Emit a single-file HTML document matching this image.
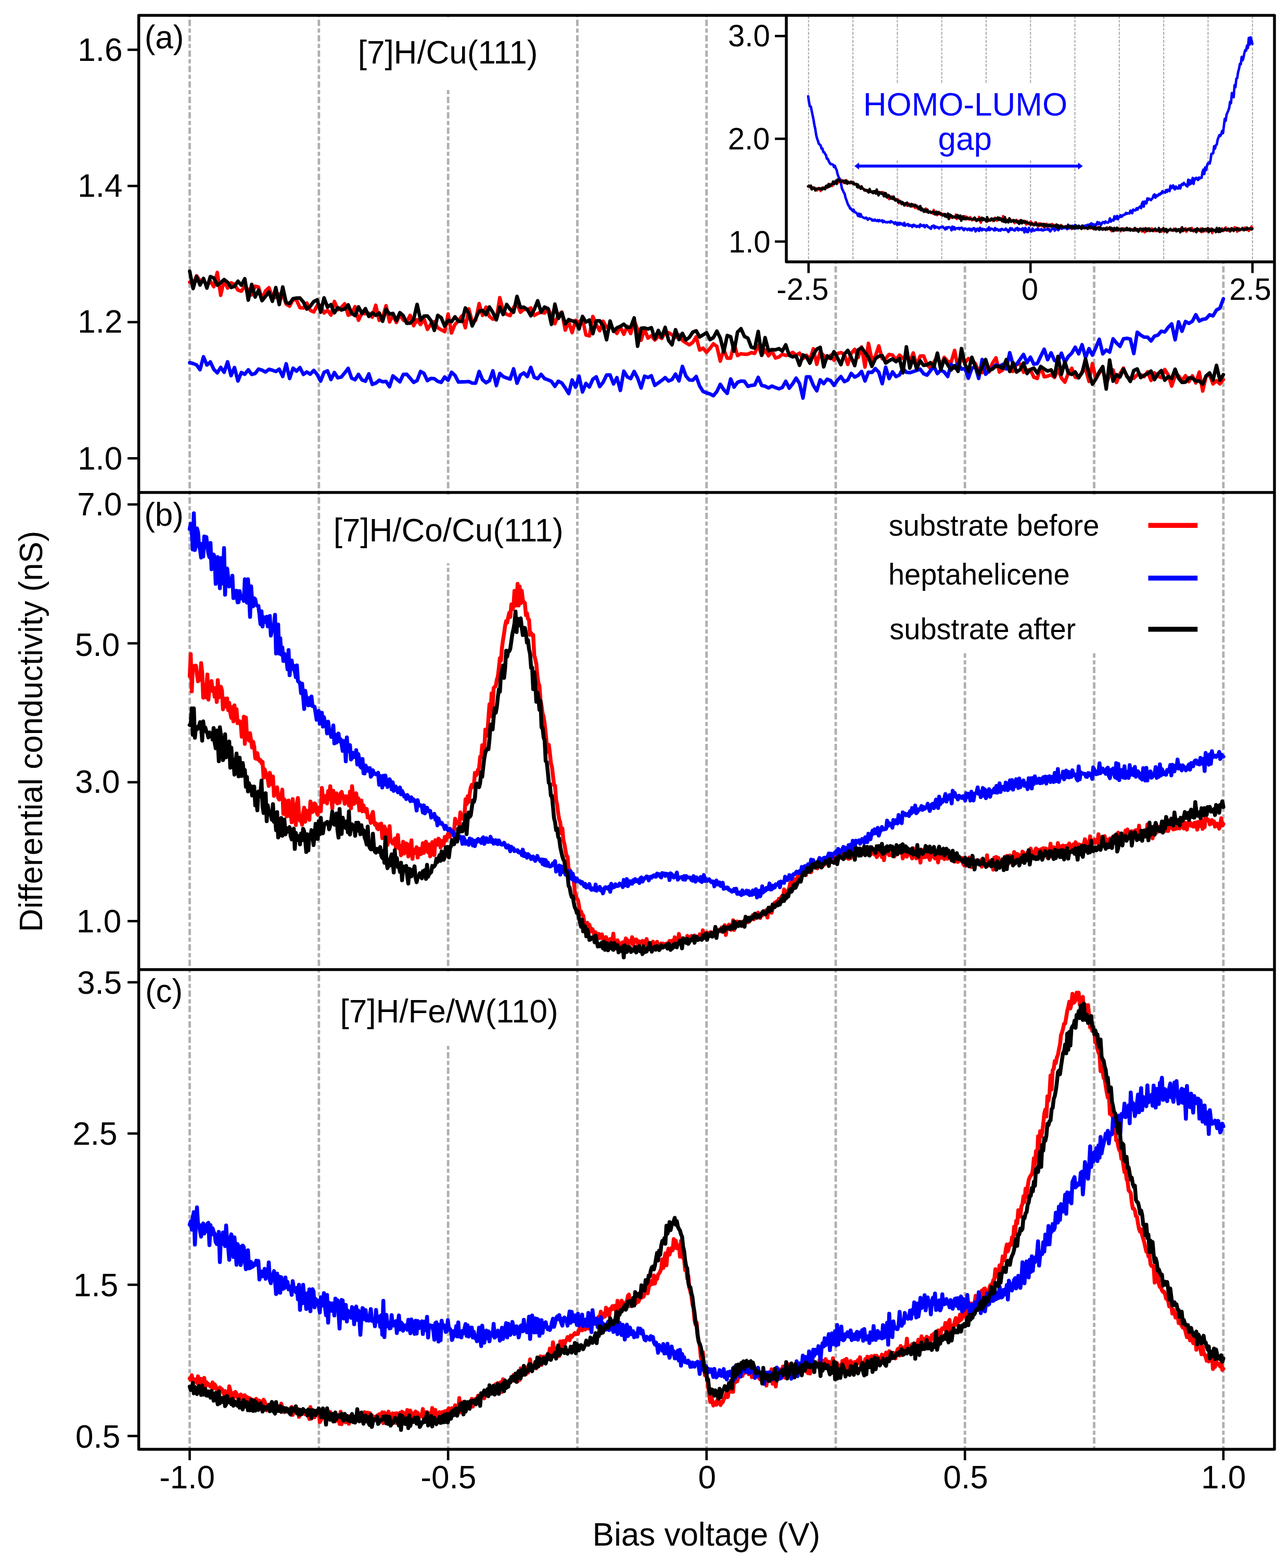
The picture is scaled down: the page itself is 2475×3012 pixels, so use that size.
<!DOCTYPE html>
<html><head><meta charset="utf-8"><title>Differential conductivity</title>
<style>html,body{margin:0;padding:0;background:#fff;}svg{display:block;}</style></head>
<body><svg width="2475" height="3012" viewBox="0 0 2475 3012">
<defs><clipPath id="cpall"><rect x="266.6" y="29.4" width="2182.4" height="2754.6"/></clipPath>
<clipPath id="cpa"><rect x="266.6" y="29.4" width="2182.4" height="916.6"/></clipPath>
<clipPath id="cpb"><rect x="266.6" y="946.0" width="2182.4" height="916.5"/></clipPath>
<clipPath id="cpc"><rect x="266.6" y="1862.5" width="2182.4" height="921.5"/></clipPath>
<clipPath id="cpi"><rect x="1511" y="29.4" width="938.0" height="473.6"/></clipPath></defs>
<rect width="2475" height="3012" fill="#fff"/>
<g stroke="#b0b0b0" stroke-width="4.8" stroke-dasharray="12.1 4.75 8.0 4.75" clip-path="url(#cpall)"><line x1="364.5" y1="8.2" x2="364.5" y2="2784.0"/><line x1="612.8" y1="8.2" x2="612.8" y2="2784.0"/><line x1="861.1" y1="8.2" x2="861.1" y2="2784.0"/><line x1="1109.4" y1="8.2" x2="1109.4" y2="2784.0"/><line x1="1357.7" y1="8.2" x2="1357.7" y2="2784.0"/><line x1="1605.9" y1="8.2" x2="1605.9" y2="2784.0"/><line x1="1854.2" y1="8.2" x2="1854.2" y2="2784.0"/><line x1="2102.5" y1="8.2" x2="2102.5" y2="2784.0"/><line x1="2350.8" y1="8.2" x2="2350.8" y2="2784.0"/></g>
<g fill="#fff">
<rect x="680" y="34" width="360" height="139"/>
<rect x="640" y="950" width="460" height="132"/>
<rect x="640" y="1866" width="460" height="143"/>
<rect x="1612" y="950" width="733" height="305"/>
<rect x="1511" y="29.4" width="938.0" height="473.6"/>
</g>
<g stroke="#aaaaaa" stroke-width="2.1" stroke-dasharray="5.9 2.7 4.1 2.7"><line x1="1553.7" y1="30.2" x2="1553.7" y2="500.5"/><line x1="1639.0" y1="30.2" x2="1639.0" y2="500.5"/><line x1="1724.3" y1="30.2" x2="1724.3" y2="500.5"/><line x1="1809.6" y1="30.2" x2="1809.6" y2="500.5"/><line x1="1894.9" y1="30.2" x2="1894.9" y2="500.5"/><line x1="1980.2" y1="30.2" x2="1980.2" y2="500.5"/><line x1="2065.5" y1="30.2" x2="2065.5" y2="500.5"/><line x1="2150.8" y1="30.2" x2="2150.8" y2="500.5"/><line x1="2236.1" y1="30.2" x2="2236.1" y2="500.5"/><line x1="2321.4" y1="30.2" x2="2321.4" y2="500.5"/><line x1="2406.7" y1="30.2" x2="2406.7" y2="500.5"/></g>
<rect x="1655" y="162" width="400" height="146" fill="#fff"/>
<polyline points="364.5,541.9 371.1,545.4 377.7,529.8 384.4,539.4 391.0,537.1 397.6,549.4 404.2,539.8 410.8,550.8 417.5,523.2 424.1,567.3 430.7,538.5 437.3,553.4 444.0,543.3 450.6,546.1 457.2,557.2 463.8,559.4 470.4,549.9 477.1,556.4 483.7,566.3 490.3,549.8 496.9,551.6 503.5,574.6 510.2,558.8 516.8,552.7 523.4,570.3 530.0,571.3 536.6,564.6 543.3,566.2 549.9,584.0 556.5,588.1 563.1,575.4 569.8,576.5 576.4,591.2 583.0,591.7 589.6,582.2 596.2,596.1 602.9,599.3 609.5,586.9 616.1,587.0 622.7,601.2 629.3,596.1 636.0,605.2 642.6,579.0 649.2,594.8 655.8,591.1 662.4,583.5 669.1,605.5 675.7,602.6 682.3,589.1 688.9,615.2 695.5,601.8 702.2,602.6 708.8,601.7 715.4,609.3 722.0,586.2 728.7,615.4 735.3,609.0 741.9,587.2 748.5,618.4 755.1,605.7 761.8,619.4 768.4,604.8 775.0,614.9 781.6,618.1 788.2,605.7 794.9,625.7 801.5,614.0 808.1,623.5 814.7,612.2 821.3,632.7 828.0,622.6 834.6,617.8 841.2,629.6 847.8,633.5 854.5,637.1 861.1,603.1 867.7,639.6 874.3,623.1 880.9,616.4 887.6,606.8 894.2,629.6 900.8,593.4 907.4,618.2 914.0,615.4 920.7,583.2 927.3,606.0 933.9,590.0 940.5,607.9 947.1,613.1 953.8,612.0 960.4,571.8 967.0,597.3 973.6,603.9 980.3,606.3 986.9,590.5 993.5,583.8 1000.1,599.8 1006.7,594.0 1013.4,594.7 1020.0,591.6 1026.6,605.9 1033.2,602.1 1039.8,599.8 1046.5,601.4 1053.1,592.8 1059.7,606.1 1066.3,621.8 1072.9,604.0 1079.6,599.7 1086.2,634.1 1092.8,617.9 1099.4,638.9 1106.1,615.2 1112.7,619.1 1119.3,612.0 1125.9,643.4 1132.5,645.3 1139.2,607.9 1145.8,623.3 1152.4,635.3 1159.0,617.1 1165.6,628.6 1172.3,626.2 1178.9,632.4 1185.5,640.5 1192.1,627.8 1198.7,642.1 1205.4,626.9 1212.0,640.7 1218.6,615.1 1225.2,632.8 1231.9,653.4 1238.5,632.2 1245.1,649.5 1251.7,645.0 1258.3,653.2 1265.0,645.7 1271.6,650.1 1278.2,638.8 1284.8,639.0 1291.4,643.3 1298.1,648.2 1304.7,643.4 1311.3,653.9 1317.9,658.4 1324.5,662.4 1331.2,657.7 1337.8,646.9 1344.4,672.4 1351.0,668.8 1357.7,676.8 1364.3,669.3 1370.9,660.4 1377.5,665.5 1384.1,693.6 1390.8,671.8 1397.4,688.2 1404.0,688.0 1410.6,659.2 1417.2,683.1 1423.9,679.5 1430.5,680.5 1437.1,680.3 1443.7,677.4 1450.3,678.8 1457.0,662.9 1463.6,682.8 1470.2,672.2 1476.8,683.4 1483.4,674.5 1490.1,687.8 1496.7,685.8 1503.3,680.4 1509.9,682.8 1516.6,680.9 1523.2,676.9 1529.8,682.1 1536.4,678.4 1543.0,688.9 1549.7,682.5 1556.3,690.2 1562.9,670.0 1569.5,699.8 1576.1,675.7 1582.8,683.1 1589.4,688.9 1596.0,682.7 1602.6,691.8 1609.2,679.3 1615.9,677.2 1622.5,680.6 1629.1,700.1 1635.7,678.7 1642.4,671.1 1649.0,686.6 1655.6,666.6 1662.2,705.1 1668.8,659.5 1675.5,691.7 1682.1,684.3 1688.7,664.4 1695.3,689.0 1701.9,688.8 1708.6,680.8 1715.2,682.2 1721.8,691.0 1728.4,682.0 1735.0,688.2 1741.7,684.3 1748.3,694.8 1754.9,677.9 1761.5,702.3 1768.2,684.0 1774.8,683.6 1781.4,700.3 1788.0,707.8 1794.6,695.7 1801.3,684.4 1807.9,702.2 1814.5,686.5 1821.1,694.4 1827.7,695.9 1834.4,672.9 1841.0,708.1 1847.6,687.7 1854.2,697.1 1860.8,688.8 1867.5,692.0 1874.1,698.3 1880.7,713.9 1887.3,715.8 1894.0,696.6 1900.6,714.6 1907.2,697.6 1913.8,687.4 1920.4,714.7 1927.1,710.3 1933.7,701.5 1940.3,712.8 1946.9,713.4 1953.5,699.1 1960.2,699.5 1966.8,715.0 1973.4,710.9 1980.0,710.2 1986.6,724.5 1993.3,727.1 1999.9,704.0 2006.5,723.9 2013.1,722.6 2019.8,720.1 2026.4,725.0 2033.0,710.0 2039.6,726.3 2046.2,734.1 2052.9,716.8 2059.5,707.4 2066.1,724.6 2072.7,725.8 2079.3,714.2 2086.0,708.3 2092.6,732.7 2099.2,698.4 2105.8,727.5 2112.4,716.7 2119.1,708.4 2125.7,737.6 2132.3,720.8 2138.9,710.6 2145.5,734.8 2152.2,718.1 2158.8,707.0 2165.4,723.8 2172.0,727.5 2178.7,726.7 2185.3,719.8 2191.9,719.7 2198.5,723.5 2205.1,714.4 2211.8,730.8 2218.4,716.3 2225.0,722.6 2231.6,725.4 2238.2,709.8 2244.9,720.3 2251.5,741.7 2258.1,722.2 2264.7,721.8 2271.3,731.2 2278.0,721.6 2284.6,733.1 2291.2,721.9 2297.8,735.6 2304.5,714.8 2311.1,751.2 2317.7,722.4 2324.3,719.6 2330.9,737.5 2337.6,731.3 2344.2,737.4 2350.8,729.1" stroke="#ff0000" stroke-width="6.8" fill="none" stroke-linejoin="round" stroke-linecap="round" clip-path="url(#cpa)"/>
<polyline points="364.5,696.6 371.1,698.4 377.7,700.9 384.4,710.2 391.0,685.3 397.6,701.2 404.2,695.2 410.8,709.3 417.5,716.2 424.1,705.7 430.7,715.1 437.3,694.9 444.0,721.6 450.6,705.9 457.2,731.9 463.8,715.5 470.4,719.0 477.1,710.3 483.7,719.3 490.3,717.4 496.9,708.9 503.5,711.0 510.2,714.7 516.8,709.3 523.4,711.1 530.0,713.6 536.6,709.1 543.3,723.3 549.9,698.8 556.5,727.1 563.1,707.2 569.8,712.9 576.4,706.2 583.0,719.2 589.6,714.5 596.2,718.8 602.9,711.5 609.5,719.4 616.1,732.1 622.7,715.2 629.3,712.4 636.0,729.0 642.6,715.5 649.2,725.8 655.8,724.2 662.4,716.4 669.1,707.5 675.7,726.5 682.3,729.4 688.9,719.2 695.5,729.8 702.2,732.2 708.8,718.2 715.4,738.4 722.0,736.0 728.7,730.5 735.3,733.3 741.9,732.7 748.5,742.8 755.1,722.0 761.8,727.6 768.4,733.5 775.0,719.2 781.6,719.0 788.2,726.6 794.9,734.6 801.5,731.0 808.1,713.6 814.7,717.2 821.3,731.2 828.0,726.8 834.6,727.3 841.2,732.6 847.8,734.6 854.5,724.2 861.1,730.5 867.7,715.1 874.3,721.0 880.9,733.9 887.6,733.5 894.2,733.4 900.8,732.9 907.4,735.8 914.0,736.1 920.7,713.6 927.3,729.7 933.9,735.2 940.5,731.4 947.1,712.3 953.8,740.7 960.4,717.3 967.0,723.4 973.6,726.1 980.3,728.3 986.9,708.5 993.5,736.1 1000.1,720.3 1006.7,716.3 1013.4,723.3 1020.0,705.7 1026.6,724.9 1033.2,727.4 1039.8,719.2 1046.5,727.3 1053.1,729.6 1059.7,732.7 1066.3,742.1 1072.9,732.2 1079.6,735.7 1086.2,745.2 1092.8,756.1 1099.4,729.8 1106.1,744.0 1112.7,722.6 1119.3,753.0 1125.9,736.5 1132.5,743.4 1139.2,728.5 1145.8,723.9 1152.4,742.5 1159.0,734.3 1165.6,720.5 1172.3,720.2 1178.9,737.6 1185.5,725.3 1192.1,750.0 1198.7,713.0 1205.4,723.9 1212.0,727.3 1218.6,713.6 1225.2,726.0 1231.9,745.2 1238.5,722.6 1245.1,725.2 1251.7,721.9 1258.3,740.3 1265.0,735.5 1271.6,730.8 1278.2,725.4 1284.8,732.0 1291.4,729.0 1298.1,718.5 1304.7,731.6 1311.3,703.7 1317.9,722.0 1324.5,729.8 1331.2,730.4 1337.8,723.2 1344.4,741.4 1351.0,752.0 1357.7,754.6 1364.3,756.8 1370.9,760.1 1377.5,752.1 1384.1,738.2 1390.8,748.7 1397.4,755.6 1404.0,727.9 1410.6,743.6 1417.2,734.5 1423.9,731.8 1430.5,732.5 1437.1,742.2 1443.7,740.3 1450.3,739.5 1457.0,724.9 1463.6,740.4 1470.2,741.9 1476.8,745.2 1483.4,741.6 1490.1,744.5 1496.7,746.9 1503.3,744.4 1509.9,732.3 1516.6,745.7 1523.2,737.1 1529.8,726.4 1536.4,736.8 1543.0,764.6 1549.7,723.9 1556.3,723.9 1562.9,740.1 1569.5,750.8 1576.1,729.4 1582.8,737.0 1589.4,728.5 1596.0,731.0 1602.6,740.3 1609.2,730.5 1615.9,723.4 1622.5,733.1 1629.1,730.0 1635.7,717.3 1642.4,724.3 1649.0,721.2 1655.6,713.6 1662.2,731.9 1668.8,714.8 1675.5,715.4 1682.1,708.1 1688.7,715.0 1695.3,737.0 1701.9,705.4 1708.6,727.3 1715.2,714.4 1721.8,723.5 1728.4,720.3 1735.0,707.5 1741.7,715.2 1748.3,715.9 1754.9,713.8 1761.5,711.5 1768.2,709.0 1774.8,717.9 1781.4,720.6 1788.0,711.9 1794.6,703.8 1801.3,717.7 1807.9,711.2 1814.5,714.6 1821.1,723.3 1827.7,699.9 1834.4,706.9 1841.0,698.1 1847.6,709.1 1854.2,707.8 1860.8,726.6 1867.5,707.7 1874.1,703.9 1880.7,727.0 1887.3,690.6 1894.0,719.0 1900.6,712.2 1907.2,707.2 1913.8,700.9 1920.4,703.5 1927.1,699.9 1933.7,708.6 1940.3,677.5 1946.9,701.7 1953.5,699.8 1960.2,690.1 1966.8,680.8 1973.4,696.8 1980.0,686.1 1986.6,699.7 1993.3,698.4 1999.9,684.2 2006.5,670.8 2013.1,690.9 2019.8,677.8 2026.4,692.6 2033.0,694.5 2039.6,678.4 2046.2,696.1 2052.9,684.8 2059.5,678.4 2066.1,666.9 2072.7,679.8 2079.3,662.1 2086.0,686.8 2092.6,669.7 2099.2,682.2 2105.8,667.8 2112.4,651.7 2119.1,679.7 2125.7,672.3 2132.3,676.4 2138.9,650.8 2145.5,658.9 2152.2,665.4 2158.8,650.8 2165.4,649.9 2172.0,651.4 2178.7,679.3 2185.3,638.1 2191.9,643.7 2198.5,647.7 2205.1,647.6 2211.8,654.9 2218.4,645.8 2225.0,643.8 2231.6,636.2 2238.2,637.7 2244.9,628.7 2251.5,622.2 2258.1,652.8 2264.7,618.2 2271.3,636.3 2278.0,617.6 2284.6,621.2 2291.2,617.2 2297.8,604.5 2304.5,616.7 2311.1,613.4 2317.7,612.3 2324.3,604.7 2330.9,606.8 2337.6,595.5 2344.2,591.9 2350.8,574.0" stroke="#0000ff" stroke-width="6.8" fill="none" stroke-linejoin="round" stroke-linecap="round" clip-path="url(#cpa)"/>
<polyline points="364.5,520.9 371.1,554.4 377.7,531.0 384.4,547.6 391.0,534.7 397.6,553.4 404.2,531.3 410.8,533.9 417.5,547.8 424.1,543.1 430.7,537.0 437.3,542.1 444.0,552.2 450.6,550.1 457.2,540.2 463.8,547.9 470.4,535.2 477.1,576.5 483.7,546.2 490.3,570.6 496.9,557.3 503.5,577.6 510.2,569.4 516.8,560.9 523.4,578.8 530.0,552.3 536.6,585.0 543.3,551.3 549.9,581.4 556.5,583.0 563.1,573.6 569.8,572.7 576.4,572.4 583.0,580.3 589.6,593.7 596.2,588.3 602.9,579.3 609.5,575.9 616.1,599.7 622.7,572.1 629.3,590.0 636.0,585.1 642.6,600.9 649.2,590.8 655.8,595.6 662.4,593.5 669.1,585.6 675.7,601.8 682.3,606.3 688.9,589.4 695.5,602.2 702.2,592.8 708.8,607.8 715.4,601.1 722.0,605.8 728.7,601.2 735.3,617.1 741.9,593.9 748.5,603.3 755.1,602.0 761.8,616.0 768.4,600.6 775.0,606.6 781.6,621.2 788.2,620.6 794.9,613.6 801.5,584.6 808.1,614.7 814.7,607.2 821.3,606.8 828.0,615.6 834.6,634.7 841.2,605.7 847.8,610.3 854.5,626.4 861.1,615.2 867.7,617.9 874.3,608.5 880.9,617.1 887.6,617.4 894.2,591.5 900.8,602.3 907.4,626.1 914.0,611.9 920.7,597.9 927.3,596.3 933.9,604.6 940.5,589.7 947.1,600.1 953.8,614.4 960.4,590.0 967.0,604.2 973.6,584.8 980.3,594.2 986.9,599.9 993.5,569.2 1000.1,590.7 1006.7,589.9 1013.4,594.7 1020.0,606.6 1026.6,594.4 1033.2,577.7 1039.8,599.4 1046.5,589.7 1053.1,593.1 1059.7,623.2 1066.3,584.2 1072.9,611.7 1079.6,600.2 1086.2,622.1 1092.8,613.8 1099.4,616.4 1106.1,618.1 1112.7,632.0 1119.3,607.8 1125.9,618.6 1132.5,614.8 1139.2,641.0 1145.8,616.3 1152.4,616.1 1159.0,625.8 1165.6,652.6 1172.3,616.6 1178.9,636.8 1185.5,629.7 1192.1,627.0 1198.7,622.7 1205.4,629.3 1212.0,628.2 1218.6,610.6 1225.2,665.1 1231.9,630.6 1238.5,630.0 1245.1,632.0 1251.7,629.4 1258.3,650.6 1265.0,634.7 1271.6,647.6 1278.2,628.8 1284.8,653.8 1291.4,662.3 1298.1,633.2 1304.7,652.3 1311.3,640.2 1317.9,653.1 1324.5,648.1 1331.2,638.0 1337.8,635.4 1344.4,647.2 1351.0,643.3 1357.7,639.0 1364.3,652.5 1370.9,648.5 1377.5,636.1 1384.1,649.3 1390.8,676.3 1397.4,644.4 1404.0,646.7 1410.6,674.6 1417.2,637.9 1423.9,631.4 1430.5,646.4 1437.1,649.5 1443.7,667.0 1450.3,668.6 1457.0,636.7 1463.6,682.6 1470.2,648.5 1476.8,673.7 1483.4,671.6 1490.1,672.0 1496.7,669.6 1503.3,674.4 1509.9,662.4 1516.6,682.7 1523.2,685.5 1529.8,683.7 1536.4,701.8 1543.0,681.7 1549.7,685.6 1556.3,697.6 1562.9,680.7 1569.5,670.8 1576.1,667.1 1582.8,704.7 1589.4,683.6 1596.0,688.6 1602.6,675.6 1609.2,687.2 1615.9,700.5 1622.5,680.3 1629.1,673.1 1635.7,686.3 1642.4,702.3 1649.0,672.0 1655.6,667.8 1662.2,677.0 1668.8,685.9 1675.5,703.7 1682.1,689.1 1688.7,684.3 1695.3,683.1 1701.9,697.3 1708.6,692.9 1715.2,689.6 1721.8,694.7 1728.4,688.9 1735.0,716.4 1741.7,666.2 1748.3,707.2 1754.9,686.8 1761.5,708.5 1768.2,692.9 1774.8,701.9 1781.4,700.8 1788.0,696.5 1794.6,704.9 1801.3,678.2 1807.9,709.9 1814.5,689.7 1821.1,700.8 1827.7,710.7 1834.4,702.6 1841.0,713.4 1847.6,669.5 1854.2,699.4 1860.8,713.6 1867.5,686.3 1874.1,704.2 1880.7,719.5 1887.3,704.6 1894.0,690.5 1900.6,712.0 1907.2,708.9 1913.8,703.1 1920.4,704.1 1927.1,707.4 1933.7,690.8 1940.3,713.4 1946.9,696.8 1953.5,714.7 1960.2,710.0 1966.8,697.4 1973.4,717.5 1980.0,709.6 1986.6,707.2 1993.3,716.7 1999.9,704.0 2006.5,708.8 2013.1,712.7 2019.8,710.4 2026.4,723.1 2033.0,684.6 2039.6,719.1 2046.2,695.1 2052.9,716.9 2059.5,719.2 2066.1,714.4 2072.7,725.5 2079.3,716.0 2086.0,689.4 2092.6,717.7 2099.2,737.9 2105.8,727.9 2112.4,714.1 2119.1,704.2 2125.7,747.3 2132.3,691.6 2138.9,732.2 2145.5,719.7 2152.2,724.1 2158.8,708.9 2165.4,721.7 2172.0,732.8 2178.7,711.6 2185.3,708.7 2191.9,725.3 2198.5,720.8 2205.1,717.9 2211.8,712.8 2218.4,729.3 2225.0,718.5 2231.6,711.8 2238.2,730.4 2244.9,723.4 2251.5,727.0 2258.1,709.2 2264.7,726.5 2271.3,734.6 2278.0,734.0 2284.6,726.0 2291.2,726.1 2297.8,731.9 2304.5,731.8 2311.1,738.0 2317.7,721.8 2324.3,716.3 2330.9,730.1 2337.6,701.8 2344.2,730.5 2350.8,719.6" stroke="#000000" stroke-width="6.8" fill="none" stroke-linejoin="round" stroke-linecap="round" clip-path="url(#cpa)"/>
<polyline points="364.5,1299.2 366.5,1256.5 368.5,1328.1 370.5,1280.7 372.5,1279.3 374.5,1283.3 376.5,1278.7 378.5,1295.5 380.5,1308.7 382.5,1301.2 384.5,1306.1 386.5,1273.7 388.5,1292.0 390.5,1340.2 392.5,1315.5 394.5,1339.5 396.5,1320.5 398.5,1295.8 400.5,1343.9 402.5,1321.5 404.5,1320.2 406.5,1308.3 408.5,1327.3 410.5,1321.2 412.5,1338.2 414.5,1321.8 416.5,1348.4 418.5,1306.4 420.5,1339.8 422.5,1336.1 424.5,1319.3 426.5,1325.8 428.5,1362.6 430.5,1345.9 432.5,1342.1 434.5,1357.2 436.5,1341.8 438.5,1364.2 440.5,1350.1 442.5,1369.3 444.5,1379.0 446.5,1358.3 448.5,1385.7 450.5,1354.9 452.5,1379.1 454.5,1362.4 456.5,1389.3 458.5,1387.5 460.5,1385.4 462.5,1388.8 464.5,1415.1 466.5,1410.8 468.5,1376.8 470.5,1428.9 472.5,1378.4 474.5,1412.1 476.5,1418.1 478.5,1422.5 480.5,1408.4 482.5,1423.0 484.5,1435.9 486.5,1425.0 488.5,1434.5 490.5,1456.7 492.5,1457.6 494.5,1446.8 496.5,1457.8 498.5,1461.3 500.5,1459.9 502.5,1466.0 504.5,1463.5 506.5,1493.9 508.5,1477.7 510.5,1483.7 512.5,1491.3 514.5,1496.7 516.5,1509.7 518.5,1484.6 520.5,1494.8 522.5,1506.4 524.5,1491.8 526.5,1528.7 528.5,1515.4 530.5,1518.1 532.5,1512.4 534.5,1532.3 536.5,1535.9 538.5,1530.9 540.5,1527.4 542.5,1516.9 544.5,1563.4 546.5,1535.8 548.5,1539.4 550.5,1568.2 552.5,1554.8 554.5,1537.7 556.5,1567.6 558.5,1561.5 560.5,1579.6 562.5,1535.1 564.5,1570.1 566.5,1565.6 568.5,1584.7 570.5,1544.0 572.5,1532.9 574.5,1563.0 576.5,1576.4 578.5,1575.1 580.5,1584.2 582.5,1561.1 584.5,1551.4 586.5,1578.4 588.5,1557.0 590.5,1558.2 592.5,1560.9 594.5,1574.8 596.5,1539.4 598.5,1548.0 600.5,1559.8 602.5,1553.8 604.5,1543.3 606.5,1545.2 608.5,1560.4 610.5,1565.1 612.5,1551.3 614.5,1552.7 616.5,1558.4 618.5,1513.6 620.5,1534.4 622.5,1540.6 624.5,1529.0 626.5,1532.6 628.5,1543.3 630.5,1519.8 632.5,1535.4 634.5,1510.2 636.5,1529.7 638.5,1553.0 640.5,1518.9 642.5,1539.1 644.5,1540.0 646.5,1524.0 648.5,1543.2 650.5,1534.0 652.5,1541.9 654.5,1524.0 656.5,1521.1 658.5,1530.4 660.5,1533.6 662.5,1544.0 664.5,1529.5 666.5,1530.3 668.5,1533.4 670.5,1547.0 672.5,1520.7 674.5,1552.8 676.5,1510.3 678.5,1530.2 680.5,1544.2 682.5,1535.9 684.5,1523.9 686.5,1541.4 688.5,1533.4 690.5,1556.6 692.5,1548.3 694.5,1537.7 696.6,1558.6 698.6,1547.2 700.6,1556.5 702.6,1559.1 704.6,1553.8 706.6,1570.3 708.6,1568.6 710.6,1570.5 712.6,1580.7 714.6,1564.6 716.6,1559.6 718.6,1578.6 720.6,1584.2 722.6,1581.6 724.6,1590.8 726.6,1592.8 728.6,1583.5 730.6,1589.7 732.6,1582.0 734.6,1610.0 736.6,1588.9 738.6,1587.7 740.6,1592.9 742.6,1602.6 744.6,1622.9 746.6,1608.0 748.6,1586.9 750.6,1616.5 752.6,1616.1 754.6,1620.4 756.6,1617.9 758.6,1610.8 760.6,1628.3 762.6,1615.7 764.6,1604.1 766.6,1629.5 768.6,1624.6 770.6,1642.9 772.6,1638.1 774.6,1616.9 776.6,1639.5 778.6,1634.6 780.6,1620.3 782.6,1621.4 784.6,1645.3 786.6,1640.7 788.6,1633.3 790.6,1614.3 792.6,1649.9 794.6,1633.0 796.6,1631.7 798.6,1638.3 800.6,1627.4 802.6,1647.3 804.6,1634.5 806.6,1630.6 808.6,1640.9 810.6,1634.0 812.6,1619.7 814.6,1638.4 816.6,1629.0 818.6,1616.9 820.6,1631.8 822.6,1637.3 824.6,1622.1 826.6,1645.1 828.6,1639.2 830.6,1617.8 832.6,1633.1 834.6,1642.8 836.6,1614.1 838.6,1616.8 840.6,1622.7 842.6,1611.0 844.6,1614.1 846.6,1628.0 848.6,1615.4 850.6,1623.2 852.6,1622.1 854.6,1607.7 856.6,1614.7 858.6,1608.9 860.6,1602.4 862.6,1599.4 864.6,1607.7 866.6,1596.1 868.6,1599.2 870.6,1600.7 872.6,1595.3 874.6,1572.8 876.6,1580.3 878.6,1582.1 880.6,1580.7 882.6,1584.1 884.6,1560.6 886.6,1569.8 888.6,1571.5 890.6,1573.6 892.6,1564.7 894.6,1535.3 896.6,1544.9 898.6,1529.8 900.6,1540.7 902.6,1524.2 904.6,1512.6 906.6,1507.7 908.6,1511.6 910.6,1509.0 912.6,1484.7 914.6,1489.8 916.6,1486.7 918.6,1478.7 920.6,1475.7 922.6,1454.1 924.6,1454.9 926.6,1431.4 928.6,1449.0 930.6,1442.4 932.6,1401.6 934.6,1413.7 936.6,1408.5 938.6,1379.2 940.6,1352.7 942.6,1376.1 944.6,1332.0 946.6,1359.0 948.6,1321.8 950.6,1319.3 952.6,1318.0 954.6,1306.2 956.6,1299.7 958.6,1283.4 960.6,1264.3 962.6,1268.9 964.6,1243.9 966.6,1229.2 968.6,1216.9 970.6,1202.3 972.6,1193.1 974.6,1196.2 976.6,1185.9 978.6,1177.0 980.6,1185.1 982.6,1161.0 984.6,1170.1 986.6,1166.4 988.6,1135.1 990.6,1149.1 992.6,1162.9 994.6,1121.6 996.6,1163.1 998.6,1126.7 1000.6,1158.6 1002.6,1135.0 1004.6,1152.2 1006.6,1157.2 1008.6,1158.1 1010.6,1181.6 1012.6,1177.9 1014.6,1188.7 1016.6,1190.5 1018.6,1219.3 1020.6,1215.7 1022.6,1220.3 1024.6,1219.9 1026.6,1258.8 1028.6,1265.9 1030.6,1275.1 1032.6,1298.2 1034.6,1312.0 1036.6,1317.3 1038.6,1345.5 1040.6,1356.0 1042.6,1370.3 1044.6,1376.8 1046.6,1390.4 1048.6,1408.1 1050.6,1429.3 1052.6,1444.1 1054.6,1430.8 1056.6,1446.1 1058.6,1465.9 1060.6,1472.7 1062.6,1490.4 1064.6,1508.2 1066.6,1509.3 1068.6,1536.5 1070.6,1545.6 1072.6,1562.2 1074.6,1574.3 1076.6,1579.8 1078.6,1600.7 1080.6,1591.1 1082.6,1613.5 1084.6,1621.8 1086.6,1633.0 1088.6,1644.9 1090.6,1645.6 1092.6,1668.5 1094.6,1671.1 1096.6,1676.7 1098.6,1687.8 1100.6,1688.9 1102.6,1692.6 1104.6,1714.5 1106.6,1719.9 1108.6,1726.7 1110.6,1728.8 1112.6,1739.8 1114.6,1754.1 1116.6,1750.7 1118.6,1757.4 1120.6,1758.7 1122.6,1770.5 1124.6,1775.4 1126.6,1774.5 1128.6,1772.7 1130.6,1780.5 1132.6,1776.4 1134.6,1783.6 1136.6,1789.1 1138.6,1784.9 1140.6,1790.8 1142.6,1799.6 1144.6,1790.8 1146.6,1799.4 1148.6,1794.4 1150.6,1794.1 1152.6,1802.2 1154.6,1800.0 1156.6,1794.8 1158.6,1802.9 1160.6,1805.1 1162.6,1812.4 1164.6,1800.1 1166.6,1806.3 1168.6,1808.5 1170.6,1806.0 1172.6,1804.0 1174.6,1814.4 1176.6,1809.4 1178.6,1793.5 1180.6,1815.4 1182.6,1807.8 1184.6,1810.6 1186.6,1806.1 1188.6,1811.2 1190.6,1814.9 1192.6,1812.2 1194.6,1813.1 1196.6,1810.0 1198.6,1810.9 1200.6,1811.4 1202.6,1802.6 1204.6,1821.2 1206.6,1806.5 1208.6,1810.7 1210.6,1809.8 1212.6,1811.9 1214.6,1800.2 1216.6,1815.1 1218.6,1804.7 1220.6,1808.7 1222.6,1804.6 1224.6,1806.9 1226.6,1816.8 1228.6,1808.4 1230.6,1812.1 1232.6,1811.3 1234.6,1807.4 1236.6,1811.2 1238.6,1808.2 1240.6,1813.4 1242.6,1803.8 1244.6,1815.1 1246.6,1817.7 1248.6,1816.9 1250.6,1816.3 1252.6,1813.9 1254.6,1808.8 1256.6,1819.6 1258.6,1814.9 1260.6,1814.7 1262.6,1809.0 1264.6,1818.5 1266.6,1820.3 1268.6,1815.5 1270.6,1812.1 1272.6,1816.6 1274.6,1812.7 1276.6,1814.0 1278.6,1816.1 1280.6,1812.5 1282.6,1811.8 1284.6,1813.2 1286.6,1807.3 1288.6,1808.2 1290.6,1814.2 1292.6,1806.7 1294.6,1812.8 1296.6,1800.4 1298.6,1816.5 1300.6,1805.5 1302.6,1814.5 1304.6,1793.9 1306.6,1803.6 1308.6,1814.5 1310.6,1803.7 1312.6,1805.9 1314.6,1804.4 1316.6,1804.4 1318.6,1805.3 1320.6,1797.9 1322.6,1803.4 1324.6,1807.5 1326.6,1800.0 1328.6,1798.0 1330.6,1801.8 1332.6,1804.0 1334.6,1797.0 1336.6,1798.7 1338.6,1801.0 1340.6,1801.0 1342.6,1802.6 1344.6,1794.7 1346.6,1798.8 1348.6,1800.5 1350.6,1787.1 1352.6,1799.7 1354.6,1797.3 1356.6,1794.2 1358.7,1791.5 1360.7,1798.0 1362.7,1797.7 1364.7,1790.7 1366.7,1790.7 1368.7,1791.8 1370.7,1797.9 1372.7,1793.2 1374.7,1788.3 1376.7,1785.1 1378.7,1785.7 1380.7,1789.1 1382.7,1787.0 1384.7,1788.7 1386.7,1781.7 1388.7,1787.3 1390.7,1787.7 1392.7,1777.3 1394.7,1795.9 1396.7,1782.2 1398.7,1784.1 1400.7,1776.2 1402.7,1779.3 1404.7,1786.1 1406.7,1781.5 1408.7,1767.9 1410.7,1786.3 1412.7,1778.2 1414.7,1777.6 1416.7,1770.2 1418.7,1777.4 1420.7,1771.1 1422.7,1776.2 1424.7,1778.5 1426.7,1771.1 1428.7,1773.7 1430.7,1767.2 1432.7,1765.7 1434.7,1770.0 1436.7,1771.6 1438.7,1770.9 1440.7,1763.6 1442.7,1766.4 1444.7,1762.6 1446.7,1757.8 1448.7,1765.9 1450.7,1763.3 1452.7,1759.2 1454.7,1760.5 1456.7,1753.2 1458.7,1761.9 1460.7,1763.4 1462.7,1755.2 1464.7,1758.6 1466.7,1755.9 1468.7,1750.4 1470.7,1754.7 1472.7,1748.1 1474.7,1762.5 1476.7,1745.5 1478.7,1743.5 1480.7,1742.6 1482.7,1753.4 1484.7,1744.4 1486.7,1742.7 1488.7,1734.1 1490.7,1737.3 1492.7,1731.3 1494.7,1738.5 1496.7,1726.6 1498.7,1735.7 1500.7,1724.5 1502.7,1721.1 1504.7,1726.1 1506.7,1708.4 1508.7,1715.7 1510.7,1712.8 1512.7,1715.2 1514.7,1710.4 1516.7,1705.1 1518.7,1695.5 1520.7,1700.9 1522.7,1694.2 1524.7,1701.5 1526.7,1688.9 1528.7,1692.9 1530.7,1694.5 1532.7,1683.5 1534.7,1687.8 1536.7,1680.7 1538.7,1682.4 1540.7,1680.0 1542.7,1678.2 1544.7,1676.8 1546.7,1673.2 1548.7,1681.2 1550.7,1666.3 1552.7,1672.8 1554.7,1668.3 1556.7,1660.4 1558.7,1675.4 1560.7,1666.3 1562.7,1660.1 1564.7,1664.3 1566.7,1658.7 1568.7,1666.8 1570.7,1668.0 1572.7,1663.6 1574.7,1653.2 1576.7,1654.8 1578.7,1663.9 1580.7,1664.1 1582.7,1654.8 1584.7,1660.8 1586.7,1648.3 1588.7,1656.8 1590.7,1656.2 1592.7,1651.0 1594.7,1652.2 1596.7,1654.7 1598.7,1646.7 1600.7,1646.3 1602.7,1653.2 1604.7,1647.1 1606.7,1641.7 1608.7,1648.8 1610.7,1641.2 1612.7,1646.9 1614.7,1641.1 1616.7,1640.5 1618.7,1638.4 1620.7,1642.9 1622.7,1639.8 1624.7,1648.0 1626.7,1635.9 1628.7,1633.2 1630.7,1649.7 1632.7,1625.6 1634.7,1648.3 1636.7,1630.5 1638.7,1644.5 1640.7,1633.6 1642.7,1639.5 1644.7,1635.9 1646.7,1636.1 1648.7,1639.0 1650.7,1632.7 1652.7,1639.6 1654.7,1630.6 1656.7,1634.8 1658.7,1635.1 1660.7,1636.9 1662.7,1642.4 1664.7,1631.2 1666.7,1635.2 1668.7,1634.4 1670.7,1638.5 1672.7,1641.9 1674.7,1634.6 1676.7,1639.4 1678.7,1637.6 1680.7,1641.5 1682.7,1630.7 1684.7,1646.4 1686.7,1643.2 1688.7,1634.5 1690.7,1641.2 1692.7,1636.0 1694.7,1646.3 1696.7,1641.1 1698.7,1652.3 1700.7,1633.7 1702.7,1636.3 1704.7,1639.2 1706.7,1634.6 1708.7,1642.7 1710.7,1640.3 1712.7,1642.8 1714.7,1639.0 1716.7,1636.0 1718.7,1645.3 1720.7,1638.6 1722.7,1641.0 1724.7,1631.1 1726.7,1636.6 1728.7,1637.1 1730.7,1638.1 1732.7,1629.3 1734.7,1648.9 1736.7,1636.0 1738.7,1643.9 1740.7,1641.7 1742.7,1645.5 1744.7,1639.9 1746.7,1640.9 1748.7,1636.2 1750.7,1642.6 1752.7,1649.0 1754.7,1629.2 1756.7,1641.2 1758.7,1644.1 1760.7,1648.8 1762.7,1633.4 1764.7,1641.9 1766.7,1643.8 1768.7,1657.0 1770.7,1632.3 1772.7,1643.6 1774.7,1646.8 1776.7,1638.2 1778.7,1646.5 1780.7,1644.7 1782.7,1641.1 1784.7,1646.3 1786.7,1651.8 1788.7,1641.5 1790.7,1641.9 1792.7,1641.4 1794.7,1646.8 1796.7,1648.9 1798.7,1642.9 1800.7,1645.5 1802.7,1656.7 1804.7,1635.3 1806.7,1640.5 1808.7,1647.8 1810.7,1642.8 1812.7,1648.0 1814.7,1650.2 1816.7,1644.9 1818.7,1644.3 1820.7,1649.4 1822.7,1648.2 1824.7,1645.9 1826.7,1645.0 1828.7,1652.6 1830.7,1646.2 1832.7,1643.7 1834.7,1655.3 1836.7,1646.2 1838.7,1649.1 1840.7,1655.7 1842.7,1646.7 1844.7,1653.3 1846.7,1648.6 1848.7,1648.1 1850.7,1658.9 1852.7,1662.2 1854.7,1647.7 1856.7,1663.0 1858.7,1658.5 1860.7,1661.0 1862.7,1647.2 1864.7,1654.6 1866.7,1665.5 1868.7,1652.3 1870.7,1656.1 1872.7,1659.7 1874.7,1657.9 1876.7,1652.3 1878.7,1656.4 1880.7,1660.2 1882.7,1656.7 1884.7,1652.4 1886.7,1664.8 1888.7,1658.6 1890.7,1653.6 1892.7,1654.9 1894.7,1663.0 1896.7,1642.9 1898.7,1662.8 1900.7,1653.6 1902.7,1654.2 1904.7,1662.0 1906.7,1655.4 1908.7,1670.5 1910.7,1647.5 1912.7,1656.9 1914.7,1646.1 1916.7,1661.9 1918.7,1648.2 1920.7,1655.4 1922.7,1658.9 1924.7,1655.7 1926.7,1651.9 1928.7,1657.1 1930.7,1646.0 1932.7,1646.7 1934.7,1644.2 1936.7,1656.0 1938.7,1658.7 1940.7,1643.2 1942.7,1649.4 1944.7,1646.6 1946.7,1651.1 1948.7,1636.8 1950.7,1655.5 1952.7,1650.6 1954.7,1640.4 1956.7,1642.0 1958.7,1643.0 1960.7,1650.0 1962.7,1651.3 1964.7,1636.0 1966.7,1637.8 1968.7,1647.4 1970.7,1644.4 1972.7,1646.0 1974.7,1637.1 1976.7,1647.4 1978.7,1645.9 1980.7,1630.0 1982.7,1642.7 1984.7,1644.3 1986.7,1642.8 1988.7,1634.9 1990.7,1629.8 1992.7,1638.7 1994.7,1632.3 1996.7,1638.1 1998.7,1644.2 2000.7,1631.3 2002.7,1638.4 2004.7,1629.4 2006.7,1643.5 2008.7,1629.9 2010.7,1630.6 2012.7,1647.0 2014.7,1631.8 2016.7,1636.7 2018.7,1620.8 2020.8,1645.1 2022.8,1638.7 2024.8,1627.5 2026.8,1630.3 2028.8,1628.6 2030.8,1638.0 2032.8,1619.4 2034.8,1635.3 2036.8,1639.9 2038.8,1625.5 2040.8,1639.5 2042.8,1624.2 2044.8,1626.3 2046.8,1633.4 2048.8,1624.8 2050.8,1627.6 2052.8,1624.0 2054.8,1620.2 2056.8,1626.7 2058.8,1629.9 2060.8,1629.4 2062.8,1621.7 2064.8,1626.0 2066.8,1617.8 2068.8,1624.4 2070.8,1622.5 2072.8,1622.1 2074.8,1622.8 2076.8,1623.6 2078.8,1627.5 2080.8,1622.6 2082.8,1621.8 2084.8,1612.1 2086.8,1618.0 2088.8,1621.5 2090.8,1619.5 2092.8,1622.5 2094.8,1606.6 2096.8,1622.9 2098.8,1617.8 2100.8,1614.9 2102.8,1612.9 2104.8,1619.4 2106.8,1614.5 2108.8,1618.5 2110.8,1602.5 2112.8,1614.1 2114.8,1625.1 2116.8,1611.7 2118.8,1608.5 2120.8,1613.0 2122.8,1606.0 2124.8,1623.4 2126.8,1616.8 2128.8,1613.2 2130.8,1615.9 2132.8,1610.6 2134.8,1616.7 2136.8,1610.4 2138.8,1616.1 2140.8,1605.6 2142.8,1608.2 2144.8,1605.1 2146.8,1606.4 2148.8,1599.3 2150.8,1618.3 2152.8,1611.6 2154.8,1607.1 2156.8,1609.8 2158.8,1604.3 2160.8,1607.3 2162.8,1595.5 2164.8,1606.9 2166.8,1593.4 2168.8,1603.6 2170.8,1602.9 2172.8,1601.4 2174.8,1596.7 2176.8,1611.8 2178.8,1604.2 2180.8,1595.6 2182.8,1594.6 2184.8,1600.2 2186.8,1606.5 2188.8,1586.0 2190.8,1608.3 2192.8,1596.0 2194.8,1596.2 2196.8,1604.8 2198.8,1595.2 2200.8,1594.9 2202.8,1604.9 2204.8,1583.9 2206.8,1609.2 2208.8,1586.6 2210.8,1592.1 2212.8,1606.1 2214.8,1610.3 2216.8,1593.3 2218.8,1585.5 2220.8,1582.0 2222.8,1599.3 2224.8,1591.7 2226.8,1588.4 2228.8,1592.1 2230.8,1587.3 2232.8,1597.4 2234.8,1587.7 2236.8,1588.8 2238.8,1576.7 2240.8,1595.9 2242.8,1579.3 2244.8,1596.2 2246.8,1586.0 2248.8,1575.6 2250.8,1590.5 2252.8,1581.0 2254.8,1593.4 2256.8,1588.4 2258.8,1592.1 2260.8,1579.3 2262.8,1591.3 2264.8,1576.6 2266.8,1591.3 2268.8,1583.6 2270.8,1587.6 2272.8,1584.7 2274.8,1591.4 2276.8,1580.3 2278.8,1584.5 2280.8,1593.6 2282.8,1580.5 2284.8,1581.1 2286.8,1579.7 2288.8,1586.1 2290.8,1583.4 2292.8,1587.6 2294.8,1580.8 2296.8,1588.0 2298.8,1579.9 2300.8,1593.6 2302.8,1578.7 2304.8,1587.2 2306.8,1583.4 2308.8,1573.5 2310.8,1592.2 2312.8,1577.2 2314.8,1589.0 2316.8,1567.4 2318.8,1575.5 2320.8,1574.1 2322.8,1575.6 2324.8,1583.7 2326.8,1582.3 2328.8,1575.3 2330.8,1581.6 2332.8,1577.9 2334.8,1587.9 2336.8,1584.5 2338.8,1582.2 2340.8,1585.7 2342.8,1591.8 2344.8,1582.7 2346.8,1571.9 2348.8,1585.9 2350.8,1582.9" stroke="#ff0000" stroke-width="7.5" fill="none" stroke-linejoin="round" stroke-linecap="round" clip-path="url(#cpb)"/>
<polyline points="364.5,1016.1 366.5,1006.1 368.5,1021.0 370.5,1055.6 372.5,986.0 374.5,1056.6 376.5,1045.3 378.5,1015.1 380.5,1022.2 382.5,1048.6 384.5,1056.4 386.5,1071.0 388.5,1044.4 390.5,1069.0 392.5,1030.5 394.5,1040.5 396.5,1031.6 398.5,1050.6 400.5,1063.4 402.5,1070.4 404.5,1042.9 406.5,1093.5 408.5,1065.4 410.5,1065.2 412.5,1069.7 414.5,1121.5 416.5,1073.1 418.5,1070.3 420.5,1079.4 422.5,1129.9 424.5,1072.0 426.5,1120.9 428.5,1115.2 430.5,1052.8 432.5,1142.3 434.5,1093.8 436.5,1092.1 438.5,1109.3 440.5,1126.5 442.5,1118.5 444.5,1122.9 446.5,1106.0 448.5,1148.9 450.5,1141.8 452.5,1148.1 454.5,1134.7 456.5,1157.0 458.5,1156.7 460.5,1135.4 462.5,1149.6 464.5,1145.3 466.5,1148.0 468.5,1154.3 470.5,1112.7 472.5,1152.2 474.5,1157.4 476.5,1112.8 478.5,1140.7 480.5,1185.0 482.5,1126.2 484.5,1153.1 486.5,1164.8 488.5,1149.3 490.5,1151.4 492.5,1161.9 494.5,1163.9 496.5,1163.9 498.5,1179.2 500.5,1198.9 502.5,1174.2 504.5,1203.4 506.5,1185.4 508.5,1194.9 510.5,1193.4 512.5,1184.7 514.5,1203.2 516.5,1200.1 518.5,1183.2 520.5,1220.9 522.5,1210.6 524.5,1211.4 526.5,1202.2 528.5,1181.1 530.5,1255.3 532.5,1215.6 534.5,1199.7 536.5,1255.4 538.5,1226.1 540.5,1257.3 542.5,1243.8 544.5,1269.7 546.5,1255.6 548.5,1265.9 550.5,1268.1 552.5,1285.5 554.5,1248.8 556.5,1297.0 558.5,1280.0 560.5,1268.8 562.5,1284.8 564.5,1278.6 566.5,1289.8 568.5,1300.7 570.5,1278.2 572.5,1308.2 574.5,1310.1 576.5,1311.9 578.5,1331.4 580.5,1313.3 582.5,1337.3 584.5,1361.9 586.5,1327.1 588.5,1340.0 590.5,1345.6 592.5,1354.9 594.5,1341.0 596.5,1354.2 598.5,1337.9 600.5,1356.3 602.5,1356.5 604.5,1357.9 606.5,1369.8 608.5,1382.6 610.5,1368.3 612.5,1365.6 614.5,1390.0 616.5,1384.3 618.5,1369.2 620.5,1395.7 622.5,1377.5 624.5,1390.0 626.5,1389.1 628.5,1408.8 630.5,1386.2 632.5,1401.0 634.5,1406.5 636.5,1415.6 638.5,1415.5 640.5,1393.4 642.5,1428.1 644.5,1411.3 646.5,1426.5 648.5,1423.2 650.5,1409.1 652.5,1423.7 654.5,1419.8 656.5,1430.0 658.5,1442.4 660.5,1423.2 662.5,1424.8 664.5,1462.5 666.5,1416.4 668.5,1443.0 670.5,1441.2 672.5,1431.2 674.5,1459.0 676.5,1455.9 678.5,1446.1 680.5,1454.2 682.5,1453.6 684.5,1441.0 686.5,1468.5 688.5,1448.6 690.5,1459.1 692.5,1472.8 694.5,1474.7 696.6,1457.9 698.6,1485.4 700.6,1485.7 702.6,1470.5 704.6,1475.7 706.6,1480.7 708.6,1475.8 710.6,1475.6 712.6,1492.0 714.6,1488.9 716.6,1479.6 718.6,1486.3 720.6,1485.7 722.6,1487.4 724.6,1486.8 726.6,1484.5 728.6,1507.4 730.6,1490.4 732.6,1499.1 734.6,1512.7 736.6,1490.2 738.6,1507.0 740.6,1489.8 742.6,1502.7 744.6,1511.8 746.6,1501.7 748.6,1497.0 750.6,1501.0 752.6,1516.3 754.6,1502.8 756.6,1519.3 758.6,1512.9 760.6,1511.1 762.6,1515.7 764.6,1521.9 766.6,1515.9 768.6,1512.8 770.6,1525.7 772.6,1519.4 774.6,1523.7 776.6,1530.2 778.6,1528.2 780.6,1534.8 782.6,1527.2 784.6,1530.3 786.6,1533.3 788.6,1539.0 790.6,1531.5 792.6,1538.1 794.6,1535.5 796.6,1538.2 798.6,1542.7 800.6,1556.9 802.6,1537.0 804.6,1547.8 806.6,1546.7 808.6,1546.8 810.6,1549.7 812.6,1560.7 814.6,1547.1 816.6,1562.4 818.6,1555.5 820.6,1551.6 822.6,1557.2 824.6,1559.2 826.6,1557.6 828.6,1570.5 830.6,1564.7 832.6,1568.2 834.6,1563.3 836.6,1574.3 838.6,1569.7 840.6,1585.5 842.6,1572.4 844.6,1580.0 846.6,1581.9 848.6,1580.4 850.6,1584.1 852.6,1586.0 854.6,1592.3 856.6,1586.4 858.6,1592.1 860.6,1594.4 862.6,1592.7 864.6,1592.0 866.6,1595.3 868.6,1599.2 870.6,1597.8 872.6,1606.5 874.6,1602.2 876.6,1604.8 878.6,1602.7 880.6,1610.5 882.6,1606.6 884.6,1607.0 886.6,1610.0 888.6,1621.0 890.6,1608.0 892.6,1612.4 894.6,1620.8 896.6,1617.8 898.6,1616.0 900.6,1622.8 902.6,1610.8 904.6,1617.8 906.6,1612.3 908.6,1623.9 910.6,1615.1 912.6,1625.3 914.6,1614.5 916.6,1617.3 918.6,1611.6 920.6,1613.4 922.6,1615.7 924.6,1619.2 926.6,1610.6 928.6,1608.5 930.6,1621.0 932.6,1616.7 934.6,1610.2 936.6,1617.1 938.6,1617.3 940.6,1616.4 942.6,1607.3 944.6,1617.3 946.6,1613.1 948.6,1620.8 950.6,1616.3 952.6,1613.9 954.6,1620.8 956.6,1621.5 958.6,1614.4 960.6,1618.7 962.6,1621.5 964.6,1622.6 966.6,1622.0 968.6,1618.9 970.6,1622.3 972.6,1627.9 974.6,1628.1 976.6,1623.9 978.6,1630.0 980.6,1635.2 982.6,1626.6 984.6,1629.4 986.6,1629.6 988.6,1634.8 990.6,1633.3 992.6,1634.5 994.6,1633.2 996.6,1637.5 998.6,1637.3 1000.6,1636.2 1002.6,1642.3 1004.6,1632.1 1006.6,1644.3 1008.6,1639.2 1010.6,1644.4 1012.6,1647.5 1014.6,1640.5 1016.6,1643.0 1018.6,1644.7 1020.6,1650.1 1022.6,1649.5 1024.6,1645.4 1026.6,1649.7 1028.6,1653.7 1030.6,1648.7 1032.6,1644.2 1034.6,1650.1 1036.6,1651.1 1038.6,1654.5 1040.6,1650.8 1042.6,1659.6 1044.6,1651.3 1046.6,1661.7 1048.6,1652.1 1050.6,1662.8 1052.6,1656.9 1054.6,1663.5 1056.6,1664.5 1058.6,1663.9 1060.6,1662.6 1062.6,1658.3 1064.6,1661.3 1066.6,1654.1 1068.6,1674.2 1070.6,1667.9 1072.6,1668.3 1074.6,1662.5 1076.6,1680.0 1078.6,1664.1 1080.6,1675.3 1082.6,1665.8 1084.6,1673.9 1086.6,1680.1 1088.6,1678.1 1090.6,1672.2 1092.6,1679.8 1094.6,1684.0 1096.6,1673.7 1098.6,1688.3 1100.6,1678.3 1102.6,1690.6 1104.6,1686.1 1106.6,1693.2 1108.6,1687.9 1110.6,1692.1 1112.6,1693.4 1114.6,1692.9 1116.6,1697.1 1118.6,1694.4 1120.6,1697.8 1122.6,1702.3 1124.6,1697.9 1126.6,1704.9 1128.6,1702.6 1130.6,1704.3 1132.6,1698.2 1134.6,1707.1 1136.6,1709.3 1138.6,1706.5 1140.6,1708.7 1142.6,1709.6 1144.6,1699.1 1146.6,1710.9 1148.6,1708.3 1150.6,1706.1 1152.6,1703.6 1154.6,1710.6 1156.6,1707.9 1158.6,1716.0 1160.6,1710.3 1162.6,1704.7 1164.6,1704.3 1166.6,1705.3 1168.6,1707.2 1170.6,1703.2 1172.6,1713.0 1174.6,1697.7 1176.6,1705.4 1178.6,1704.1 1180.6,1704.1 1182.6,1698.5 1184.6,1702.1 1186.6,1701.9 1188.6,1701.2 1190.6,1697.2 1192.6,1698.8 1194.6,1699.6 1196.6,1704.1 1198.6,1690.3 1200.6,1700.6 1202.6,1700.4 1204.6,1688.6 1206.6,1702.2 1208.6,1697.7 1210.6,1692.8 1212.6,1697.4 1214.6,1697.6 1216.6,1690.8 1218.6,1694.1 1220.6,1688.7 1222.6,1691.4 1224.6,1693.0 1226.6,1690.8 1228.6,1696.2 1230.6,1686.9 1232.6,1685.4 1234.6,1693.4 1236.6,1689.9 1238.6,1687.4 1240.6,1685.7 1242.6,1683.5 1244.6,1684.3 1246.6,1691.2 1248.6,1685.5 1250.6,1684.0 1252.6,1685.8 1254.6,1682.6 1256.6,1681.4 1258.6,1683.6 1260.6,1684.2 1262.6,1678.0 1264.6,1680.7 1266.6,1679.2 1268.6,1683.8 1270.6,1685.5 1272.6,1677.1 1274.6,1680.3 1276.6,1678.2 1278.6,1682.6 1280.6,1678.3 1282.6,1679.7 1284.6,1679.0 1286.6,1690.5 1288.6,1677.6 1290.6,1679.2 1292.6,1681.1 1294.6,1685.7 1296.6,1684.6 1298.6,1682.4 1300.6,1676.1 1302.6,1689.7 1304.6,1686.3 1306.6,1685.5 1308.6,1685.3 1310.6,1684.7 1312.6,1689.3 1314.6,1682.8 1316.6,1689.8 1318.6,1682.9 1320.6,1685.6 1322.6,1685.4 1324.6,1685.4 1326.6,1686.0 1328.6,1690.4 1330.6,1691.7 1332.6,1683.0 1334.6,1685.2 1336.6,1693.7 1338.6,1685.3 1340.6,1689.8 1342.6,1688.7 1344.6,1691.7 1346.6,1684.6 1348.6,1694.3 1350.6,1690.5 1352.6,1680.8 1354.6,1692.2 1356.6,1688.8 1358.7,1692.1 1360.7,1690.1 1362.7,1689.0 1364.7,1692.0 1366.7,1694.5 1368.7,1693.1 1370.7,1693.5 1372.7,1702.6 1374.7,1694.1 1376.7,1691.4 1378.7,1698.9 1380.7,1699.0 1382.7,1695.1 1384.7,1701.8 1386.7,1698.0 1388.7,1695.6 1390.7,1707.3 1392.7,1705.8 1394.7,1706.4 1396.7,1704.8 1398.7,1705.2 1400.7,1709.3 1402.7,1709.5 1404.7,1711.5 1406.7,1712.9 1408.7,1711.1 1410.7,1707.7 1412.7,1712.0 1414.7,1707.2 1416.7,1717.0 1418.7,1714.2 1420.7,1717.1 1422.7,1714.2 1424.7,1719.3 1426.7,1710.4 1428.7,1717.5 1430.7,1714.5 1432.7,1715.8 1434.7,1710.8 1436.7,1716.9 1438.7,1711.6 1440.7,1719.4 1442.7,1715.9 1444.7,1718.8 1446.7,1710.5 1448.7,1717.3 1450.7,1716.0 1452.7,1708.1 1454.7,1724.1 1456.7,1714.3 1458.7,1711.2 1460.7,1721.6 1462.7,1715.7 1464.7,1702.5 1466.7,1714.2 1468.7,1709.1 1470.7,1710.9 1472.7,1705.5 1474.7,1708.2 1476.7,1707.4 1478.7,1697.1 1480.7,1708.7 1482.7,1708.5 1484.7,1701.3 1486.7,1705.6 1488.7,1704.7 1490.7,1698.7 1492.7,1699.8 1494.7,1698.8 1496.7,1694.9 1498.7,1704.4 1500.7,1693.4 1502.7,1695.3 1504.7,1695.6 1506.7,1695.9 1508.7,1684.1 1510.7,1688.0 1512.7,1690.4 1514.7,1688.9 1516.7,1681.1 1518.7,1681.8 1520.7,1688.3 1522.7,1683.9 1524.7,1679.2 1526.7,1679.4 1528.7,1677.0 1530.7,1674.4 1532.7,1675.0 1534.7,1677.0 1536.7,1673.1 1538.7,1676.5 1540.7,1665.4 1542.7,1666.1 1544.7,1673.6 1546.7,1663.7 1548.7,1666.9 1550.7,1666.1 1552.7,1659.9 1554.7,1659.8 1556.7,1665.7 1558.7,1651.2 1560.7,1666.6 1562.7,1652.0 1564.7,1663.9 1566.7,1657.3 1568.7,1656.8 1570.7,1656.8 1572.7,1654.2 1574.7,1648.1 1576.7,1657.4 1578.7,1650.6 1580.7,1651.8 1582.7,1648.1 1584.7,1647.5 1586.7,1651.1 1588.7,1648.4 1590.7,1644.7 1592.7,1639.4 1594.7,1641.6 1596.7,1640.0 1598.7,1647.1 1600.7,1640.7 1602.7,1639.1 1604.7,1638.0 1606.7,1635.2 1608.7,1641.0 1610.7,1630.8 1612.7,1633.4 1614.7,1638.6 1616.7,1634.4 1618.7,1631.2 1620.7,1626.9 1622.7,1627.9 1624.7,1635.2 1626.7,1629.3 1628.7,1633.5 1630.7,1623.5 1632.7,1627.2 1634.7,1622.4 1636.7,1632.9 1638.7,1615.1 1640.7,1628.1 1642.7,1627.4 1644.7,1614.9 1646.7,1616.0 1648.7,1617.4 1650.7,1614.1 1652.7,1620.6 1654.7,1615.1 1656.7,1611.6 1658.7,1614.3 1660.7,1619.2 1662.7,1608.2 1664.7,1609.2 1666.7,1617.5 1668.7,1601.4 1670.7,1606.3 1672.7,1612.1 1674.7,1602.1 1676.7,1595.5 1678.7,1601.5 1680.7,1593.1 1682.7,1600.6 1684.7,1600.8 1686.7,1590.3 1688.7,1605.1 1690.7,1597.8 1692.7,1595.3 1694.7,1588.7 1696.7,1593.2 1698.7,1593.0 1700.7,1592.7 1702.7,1592.1 1704.7,1576.2 1706.7,1586.5 1708.7,1581.0 1710.7,1583.8 1712.7,1583.4 1714.7,1590.0 1716.7,1575.1 1718.7,1582.1 1720.7,1575.8 1722.7,1575.2 1724.7,1581.9 1726.7,1565.4 1728.7,1577.0 1730.7,1578.8 1732.7,1581.2 1734.7,1560.6 1736.7,1564.5 1738.7,1562.7 1740.7,1565.9 1742.7,1565.1 1744.7,1563.3 1746.7,1567.4 1748.7,1558.2 1750.7,1562.9 1752.7,1552.1 1754.7,1559.4 1756.7,1559.2 1758.7,1547.4 1760.7,1562.1 1762.7,1560.3 1764.7,1554.5 1766.7,1555.9 1768.7,1554.0 1770.7,1548.2 1772.7,1555.7 1774.7,1550.0 1776.7,1553.6 1778.7,1551.7 1780.7,1551.4 1782.7,1543.8 1784.7,1552.1 1786.7,1557.8 1788.7,1549.8 1790.7,1544.9 1792.7,1543.9 1794.7,1552.5 1796.7,1543.4 1798.7,1535.8 1800.7,1545.1 1802.7,1552.2 1804.7,1530.3 1806.7,1545.0 1808.7,1536.5 1810.7,1540.8 1812.7,1536.6 1814.7,1533.9 1816.7,1525.2 1818.7,1539.7 1820.7,1535.1 1822.7,1532.7 1824.7,1527.2 1826.7,1530.4 1828.7,1543.2 1830.7,1518.9 1832.7,1529.5 1834.7,1523.1 1836.7,1530.7 1838.7,1531.3 1840.7,1535.6 1842.7,1528.5 1844.7,1529.7 1846.7,1532.3 1848.7,1532.9 1850.7,1529.4 1852.7,1531.0 1854.7,1537.6 1856.7,1523.9 1858.7,1531.1 1860.7,1524.6 1862.7,1528.2 1864.7,1537.9 1866.7,1520.8 1868.7,1531.9 1870.7,1537.7 1872.7,1524.8 1874.7,1524.0 1876.7,1521.6 1878.7,1512.5 1880.7,1524.9 1882.7,1521.0 1884.7,1531.2 1886.7,1524.9 1888.7,1513.6 1890.7,1528.7 1892.7,1516.5 1894.7,1533.2 1896.7,1525.1 1898.7,1520.7 1900.7,1515.9 1902.7,1530.6 1904.7,1519.8 1906.7,1523.1 1908.7,1518.4 1910.7,1514.7 1912.7,1522.2 1914.7,1509.7 1916.7,1522.6 1918.7,1514.7 1920.7,1504.8 1922.7,1521.2 1924.7,1512.5 1926.7,1511.3 1928.7,1513.3 1930.7,1517.3 1932.7,1503.3 1934.7,1507.7 1936.7,1517.8 1938.7,1509.7 1940.7,1499.1 1942.7,1514.3 1944.7,1498.5 1946.7,1516.8 1948.7,1508.2 1950.7,1510.0 1952.7,1496.9 1954.7,1505.8 1956.7,1513.6 1958.7,1495.5 1960.7,1512.2 1962.7,1502.6 1964.7,1506.2 1966.7,1499.0 1968.7,1509.6 1970.7,1504.5 1972.7,1507.4 1974.7,1515.9 1976.7,1495.0 1978.7,1503.0 1980.7,1495.0 1982.7,1514.6 1984.7,1494.4 1986.7,1506.1 1988.7,1491.2 1990.7,1501.0 1992.7,1503.7 1994.7,1500.4 1996.7,1495.7 1998.7,1504.5 2000.7,1496.3 2002.7,1503.8 2004.7,1493.0 2006.7,1501.4 2008.7,1491.8 2010.7,1505.1 2012.7,1492.4 2014.7,1495.5 2016.7,1491.1 2018.7,1502.2 2020.8,1492.5 2022.8,1491.8 2024.8,1502.1 2026.8,1484.7 2028.8,1500.6 2030.8,1499.2 2032.8,1477.3 2034.8,1501.9 2036.8,1492.8 2038.8,1491.3 2040.8,1492.9 2042.8,1482.3 2044.8,1497.0 2046.8,1490.7 2048.8,1480.2 2050.8,1492.7 2052.8,1482.7 2054.8,1493.4 2056.8,1483.5 2058.8,1492.3 2060.8,1479.6 2062.8,1489.0 2064.8,1487.4 2066.8,1488.1 2068.8,1496.1 2070.8,1499.1 2072.8,1472.3 2074.8,1497.0 2076.8,1483.5 2078.8,1486.1 2080.8,1485.8 2082.8,1486.6 2084.8,1486.5 2086.8,1492.1 2088.8,1492.4 2090.8,1485.1 2092.8,1485.3 2094.8,1489.3 2096.8,1486.7 2098.8,1496.2 2100.8,1474.1 2102.8,1478.3 2104.8,1486.6 2106.8,1487.1 2108.8,1482.0 2110.8,1486.0 2112.8,1466.2 2114.8,1485.2 2116.8,1481.1 2118.8,1476.3 2120.8,1482.9 2122.8,1483.4 2124.8,1486.5 2126.8,1476.2 2128.8,1474.7 2130.8,1490.3 2132.8,1494.9 2134.8,1479.1 2136.8,1483.6 2138.8,1476.3 2140.8,1487.3 2142.8,1493.2 2144.8,1466.0 2146.8,1495.2 2148.8,1467.5 2150.8,1498.4 2152.8,1484.8 2154.8,1479.1 2156.8,1486.1 2158.8,1493.7 2160.8,1472.0 2162.8,1494.6 2164.8,1484.8 2166.8,1482.7 2168.8,1494.2 2170.8,1469.7 2172.8,1488.5 2174.8,1477.3 2176.8,1488.2 2178.8,1489.2 2180.8,1473.3 2182.8,1492.1 2184.8,1487.2 2186.8,1481.5 2188.8,1487.5 2190.8,1494.3 2192.8,1486.0 2194.8,1497.4 2196.8,1475.6 2198.8,1481.8 2200.8,1499.3 2202.8,1475.1 2204.8,1499.3 2206.8,1483.4 2208.8,1491.1 2210.8,1481.8 2212.8,1493.9 2214.8,1491.7 2216.8,1489.6 2218.8,1484.6 2220.8,1473.5 2222.8,1494.2 2224.8,1481.4 2226.8,1492.0 2228.8,1468.2 2230.8,1489.6 2232.8,1477.4 2234.8,1482.5 2236.8,1487.3 2238.8,1484.0 2240.8,1488.1 2242.8,1479.1 2244.8,1482.1 2246.8,1479.8 2248.8,1469.6 2250.8,1489.4 2252.8,1468.9 2254.8,1476.2 2256.8,1481.8 2258.8,1470.6 2260.8,1474.9 2262.8,1459.1 2264.8,1476.3 2266.8,1469.4 2268.8,1473.2 2270.8,1480.0 2272.8,1470.2 2274.8,1473.1 2276.8,1474.2 2278.8,1479.8 2280.8,1477.2 2282.8,1471.7 2284.8,1468.4 2286.8,1478.4 2288.8,1465.8 2290.8,1469.4 2292.8,1471.9 2294.8,1463.7 2296.8,1460.7 2298.8,1460.7 2300.8,1467.3 2302.8,1467.6 2304.8,1468.5 2306.8,1455.7 2308.8,1466.8 2310.8,1461.6 2312.8,1457.7 2314.8,1481.0 2316.8,1446.3 2318.8,1454.8 2320.8,1461.7 2322.8,1468.8 2324.8,1449.0 2326.8,1467.2 2328.8,1443.1 2330.8,1454.3 2332.8,1453.3 2334.8,1451.7 2336.8,1453.9 2338.8,1451.3 2340.8,1450.5 2342.8,1444.3 2344.8,1457.9 2346.8,1449.3 2348.8,1451.8 2350.8,1453.6" stroke="#0000ff" stroke-width="7.5" fill="none" stroke-linejoin="round" stroke-linecap="round" clip-path="url(#cpb)"/>
<polyline points="364.5,1392.7 366.5,1390.7 368.5,1360.8 370.5,1411.6 372.5,1360.8 374.5,1417.1 376.5,1396.1 378.5,1400.8 380.5,1399.6 382.5,1393.7 384.5,1387.1 386.5,1396.9 388.5,1422.7 390.5,1385.8 392.5,1404.2 394.5,1397.4 396.5,1405.0 398.5,1408.7 400.5,1416.5 402.5,1407.0 404.5,1410.4 406.5,1408.4 408.5,1420.7 410.5,1398.4 412.5,1426.6 414.5,1437.3 416.5,1403.3 418.5,1425.7 420.5,1462.3 422.5,1397.1 424.5,1411.7 426.5,1433.8 428.5,1460.1 430.5,1453.4 432.5,1410.4 434.5,1454.7 436.5,1439.7 438.5,1437.2 440.5,1424.4 442.5,1474.7 444.5,1436.3 446.5,1465.4 448.5,1459.4 450.5,1487.9 452.5,1472.1 454.5,1447.6 456.5,1475.4 458.5,1491.3 460.5,1455.6 462.5,1484.2 464.5,1490.7 466.5,1465.8 468.5,1484.0 470.5,1478.9 472.5,1511.3 474.5,1492.5 476.5,1520.2 478.5,1504.5 480.5,1518.2 482.5,1510.2 484.5,1528.1 486.5,1515.1 488.5,1510.8 490.5,1547.1 492.5,1535.6 494.5,1556.6 496.5,1520.5 498.5,1530.3 500.5,1523.9 502.5,1499.4 504.5,1548.7 506.5,1561.8 508.5,1536.6 510.5,1523.7 512.5,1577.4 514.5,1547.0 516.5,1558.8 518.5,1559.1 520.5,1565.7 522.5,1574.6 524.5,1544.8 526.5,1578.6 528.5,1569.3 530.5,1594.7 532.5,1560.0 534.5,1608.7 536.5,1583.6 538.5,1604.6 540.5,1571.2 542.5,1605.4 544.5,1594.1 546.5,1574.5 548.5,1602.7 550.5,1595.8 552.5,1591.2 554.5,1597.5 556.5,1588.9 558.5,1606.1 560.5,1612.5 562.5,1595.1 564.5,1591.8 566.5,1630.7 568.5,1600.0 570.5,1613.6 572.5,1608.8 574.5,1605.9 576.5,1622.0 578.5,1601.3 580.5,1614.1 582.5,1592.0 584.5,1596.9 586.5,1613.7 588.5,1636.6 590.5,1602.4 592.5,1633.4 594.5,1604.3 596.5,1609.9 598.5,1594.6 600.5,1605.1 602.5,1623.3 604.5,1604.3 606.5,1582.4 608.5,1591.5 610.5,1611.6 612.5,1577.1 614.5,1602.4 616.5,1570.9 618.5,1598.3 620.5,1600.7 622.5,1586.5 624.5,1581.5 626.5,1582.1 628.5,1578.8 630.5,1579.6 632.5,1593.0 634.5,1585.7 636.5,1575.5 638.5,1559.1 640.5,1577.1 642.5,1584.1 644.5,1577.8 646.5,1562.7 648.5,1594.6 650.5,1608.9 652.5,1554.1 654.5,1588.8 656.5,1601.9 658.5,1570.7 660.5,1581.0 662.5,1588.3 664.5,1590.6 666.5,1577.5 668.5,1599.0 670.5,1558.7 672.5,1603.0 674.5,1587.9 676.5,1583.5 678.5,1592.8 680.5,1586.9 682.5,1605.4 684.5,1580.6 686.5,1595.8 688.5,1580.2 690.5,1591.5 692.5,1602.5 694.5,1585.3 696.6,1601.5 698.6,1594.8 700.6,1608.5 702.6,1613.6 704.6,1622.2 706.6,1587.7 708.6,1622.5 710.6,1628.7 712.6,1631.6 714.6,1631.6 716.6,1601.6 718.6,1626.7 720.6,1636.5 722.6,1637.9 724.6,1630.7 726.6,1635.1 728.6,1636.5 730.6,1627.1 732.6,1643.4 734.6,1648.0 736.6,1634.2 738.6,1657.3 740.6,1608.6 742.6,1655.1 744.6,1667.7 746.6,1651.6 748.6,1662.9 750.6,1648.1 752.6,1641.1 754.6,1655.6 756.6,1676.0 758.6,1633.2 760.6,1658.5 762.6,1648.3 764.6,1665.6 766.6,1663.5 768.6,1674.9 770.6,1657.2 772.6,1691.0 774.6,1670.5 776.6,1664.6 778.6,1665.2 780.6,1663.4 782.6,1683.5 784.6,1697.3 786.6,1668.9 788.6,1670.1 790.6,1683.5 792.6,1674.8 794.6,1672.7 796.6,1664.1 798.6,1686.7 800.6,1694.7 802.6,1685.7 804.6,1684.2 806.6,1677.4 808.6,1683.0 810.6,1687.1 812.6,1673.5 814.6,1680.3 816.6,1671.4 818.6,1688.3 820.6,1661.3 822.6,1684.3 824.6,1678.8 826.6,1677.1 828.6,1675.1 830.6,1663.4 832.6,1665.5 834.6,1664.0 836.6,1660.5 838.6,1649.9 840.6,1655.9 842.6,1648.2 844.6,1642.7 846.6,1653.6 848.6,1635.4 850.6,1646.5 852.6,1651.6 854.6,1646.4 856.6,1627.4 858.6,1640.4 860.6,1626.9 862.6,1647.0 864.6,1629.6 866.6,1625.5 868.6,1613.8 870.6,1615.9 872.6,1621.8 874.6,1611.7 876.6,1610.0 878.6,1616.6 880.6,1591.8 882.6,1588.9 884.6,1597.7 886.6,1589.6 888.6,1597.0 890.6,1582.5 892.6,1588.6 894.6,1565.9 896.6,1602.2 898.6,1575.6 900.6,1560.7 902.6,1569.2 904.6,1566.2 906.6,1552.0 908.6,1537.6 910.6,1540.5 912.6,1533.5 914.6,1506.3 916.6,1505.2 918.6,1507.3 920.6,1512.2 922.6,1504.2 924.6,1483.0 926.6,1492.2 928.6,1473.6 930.6,1456.9 932.6,1445.9 934.6,1440.7 936.6,1438.5 938.6,1439.0 940.6,1419.5 942.6,1392.2 944.6,1391.6 946.6,1401.1 948.6,1378.3 950.6,1360.4 952.6,1369.2 954.6,1358.9 956.6,1339.8 958.6,1324.2 960.6,1328.8 962.6,1294.8 964.6,1290.2 966.6,1278.5 968.6,1302.2 970.6,1283.7 972.6,1250.1 974.6,1261.3 976.6,1250.6 978.6,1251.0 980.6,1245.8 982.6,1231.4 984.6,1217.3 986.6,1208.8 988.6,1197.5 990.6,1174.8 992.6,1214.1 994.6,1188.4 996.6,1201.8 998.6,1195.0 1000.6,1187.9 1002.6,1205.4 1004.6,1219.9 1006.6,1215.9 1008.6,1206.1 1010.6,1215.8 1012.6,1234.3 1014.6,1229.7 1016.6,1247.2 1018.6,1256.2 1020.6,1282.9 1022.6,1282.5 1024.6,1323.8 1026.6,1291.3 1028.6,1313.1 1030.6,1348.1 1032.6,1329.9 1034.6,1339.4 1036.6,1363.5 1038.6,1346.3 1040.6,1397.4 1042.6,1398.0 1044.6,1416.6 1046.6,1422.2 1048.6,1462.0 1050.6,1463.8 1052.6,1482.1 1054.6,1503.8 1056.6,1506.0 1058.6,1528.5 1060.6,1528.8 1062.6,1549.3 1064.6,1571.6 1066.6,1579.2 1068.6,1594.6 1070.6,1591.5 1072.6,1607.7 1074.6,1610.8 1076.6,1627.0 1078.6,1636.3 1080.6,1645.2 1082.6,1651.3 1084.6,1654.4 1086.6,1673.2 1088.6,1673.9 1090.6,1680.5 1092.6,1701.6 1094.6,1704.7 1096.6,1716.1 1098.6,1723.1 1100.6,1721.4 1102.6,1734.2 1104.6,1743.1 1106.6,1747.2 1108.6,1754.0 1110.6,1750.8 1112.6,1764.3 1114.6,1771.8 1116.6,1780.0 1118.6,1766.6 1120.6,1789.1 1122.6,1778.5 1124.6,1780.2 1126.6,1798.5 1128.6,1785.9 1130.6,1793.3 1132.6,1805.4 1134.6,1804.8 1136.6,1801.1 1138.6,1800.7 1140.6,1799.9 1142.6,1810.0 1144.6,1797.3 1146.6,1807.1 1148.6,1818.2 1150.6,1813.0 1152.6,1817.9 1154.6,1814.5 1156.6,1810.3 1158.6,1821.7 1160.6,1808.8 1162.6,1824.5 1164.6,1823.3 1166.6,1811.7 1168.6,1825.4 1170.6,1817.6 1172.6,1818.8 1174.6,1811.3 1176.6,1823.0 1178.6,1824.6 1180.6,1811.5 1182.6,1821.9 1184.6,1819.0 1186.6,1815.6 1188.6,1829.4 1190.6,1820.4 1192.6,1822.6 1194.6,1827.1 1196.6,1818.0 1198.6,1839.1 1200.6,1815.9 1202.6,1819.5 1204.6,1828.6 1206.6,1824.2 1208.6,1818.7 1210.6,1821.2 1212.6,1828.7 1214.6,1823.2 1216.6,1824.6 1218.6,1826.3 1220.6,1818.9 1222.6,1829.6 1224.6,1820.9 1226.6,1825.9 1228.6,1817.5 1230.6,1827.5 1232.6,1822.5 1234.6,1832.7 1236.6,1817.5 1238.6,1829.2 1240.6,1822.3 1242.6,1827.8 1244.6,1820.4 1246.6,1823.6 1248.6,1811.3 1250.6,1819.8 1252.6,1828.0 1254.6,1821.1 1256.6,1823.5 1258.6,1818.3 1260.6,1824.3 1262.6,1817.4 1264.6,1820.4 1266.6,1825.1 1268.6,1822.2 1270.6,1815.8 1272.6,1820.2 1274.6,1820.0 1276.6,1817.9 1278.6,1818.5 1280.6,1814.6 1282.6,1822.2 1284.6,1812.7 1286.6,1815.6 1288.6,1824.6 1290.6,1822.6 1292.6,1821.2 1294.6,1814.4 1296.6,1812.7 1298.6,1819.0 1300.6,1819.6 1302.6,1811.8 1304.6,1811.5 1306.6,1806.6 1308.6,1808.0 1310.6,1821.7 1312.6,1802.3 1314.6,1810.3 1316.6,1810.0 1318.6,1811.1 1320.6,1803.3 1322.6,1813.0 1324.6,1809.4 1326.6,1806.8 1328.6,1804.2 1330.6,1805.9 1332.6,1798.6 1334.6,1811.0 1336.6,1801.6 1338.6,1799.5 1340.6,1805.7 1342.6,1805.2 1344.6,1803.2 1346.6,1804.0 1348.6,1805.2 1350.6,1796.9 1352.6,1802.0 1354.6,1800.6 1356.6,1793.0 1358.7,1805.4 1360.7,1794.8 1362.7,1798.6 1364.7,1797.1 1366.7,1791.8 1368.7,1799.3 1370.7,1796.5 1372.7,1792.3 1374.7,1780.5 1376.7,1801.6 1378.7,1788.0 1380.7,1787.6 1382.7,1787.9 1384.7,1785.0 1386.7,1787.8 1388.7,1789.8 1390.7,1780.6 1392.7,1787.8 1394.7,1781.7 1396.7,1783.5 1398.7,1781.8 1400.7,1783.8 1402.7,1784.7 1404.7,1778.8 1406.7,1783.2 1408.7,1783.2 1410.7,1770.0 1412.7,1782.5 1414.7,1774.0 1416.7,1775.3 1418.7,1778.9 1420.7,1771.6 1422.7,1771.1 1424.7,1778.3 1426.7,1773.7 1428.7,1770.8 1430.7,1780.3 1432.7,1761.0 1434.7,1763.7 1436.7,1769.3 1438.7,1762.8 1440.7,1769.2 1442.7,1762.3 1444.7,1762.7 1446.7,1764.1 1448.7,1758.9 1450.7,1755.1 1452.7,1760.3 1454.7,1762.9 1456.7,1758.0 1458.7,1760.3 1460.7,1761.1 1462.7,1755.9 1464.7,1752.6 1466.7,1750.4 1468.7,1755.0 1470.7,1756.5 1472.7,1753.1 1474.7,1750.5 1476.7,1743.7 1478.7,1750.6 1480.7,1747.9 1482.7,1748.7 1484.7,1737.6 1486.7,1742.0 1488.7,1742.6 1490.7,1739.7 1492.7,1735.4 1494.7,1739.0 1496.7,1732.9 1498.7,1737.6 1500.7,1728.0 1502.7,1731.4 1504.7,1720.2 1506.7,1730.6 1508.7,1721.5 1510.7,1725.7 1512.7,1717.8 1514.7,1722.1 1516.7,1710.9 1518.7,1707.7 1520.7,1713.1 1522.7,1709.5 1524.7,1701.4 1526.7,1698.9 1528.7,1705.4 1530.7,1700.7 1532.7,1696.3 1534.7,1691.6 1536.7,1689.6 1538.7,1693.6 1540.7,1685.0 1542.7,1676.8 1544.7,1676.2 1546.7,1680.7 1548.7,1675.7 1550.7,1668.0 1552.7,1668.6 1554.7,1675.0 1556.7,1665.9 1558.7,1671.8 1560.7,1660.9 1562.7,1663.6 1564.7,1659.4 1566.7,1666.7 1568.7,1661.4 1570.7,1655.6 1572.7,1664.8 1574.7,1658.4 1576.7,1660.5 1578.7,1666.5 1580.7,1661.4 1582.7,1659.7 1584.7,1656.5 1586.7,1653.8 1588.7,1657.2 1590.7,1657.1 1592.7,1663.4 1594.7,1650.2 1596.7,1655.0 1598.7,1655.9 1600.7,1655.9 1602.7,1657.5 1604.7,1656.6 1606.7,1648.7 1608.7,1660.0 1610.7,1649.8 1612.7,1644.6 1614.7,1645.6 1616.7,1647.7 1618.7,1646.7 1620.7,1650.4 1622.7,1640.3 1624.7,1643.6 1626.7,1641.1 1628.7,1646.0 1630.7,1635.1 1632.7,1646.9 1634.7,1636.1 1636.7,1640.5 1638.7,1642.1 1640.7,1639.8 1642.7,1651.5 1644.7,1628.7 1646.7,1629.7 1648.7,1635.2 1650.7,1643.7 1652.7,1629.9 1654.7,1643.4 1656.7,1632.8 1658.7,1639.5 1660.7,1626.1 1662.7,1642.8 1664.7,1637.9 1666.7,1626.9 1668.7,1641.8 1670.7,1643.5 1672.7,1627.3 1674.7,1627.4 1676.7,1630.6 1678.7,1631.1 1680.7,1636.7 1682.7,1638.5 1684.7,1625.6 1686.7,1631.3 1688.7,1625.1 1690.7,1632.1 1692.7,1635.7 1694.7,1621.0 1696.7,1640.3 1698.7,1635.9 1700.7,1637.3 1702.7,1627.4 1704.7,1625.7 1706.7,1634.4 1708.7,1627.5 1710.7,1625.1 1712.7,1631.7 1714.7,1626.1 1716.7,1644.8 1718.7,1631.3 1720.7,1634.3 1722.7,1623.3 1724.7,1640.8 1726.7,1626.4 1728.7,1636.8 1730.7,1624.4 1732.7,1637.4 1734.7,1621.7 1736.7,1634.9 1738.7,1631.5 1740.7,1625.7 1742.7,1635.9 1744.7,1629.8 1746.7,1632.2 1748.7,1638.3 1750.7,1639.1 1752.7,1629.9 1754.7,1641.5 1756.7,1637.0 1758.7,1636.4 1760.7,1641.8 1762.7,1623.3 1764.7,1645.9 1766.7,1634.6 1768.7,1632.2 1770.7,1634.7 1772.7,1640.3 1774.7,1638.3 1776.7,1634.8 1778.7,1625.0 1780.7,1627.1 1782.7,1635.8 1784.7,1635.3 1786.7,1626.1 1788.7,1637.5 1790.7,1632.9 1792.7,1633.2 1794.7,1626.9 1796.7,1641.5 1798.7,1635.8 1800.7,1639.0 1802.7,1633.1 1804.7,1626.4 1806.7,1639.9 1808.7,1639.3 1810.7,1632.9 1812.7,1630.3 1814.7,1643.1 1816.7,1640.5 1818.7,1630.2 1820.7,1638.3 1822.7,1633.7 1824.7,1646.4 1826.7,1642.2 1828.7,1652.4 1830.7,1634.2 1832.7,1654.1 1834.7,1640.8 1836.7,1648.0 1838.7,1638.9 1840.7,1650.6 1842.7,1645.2 1844.7,1649.8 1846.7,1651.3 1848.7,1653.2 1850.7,1655.4 1852.7,1650.3 1854.7,1647.8 1856.7,1661.6 1858.7,1651.8 1860.7,1650.4 1862.7,1664.1 1864.7,1653.4 1866.7,1659.0 1868.7,1643.9 1870.7,1656.5 1872.7,1670.1 1874.7,1655.1 1876.7,1659.0 1878.7,1652.3 1880.7,1659.0 1882.7,1661.0 1884.7,1657.5 1886.7,1658.7 1888.7,1649.3 1890.7,1659.4 1892.7,1659.6 1894.7,1665.3 1896.7,1662.9 1898.7,1660.1 1900.7,1656.9 1902.7,1658.4 1904.7,1664.1 1906.7,1651.7 1908.7,1662.4 1910.7,1658.8 1912.7,1659.2 1914.7,1670.6 1916.7,1654.6 1918.7,1665.0 1920.7,1666.9 1922.7,1658.1 1924.7,1657.4 1926.7,1650.7 1928.7,1671.5 1930.7,1647.1 1932.7,1647.9 1934.7,1669.4 1936.7,1645.6 1938.7,1653.4 1940.7,1655.5 1942.7,1651.0 1944.7,1645.5 1946.7,1662.6 1948.7,1658.0 1950.7,1658.6 1952.7,1652.5 1954.7,1651.8 1956.7,1651.5 1958.7,1662.5 1960.7,1655.3 1962.7,1647.7 1964.7,1655.4 1966.7,1643.5 1968.7,1657.7 1970.7,1642.9 1972.7,1652.5 1974.7,1649.2 1976.7,1633.3 1978.7,1660.7 1980.7,1647.2 1982.7,1643.7 1984.7,1645.7 1986.7,1649.1 1988.7,1646.7 1990.7,1650.4 1992.7,1646.5 1994.7,1649.9 1996.7,1645.9 1998.7,1635.8 2000.7,1639.6 2002.7,1651.5 2004.7,1645.7 2006.7,1642.9 2008.7,1635.1 2010.7,1642.0 2012.7,1639.4 2014.7,1648.9 2016.7,1635.0 2018.7,1634.9 2020.8,1639.6 2022.8,1645.0 2024.8,1650.1 2026.8,1632.6 2028.8,1648.5 2030.8,1633.6 2032.8,1637.7 2034.8,1634.6 2036.8,1646.5 2038.8,1633.4 2040.8,1646.2 2042.8,1633.1 2044.8,1650.9 2046.8,1634.8 2048.8,1637.5 2050.8,1629.4 2052.8,1649.3 2054.8,1635.7 2056.8,1636.7 2058.8,1636.7 2060.8,1633.2 2062.8,1634.2 2064.8,1639.9 2066.8,1629.6 2068.8,1637.0 2070.8,1651.4 2072.8,1628.3 2074.8,1633.3 2076.8,1641.4 2078.8,1624.9 2080.8,1645.9 2082.8,1629.5 2084.8,1624.9 2086.8,1634.7 2088.8,1627.7 2090.8,1638.4 2092.8,1626.2 2094.8,1637.1 2096.8,1615.2 2098.8,1632.4 2100.8,1634.8 2102.8,1631.2 2104.8,1627.9 2106.8,1633.5 2108.8,1631.4 2110.8,1625.5 2112.8,1628.7 2114.8,1632.5 2116.8,1624.9 2118.8,1607.2 2120.8,1621.2 2122.8,1624.3 2124.8,1630.6 2126.8,1621.9 2128.8,1627.1 2130.8,1627.4 2132.8,1622.6 2134.8,1612.7 2136.8,1629.0 2138.8,1607.8 2140.8,1613.9 2142.8,1619.1 2144.8,1603.0 2146.8,1635.8 2148.8,1628.9 2150.8,1608.1 2152.8,1613.3 2154.8,1601.0 2156.8,1624.1 2158.8,1607.1 2160.8,1606.4 2162.8,1605.9 2164.8,1615.0 2166.8,1610.0 2168.8,1610.3 2170.8,1605.9 2172.8,1598.6 2174.8,1624.3 2176.8,1609.9 2178.8,1600.9 2180.8,1598.8 2182.8,1602.9 2184.8,1613.8 2186.8,1606.9 2188.8,1605.2 2190.8,1611.9 2192.8,1595.8 2194.8,1615.0 2196.8,1599.2 2198.8,1595.5 2200.8,1607.0 2202.8,1601.2 2204.8,1593.4 2206.8,1614.1 2208.8,1580.3 2210.8,1603.9 2212.8,1598.6 2214.8,1588.9 2216.8,1597.2 2218.8,1603.5 2220.8,1580.8 2222.8,1587.5 2224.8,1592.2 2226.8,1595.5 2228.8,1596.8 2230.8,1590.1 2232.8,1578.0 2234.8,1599.3 2236.8,1588.7 2238.8,1591.5 2240.8,1569.3 2242.8,1576.3 2244.8,1583.3 2246.8,1581.1 2248.8,1582.9 2250.8,1572.5 2252.8,1575.2 2254.8,1585.7 2256.8,1560.8 2258.8,1575.0 2260.8,1580.5 2262.8,1581.6 2264.8,1574.9 2266.8,1585.7 2268.8,1570.9 2270.8,1577.2 2272.8,1576.0 2274.8,1568.9 2276.8,1559.9 2278.8,1571.3 2280.8,1567.8 2282.8,1561.6 2284.8,1574.8 2286.8,1559.9 2288.8,1555.3 2290.8,1569.2 2292.8,1556.2 2294.8,1570.7 2296.8,1540.7 2298.8,1557.1 2300.8,1567.0 2302.8,1563.0 2304.8,1560.3 2306.8,1571.5 2308.8,1552.5 2310.8,1555.4 2312.8,1566.2 2314.8,1552.3 2316.8,1561.0 2318.8,1565.0 2320.8,1550.4 2322.8,1554.7 2324.8,1550.0 2326.8,1559.0 2328.8,1557.0 2330.8,1559.0 2332.8,1554.2 2334.8,1565.6 2336.8,1546.2 2338.8,1551.5 2340.8,1547.8 2342.8,1561.2 2344.8,1546.2 2346.8,1546.7 2348.8,1539.3 2350.8,1550.2" stroke="#000000" stroke-width="7.5" fill="none" stroke-linejoin="round" stroke-linecap="round" clip-path="url(#cpb)"/>
<polyline points="364.5,2648.0 366.5,2650.5 368.5,2641.7 370.5,2655.1 372.5,2649.1 374.5,2653.6 376.5,2650.2 378.5,2656.7 380.5,2643.9 382.5,2664.1 384.5,2656.0 386.5,2648.5 388.5,2660.2 390.5,2657.3 392.5,2646.9 394.5,2665.4 396.5,2654.9 398.5,2660.3 400.5,2658.4 402.5,2660.9 404.5,2664.1 406.5,2663.9 408.5,2655.6 410.5,2667.0 412.5,2659.1 414.5,2662.7 416.5,2668.3 418.5,2673.7 420.5,2670.6 422.5,2665.2 424.5,2668.1 426.5,2668.5 428.5,2674.9 430.5,2678.0 432.5,2672.0 434.5,2678.5 436.5,2675.8 438.5,2684.0 440.5,2663.0 442.5,2670.8 444.5,2682.2 446.5,2683.2 448.5,2676.2 450.5,2683.6 452.5,2673.7 454.5,2677.3 456.5,2681.0 458.5,2689.0 460.5,2685.3 462.5,2678.5 464.5,2687.1 466.5,2681.2 468.5,2687.3 470.5,2680.2 472.5,2689.1 474.5,2683.6 476.5,2689.5 478.5,2685.3 480.5,2686.3 482.5,2692.4 484.5,2688.5 486.5,2692.0 488.5,2689.4 490.5,2696.6 492.5,2687.1 494.5,2699.6 496.5,2699.8 498.5,2690.4 500.5,2705.5 502.5,2703.3 504.5,2694.5 506.5,2688.7 508.5,2691.9 510.5,2700.9 512.5,2709.1 514.5,2698.8 516.5,2703.0 518.5,2697.7 520.5,2697.8 522.5,2705.6 524.5,2695.6 526.5,2704.5 528.5,2707.0 530.5,2703.3 532.5,2707.4 534.5,2701.4 536.5,2709.7 538.5,2706.7 540.5,2696.3 542.5,2704.5 544.5,2705.3 546.5,2712.6 548.5,2708.1 550.5,2709.1 552.5,2709.0 554.5,2712.2 556.5,2713.3 558.5,2704.7 560.5,2702.7 562.5,2717.9 564.5,2708.5 566.5,2712.2 568.5,2710.8 570.5,2706.5 572.5,2706.8 574.5,2721.7 576.5,2717.4 578.5,2716.6 580.5,2713.3 582.5,2715.6 584.5,2712.1 586.5,2716.7 588.5,2713.4 590.5,2714.0 592.5,2718.9 594.5,2725.8 596.5,2703.0 598.5,2724.9 600.5,2720.0 602.5,2709.6 604.5,2722.4 606.5,2718.1 608.5,2715.6 610.5,2716.9 612.5,2712.2 614.5,2731.6 616.5,2728.5 618.5,2723.1 620.5,2714.6 622.5,2722.1 624.5,2721.5 626.5,2714.9 628.5,2720.9 630.5,2724.2 632.5,2717.4 634.5,2712.3 636.5,2718.2 638.5,2725.7 640.5,2719.3 642.5,2721.0 644.5,2730.3 646.5,2719.8 648.5,2718.3 650.5,2723.9 652.5,2735.0 654.5,2712.1 656.5,2735.7 658.5,2727.5 660.5,2719.6 662.5,2722.2 664.5,2732.3 666.5,2721.9 668.5,2720.2 670.5,2735.0 672.5,2720.6 674.5,2725.2 676.5,2723.2 678.5,2721.9 680.5,2725.1 682.5,2721.4 684.5,2727.3 686.5,2728.4 688.5,2727.4 690.5,2727.9 692.5,2729.4 694.5,2724.6 696.6,2718.6 698.6,2730.4 700.6,2712.4 702.6,2723.4 704.6,2726.9 706.6,2713.6 708.6,2735.4 710.6,2714.4 712.6,2717.2 714.6,2722.3 716.6,2720.5 718.6,2724.5 720.6,2722.0 722.6,2728.9 724.6,2719.4 726.6,2723.9 728.6,2716.6 730.6,2727.3 732.6,2716.8 734.6,2713.0 736.6,2733.7 738.6,2713.2 740.6,2718.1 742.6,2719.3 744.6,2727.2 746.6,2711.6 748.6,2722.6 750.6,2725.3 752.6,2730.3 754.6,2714.9 756.6,2721.5 758.6,2715.4 760.6,2733.2 762.6,2714.8 764.6,2719.7 766.6,2720.5 768.6,2713.9 770.6,2721.1 772.6,2711.9 774.6,2729.9 776.6,2714.4 778.6,2717.7 780.6,2725.0 782.6,2708.5 784.6,2728.3 786.6,2722.9 788.6,2709.6 790.6,2722.7 792.6,2714.8 794.6,2722.0 796.6,2715.0 798.6,2711.5 800.6,2722.1 802.6,2713.9 804.6,2717.9 806.6,2721.4 808.6,2720.8 810.6,2716.9 812.6,2706.6 814.6,2723.0 816.6,2712.6 818.6,2722.4 820.6,2712.2 822.6,2724.0 824.6,2715.2 826.6,2714.2 828.6,2716.9 830.6,2704.6 832.6,2722.3 834.6,2714.4 836.6,2708.4 838.6,2719.4 840.6,2715.4 842.6,2715.6 844.6,2712.7 846.6,2718.7 848.6,2716.6 850.6,2712.4 852.6,2713.0 854.6,2710.9 856.6,2710.8 858.6,2717.8 860.6,2708.4 862.6,2705.3 864.6,2715.6 866.6,2715.7 868.6,2705.0 870.6,2713.6 872.6,2707.8 874.6,2699.3 876.6,2709.2 878.6,2703.0 880.6,2707.7 882.6,2685.6 884.6,2713.1 886.6,2703.7 888.6,2693.8 890.6,2708.1 892.6,2695.9 894.6,2699.9 896.6,2702.2 898.6,2702.6 900.6,2693.8 902.6,2698.1 904.6,2694.4 906.6,2687.1 908.6,2702.0 910.6,2690.6 912.6,2687.8 914.6,2693.2 916.6,2687.0 918.6,2680.8 920.6,2690.9 922.6,2680.7 924.6,2684.7 926.6,2684.1 928.6,2682.0 930.6,2686.0 932.6,2673.1 934.6,2673.6 936.6,2670.0 938.6,2670.6 940.6,2676.4 942.6,2670.9 944.6,2663.7 946.6,2667.6 948.6,2667.5 950.6,2677.9 952.6,2658.9 954.6,2671.3 956.6,2656.7 958.6,2668.6 960.6,2674.1 962.6,2655.1 964.6,2673.8 966.6,2649.6 968.6,2665.9 970.6,2653.3 972.6,2660.5 974.6,2655.2 976.6,2660.0 978.6,2653.0 980.6,2652.0 982.6,2646.6 984.6,2652.2 986.6,2641.5 988.6,2644.0 990.6,2642.5 992.6,2648.1 994.6,2653.8 996.6,2635.6 998.6,2650.9 1000.6,2628.5 1002.6,2636.4 1004.6,2640.6 1006.6,2637.4 1008.6,2636.8 1010.6,2639.9 1012.6,2626.7 1014.6,2636.9 1016.6,2628.0 1018.6,2611.2 1020.6,2627.4 1022.6,2624.6 1024.6,2626.0 1026.6,2625.7 1028.6,2618.9 1030.6,2628.4 1032.6,2610.2 1034.6,2619.2 1036.6,2620.8 1038.6,2605.5 1040.6,2622.1 1042.6,2613.3 1044.6,2606.1 1046.6,2608.0 1048.6,2605.5 1050.6,2604.7 1052.6,2609.9 1054.6,2601.3 1056.6,2590.6 1058.6,2592.4 1060.6,2603.3 1062.6,2578.4 1064.6,2590.2 1066.6,2591.7 1068.6,2591.2 1070.6,2596.1 1072.6,2584.7 1074.6,2604.8 1076.6,2576.8 1078.6,2586.4 1080.6,2584.2 1082.6,2575.8 1084.6,2582.9 1086.6,2576.8 1088.6,2574.0 1090.6,2568.3 1092.6,2569.8 1094.6,2574.7 1096.6,2565.6 1098.6,2568.4 1100.6,2565.8 1102.6,2563.5 1104.6,2560.6 1106.6,2562.9 1108.6,2561.4 1110.6,2562.3 1112.6,2554.5 1114.6,2548.8 1116.6,2549.0 1118.6,2555.5 1120.6,2539.0 1122.6,2548.5 1124.6,2553.9 1126.6,2541.3 1128.6,2541.4 1130.6,2551.7 1132.6,2524.0 1134.6,2546.4 1136.6,2537.2 1138.6,2536.7 1140.6,2543.5 1142.6,2542.5 1144.6,2537.8 1146.6,2534.6 1148.6,2532.8 1150.6,2529.1 1152.6,2530.6 1154.6,2519.5 1156.6,2528.3 1158.6,2531.0 1160.6,2523.1 1162.6,2529.0 1164.6,2512.0 1166.6,2521.9 1168.6,2515.9 1170.6,2527.5 1172.6,2514.0 1174.6,2515.6 1176.6,2509.2 1178.6,2514.2 1180.6,2508.4 1182.6,2511.0 1184.6,2524.9 1186.6,2498.8 1188.6,2510.7 1190.6,2504.3 1192.6,2517.5 1194.6,2498.6 1196.6,2503.7 1198.6,2509.7 1200.6,2513.5 1202.6,2501.6 1204.6,2499.4 1206.6,2489.1 1208.6,2486.7 1210.6,2508.7 1212.6,2500.3 1214.6,2505.9 1216.6,2498.4 1218.6,2495.0 1220.6,2504.8 1222.6,2503.0 1224.6,2487.4 1226.6,2500.8 1228.6,2496.7 1230.6,2482.8 1232.6,2492.9 1234.6,2484.4 1236.6,2490.8 1238.6,2485.6 1240.6,2465.1 1242.6,2481.5 1244.6,2484.4 1246.6,2473.7 1248.6,2464.3 1250.6,2467.8 1252.6,2459.9 1254.6,2466.2 1256.6,2450.3 1258.6,2465.5 1260.6,2454.3 1262.6,2456.8 1264.6,2448.2 1266.6,2446.0 1268.6,2442.4 1270.6,2437.0 1272.6,2419.3 1274.6,2435.5 1276.6,2418.0 1278.6,2407.7 1280.6,2430.4 1282.6,2408.1 1284.6,2398.7 1286.6,2410.0 1288.6,2402.7 1290.6,2397.4 1292.6,2401.7 1294.6,2380.2 1296.6,2396.8 1298.6,2383.1 1300.6,2397.7 1302.6,2397.2 1304.6,2392.1 1306.6,2414.0 1308.6,2383.7 1310.6,2403.3 1312.6,2416.2 1314.6,2419.1 1316.6,2439.7 1318.6,2432.8 1320.6,2455.7 1322.6,2450.2 1324.6,2472.9 1326.6,2481.2 1328.6,2488.6 1330.6,2505.0 1332.6,2512.7 1334.6,2535.1 1336.6,2544.5 1338.6,2540.1 1340.6,2563.3 1342.6,2577.2 1344.6,2584.3 1346.6,2605.8 1348.6,2617.4 1350.6,2597.6 1352.6,2625.3 1354.6,2641.5 1356.6,2641.0 1358.7,2646.2 1360.7,2664.1 1362.7,2677.4 1364.7,2693.1 1366.7,2676.9 1368.7,2692.5 1370.7,2699.8 1372.7,2697.0 1374.7,2693.8 1376.7,2698.3 1378.7,2688.2 1380.7,2690.2 1382.7,2692.8 1384.7,2698.9 1386.7,2692.8 1388.7,2693.7 1390.7,2688.0 1392.7,2685.3 1394.7,2679.5 1396.7,2672.6 1398.7,2683.9 1400.7,2667.2 1402.7,2659.8 1404.7,2673.2 1406.7,2662.5 1408.7,2673.7 1410.7,2649.1 1412.7,2655.7 1414.7,2642.1 1416.7,2653.4 1418.7,2644.7 1420.7,2637.3 1422.7,2644.0 1424.7,2630.7 1426.7,2643.1 1428.7,2630.6 1430.7,2637.5 1432.7,2628.2 1434.7,2632.0 1436.7,2635.2 1438.7,2639.6 1440.7,2633.1 1442.7,2620.3 1444.7,2645.4 1446.7,2635.0 1448.7,2642.6 1450.7,2645.2 1452.7,2643.4 1454.7,2636.4 1456.7,2643.1 1458.7,2647.9 1460.7,2649.5 1462.7,2638.5 1464.7,2644.2 1466.7,2642.4 1468.7,2652.0 1470.7,2641.6 1472.7,2661.6 1474.7,2645.2 1476.7,2650.3 1478.7,2645.6 1480.7,2639.4 1482.7,2630.2 1484.7,2658.0 1486.7,2641.3 1488.7,2630.6 1490.7,2663.3 1492.7,2639.4 1494.7,2648.9 1496.7,2635.6 1498.7,2630.6 1500.7,2639.6 1502.7,2646.2 1504.7,2624.9 1506.7,2640.7 1508.7,2646.3 1510.7,2641.1 1512.7,2634.6 1514.7,2620.5 1516.7,2639.6 1518.7,2642.5 1520.7,2635.6 1522.7,2628.3 1524.7,2635.1 1526.7,2633.7 1528.7,2626.7 1530.7,2626.4 1532.7,2627.0 1534.7,2625.6 1536.7,2630.1 1538.7,2628.1 1540.7,2631.3 1542.7,2629.4 1544.7,2624.7 1546.7,2614.2 1548.7,2634.5 1550.7,2619.0 1552.7,2637.7 1554.7,2618.9 1556.7,2638.4 1558.7,2622.5 1560.7,2632.0 1562.7,2620.4 1564.7,2625.4 1566.7,2618.6 1568.7,2620.2 1570.7,2619.9 1572.7,2626.7 1574.7,2612.6 1576.7,2629.8 1578.7,2617.1 1580.7,2625.4 1582.7,2613.7 1584.7,2623.7 1586.7,2610.8 1588.7,2621.3 1590.7,2621.4 1592.7,2615.5 1594.7,2622.1 1596.7,2622.4 1598.7,2621.9 1600.7,2609.1 1602.7,2624.8 1604.7,2621.3 1606.7,2617.5 1608.7,2618.6 1610.7,2636.1 1612.7,2623.0 1614.7,2626.7 1616.7,2627.7 1618.7,2614.4 1620.7,2623.3 1622.7,2612.6 1624.7,2627.6 1626.7,2610.3 1628.7,2622.2 1630.7,2627.9 1632.7,2623.0 1634.7,2614.3 1636.7,2618.2 1638.7,2630.8 1640.7,2620.2 1642.7,2616.2 1644.7,2621.9 1646.7,2619.8 1648.7,2612.4 1650.7,2617.9 1652.7,2607.1 1654.7,2624.3 1656.7,2617.4 1658.7,2623.1 1660.7,2620.3 1662.7,2610.7 1664.7,2625.7 1666.7,2606.1 1668.7,2620.8 1670.7,2607.3 1672.7,2609.4 1674.7,2605.1 1676.7,2612.8 1678.7,2623.0 1680.7,2604.2 1682.7,2610.3 1684.7,2604.4 1686.7,2610.9 1688.7,2609.2 1690.7,2607.7 1692.7,2613.0 1694.7,2602.1 1696.7,2607.7 1698.7,2613.0 1700.7,2604.4 1702.7,2598.0 1704.7,2612.8 1706.7,2603.4 1708.7,2595.5 1710.7,2598.3 1712.7,2599.8 1714.7,2605.3 1716.7,2598.7 1718.7,2603.0 1720.7,2609.5 1722.7,2600.8 1724.7,2592.0 1726.7,2590.5 1728.7,2603.8 1730.7,2585.6 1732.7,2589.4 1734.7,2592.7 1736.7,2592.7 1738.7,2587.7 1740.7,2591.3 1742.7,2571.6 1744.7,2591.8 1746.7,2587.8 1748.7,2590.1 1750.7,2585.5 1752.7,2582.1 1754.7,2599.0 1756.7,2582.6 1758.7,2583.3 1760.7,2581.5 1762.7,2582.3 1764.7,2573.5 1766.7,2574.5 1768.7,2581.7 1770.7,2567.0 1772.7,2583.7 1774.7,2571.7 1776.7,2579.9 1778.7,2572.9 1780.7,2567.8 1782.7,2570.1 1784.7,2570.7 1786.7,2579.5 1788.7,2575.0 1790.7,2564.7 1792.7,2569.3 1794.7,2561.7 1796.7,2576.0 1798.7,2562.5 1800.7,2558.7 1802.7,2555.7 1804.7,2567.0 1806.7,2569.5 1808.7,2554.4 1810.7,2551.5 1812.7,2552.9 1814.7,2553.4 1816.7,2541.2 1818.7,2563.2 1820.7,2545.5 1822.7,2540.3 1824.7,2535.5 1826.7,2556.6 1828.7,2546.8 1830.7,2553.1 1832.7,2546.5 1834.7,2537.9 1836.7,2531.8 1838.7,2545.0 1840.7,2534.1 1842.7,2538.4 1844.7,2525.2 1846.7,2535.4 1848.7,2531.2 1850.7,2523.1 1852.7,2521.3 1854.7,2518.1 1856.7,2530.9 1858.7,2530.0 1860.7,2517.7 1862.7,2503.2 1864.7,2522.4 1866.7,2504.3 1868.7,2517.6 1870.7,2519.8 1872.7,2505.7 1874.7,2489.2 1876.7,2516.0 1878.7,2500.5 1880.7,2509.2 1882.7,2494.8 1884.7,2496.8 1886.7,2479.0 1888.7,2502.0 1890.7,2475.7 1892.7,2475.1 1894.7,2489.8 1896.7,2482.6 1898.7,2483.9 1900.7,2476.8 1902.7,2469.2 1904.7,2467.3 1906.7,2467.1 1908.7,2459.1 1910.7,2457.3 1912.7,2438.0 1914.7,2452.6 1916.7,2442.5 1918.7,2445.1 1920.7,2430.8 1922.7,2440.4 1924.7,2430.0 1926.7,2413.6 1928.7,2421.1 1930.7,2416.8 1932.7,2399.9 1934.7,2390.6 1936.7,2403.7 1938.7,2396.4 1940.7,2388.8 1942.7,2391.4 1944.7,2376.8 1946.7,2381.5 1948.7,2356.6 1950.7,2371.3 1952.7,2345.5 1954.7,2349.9 1956.7,2324.7 1958.7,2332.5 1960.7,2336.8 1962.7,2317.0 1964.7,2313.2 1966.7,2297.9 1968.7,2308.9 1970.7,2283.5 1972.7,2299.6 1974.7,2279.6 1976.7,2266.7 1978.7,2261.5 1980.7,2257.6 1982.7,2256.6 1984.7,2246.2 1986.7,2225.1 1988.7,2236.5 1990.7,2211.2 1992.7,2228.5 1994.7,2182.8 1996.7,2206.7 1998.7,2173.0 2000.7,2182.8 2002.7,2175.3 2004.7,2158.6 2006.7,2139.2 2008.7,2131.3 2010.7,2144.7 2012.7,2106.0 2014.7,2114.4 2016.7,2101.4 2018.7,2066.0 2020.8,2092.8 2022.8,2055.6 2024.8,2053.1 2026.8,2038.3 2028.8,2042.1 2030.8,2031.5 2032.8,2026.7 2034.8,2015.9 2036.8,2006.8 2038.8,1988.3 2040.8,1983.1 2042.8,1975.7 2044.8,1966.4 2046.8,1966.2 2048.8,1954.5 2050.8,1941.8 2052.8,1934.5 2054.8,1924.2 2056.8,1937.0 2058.8,1928.7 2060.8,1909.0 2062.8,1926.3 2064.8,1925.0 2066.8,1921.3 2068.8,1907.0 2070.8,1916.8 2072.8,1906.9 2074.8,1929.7 2076.8,1921.0 2078.8,1944.0 2080.8,1915.1 2082.8,1944.4 2084.8,1929.6 2086.8,1938.2 2088.8,1950.7 2090.8,1930.7 2092.8,1950.5 2094.8,1973.7 2096.8,1967.2 2098.8,1980.3 2100.8,1976.2 2102.8,1981.5 2104.8,2003.0 2106.8,1999.0 2108.8,2014.3 2110.8,2021.8 2112.8,2025.8 2114.8,2057.5 2116.8,2048.6 2118.8,2057.9 2120.8,2070.8 2122.8,2073.1 2124.8,2086.6 2126.8,2098.9 2128.8,2108.4 2130.8,2101.2 2132.8,2139.8 2134.8,2118.5 2136.8,2143.1 2138.8,2146.6 2140.8,2166.1 2142.8,2159.7 2144.8,2190.4 2146.8,2190.7 2148.8,2201.8 2150.8,2209.4 2152.8,2211.4 2154.8,2225.7 2156.8,2225.0 2158.8,2239.2 2160.8,2251.3 2162.8,2246.9 2164.8,2265.0 2166.8,2269.5 2168.8,2286.5 2170.8,2288.9 2172.8,2291.8 2174.8,2309.6 2176.8,2321.5 2178.8,2321.6 2180.8,2325.5 2182.8,2336.0 2184.8,2337.3 2186.8,2350.3 2188.8,2360.8 2190.8,2365.9 2192.8,2361.3 2194.8,2373.2 2196.8,2379.4 2198.8,2386.4 2200.8,2395.8 2202.8,2404.0 2204.8,2402.6 2206.8,2413.2 2208.8,2409.4 2210.8,2428.2 2212.8,2432.0 2214.8,2431.3 2216.8,2432.2 2218.8,2463.7 2220.8,2439.9 2222.8,2460.4 2224.8,2446.8 2226.8,2466.4 2228.8,2472.3 2230.8,2472.8 2232.8,2478.7 2234.8,2481.6 2236.8,2481.0 2238.8,2486.0 2240.8,2494.7 2242.8,2494.1 2244.8,2499.6 2246.8,2509.6 2248.8,2509.6 2250.8,2509.1 2252.8,2523.2 2254.8,2515.8 2256.8,2520.7 2258.8,2530.8 2260.8,2527.9 2262.8,2521.5 2264.8,2541.4 2266.8,2527.2 2268.8,2543.2 2270.8,2546.7 2272.8,2550.2 2274.8,2542.8 2276.8,2552.6 2278.8,2561.0 2280.8,2568.5 2282.8,2568.0 2284.8,2564.2 2286.8,2574.7 2288.8,2562.2 2290.8,2572.2 2292.8,2580.2 2294.8,2580.1 2296.8,2568.5 2298.8,2592.8 2300.8,2576.5 2302.8,2588.3 2304.8,2582.6 2306.8,2592.4 2308.8,2601.4 2310.8,2586.2 2312.8,2598.3 2314.8,2602.6 2316.8,2606.6 2318.8,2613.9 2320.8,2603.7 2322.8,2615.1 2324.8,2599.1 2326.8,2613.6 2328.8,2601.9 2330.8,2629.7 2332.8,2612.7 2334.8,2626.0 2336.8,2614.0 2338.8,2618.6 2340.8,2620.0 2342.8,2622.4 2344.8,2625.0 2346.8,2616.3 2348.8,2631.4 2350.8,2629.2" stroke="#ff0000" stroke-width="7.5" fill="none" stroke-linejoin="round" stroke-linecap="round" clip-path="url(#cpc)"/>
<polyline points="364.5,2352.5 366.5,2346.1 368.5,2362.1 370.5,2338.0 372.5,2328.3 374.5,2390.8 376.5,2350.8 378.5,2319.2 380.5,2351.2 382.5,2352.5 384.5,2365.5 386.5,2375.5 388.5,2354.5 390.5,2350.2 392.5,2369.4 394.5,2354.1 396.5,2365.3 398.5,2350.6 400.5,2349.0 402.5,2391.9 404.5,2353.6 406.5,2371.6 408.5,2359.4 410.5,2366.1 412.5,2370.1 414.5,2385.8 416.5,2389.6 418.5,2377.4 420.5,2366.4 422.5,2424.4 424.5,2375.5 426.5,2389.7 428.5,2367.4 430.5,2381.8 432.5,2393.6 434.5,2354.1 436.5,2383.4 438.5,2396.0 440.5,2420.0 442.5,2379.1 444.5,2371.1 446.5,2379.0 448.5,2414.6 450.5,2376.9 452.5,2396.3 454.5,2429.5 456.5,2389.7 458.5,2396.6 460.5,2394.7 462.5,2430.0 464.5,2419.6 466.5,2392.7 468.5,2395.9 470.5,2421.5 472.5,2438.1 474.5,2418.3 476.5,2401.7 478.5,2436.2 480.5,2435.8 482.5,2424.1 484.5,2433.8 486.5,2432.4 488.5,2427.5 490.5,2429.5 492.5,2421.6 494.5,2429.6 496.5,2422.2 498.5,2457.9 500.5,2447.4 502.5,2442.4 504.5,2451.6 506.5,2445.4 508.5,2437.2 510.5,2456.6 512.5,2445.2 514.5,2451.0 516.5,2425.1 518.5,2458.9 520.5,2464.9 522.5,2449.9 524.5,2448.5 526.5,2441.7 528.5,2460.7 530.5,2485.7 532.5,2446.4 534.5,2482.1 536.5,2452.3 538.5,2483.2 540.5,2453.4 542.5,2476.0 544.5,2475.5 546.5,2474.5 548.5,2454.1 550.5,2471.9 552.5,2462.5 554.5,2476.7 556.5,2471.3 558.5,2474.5 560.5,2487.2 562.5,2461.0 564.5,2474.6 566.5,2477.4 568.5,2482.1 570.5,2473.8 572.5,2495.9 574.5,2468.1 576.5,2516.2 578.5,2478.4 580.5,2503.7 582.5,2468.0 584.5,2491.4 586.5,2494.1 588.5,2514.5 590.5,2484.3 592.5,2512.5 594.5,2476.7 596.5,2518.7 598.5,2478.7 600.5,2476.5 602.5,2480.6 604.5,2511.3 606.5,2495.0 608.5,2504.2 610.5,2498.4 612.5,2508.3 614.5,2521.1 616.5,2491.9 618.5,2508.3 620.5,2497.5 622.5,2484.0 624.5,2510.4 626.5,2526.6 628.5,2487.6 630.5,2540.7 632.5,2502.3 634.5,2510.5 636.5,2517.8 638.5,2503.8 640.5,2509.7 642.5,2526.9 644.5,2494.6 646.5,2513.3 648.5,2497.7 650.5,2520.4 652.5,2552.1 654.5,2514.0 656.5,2497.1 658.5,2498.1 660.5,2532.7 662.5,2523.3 664.5,2506.6 666.5,2538.6 668.5,2517.8 670.5,2526.8 672.5,2526.6 674.5,2531.3 676.5,2510.8 678.5,2516.0 680.5,2543.8 682.5,2515.2 684.5,2509.7 686.5,2535.4 688.5,2517.6 690.5,2532.0 692.5,2563.9 694.5,2533.1 696.6,2512.7 698.6,2514.6 700.6,2534.0 702.6,2516.7 704.6,2536.6 706.6,2532.1 708.6,2536.9 710.6,2527.7 712.6,2514.6 714.6,2537.2 716.6,2534.3 718.6,2535.9 720.6,2547.6 722.6,2516.3 724.6,2538.5 726.6,2529.5 728.6,2529.1 730.6,2548.5 732.6,2526.6 734.6,2563.9 736.6,2498.7 738.6,2568.5 740.6,2528.9 742.6,2525.8 744.6,2547.7 746.6,2540.9 748.6,2551.7 750.6,2551.2 752.6,2526.3 754.6,2545.4 756.6,2546.1 758.6,2543.2 760.6,2537.9 762.6,2560.7 764.6,2540.7 766.6,2526.9 768.6,2553.7 770.6,2540.3 772.6,2542.6 774.6,2556.3 776.6,2549.0 778.6,2546.0 780.6,2549.5 782.6,2554.4 784.6,2535.3 786.6,2550.7 788.6,2561.1 790.6,2534.6 792.6,2544.8 794.6,2542.3 796.6,2562.2 798.6,2537.0 800.6,2561.7 802.6,2537.6 804.6,2551.4 806.6,2549.9 808.6,2539.8 810.6,2538.2 812.6,2562.6 814.6,2538.7 816.6,2555.4 818.6,2553.3 820.6,2529.4 822.6,2569.3 824.6,2545.3 826.6,2545.8 828.6,2547.4 830.6,2546.9 832.6,2555.9 834.6,2573.4 836.6,2541.4 838.6,2540.2 840.6,2554.5 842.6,2577.0 844.6,2544.8 846.6,2574.6 848.6,2536.9 850.6,2549.0 852.6,2545.3 854.6,2549.5 856.6,2558.5 858.6,2557.0 860.6,2536.1 862.6,2552.6 864.6,2552.5 866.6,2556.4 868.6,2574.0 870.6,2568.6 872.6,2556.8 874.6,2565.5 876.6,2547.5 878.6,2567.1 880.6,2540.2 882.6,2567.4 884.6,2564.4 886.6,2569.1 888.6,2556.9 890.6,2561.4 892.6,2552.4 894.6,2543.3 896.6,2565.9 898.6,2546.1 900.6,2567.4 902.6,2561.9 904.6,2550.2 906.6,2550.2 908.6,2569.1 910.6,2558.1 912.6,2570.4 914.6,2570.8 916.6,2576.5 918.6,2566.9 920.6,2550.2 922.6,2566.8 924.6,2585.7 926.6,2546.6 928.6,2564.1 930.6,2579.3 932.6,2565.2 934.6,2556.0 936.6,2570.8 938.6,2557.5 940.6,2576.6 942.6,2560.4 944.6,2565.6 946.6,2565.9 948.6,2543.0 950.6,2569.4 952.6,2567.2 954.6,2561.1 956.6,2556.0 958.6,2562.3 960.6,2575.3 962.6,2560.8 964.6,2550.5 966.6,2571.9 968.6,2557.0 970.6,2551.7 972.6,2541.6 974.6,2569.1 976.6,2542.8 978.6,2563.0 980.6,2564.1 982.6,2556.6 984.6,2539.3 986.6,2548.9 988.6,2562.6 990.6,2560.2 992.6,2547.8 994.6,2550.1 996.6,2569.1 998.6,2559.7 1000.6,2546.6 1002.6,2545.6 1004.6,2557.2 1006.6,2535.2 1008.6,2555.6 1010.6,2550.3 1012.6,2559.2 1014.6,2549.0 1016.6,2529.3 1018.6,2572.1 1020.6,2546.5 1022.6,2527.0 1024.6,2540.6 1026.6,2559.5 1028.6,2532.5 1030.6,2559.2 1032.6,2533.8 1034.6,2535.3 1036.6,2566.0 1038.6,2555.3 1040.6,2536.0 1042.6,2560.3 1044.6,2541.5 1046.6,2547.1 1048.6,2539.9 1050.6,2549.8 1052.6,2553.5 1054.6,2550.1 1056.6,2554.9 1058.6,2550.0 1060.6,2539.9 1062.6,2533.2 1064.6,2548.8 1066.6,2541.6 1068.6,2532.4 1070.6,2529.0 1072.6,2534.0 1074.6,2526.1 1076.6,2534.2 1078.6,2541.2 1080.6,2546.5 1082.6,2532.8 1084.6,2530.9 1086.6,2533.6 1088.6,2535.7 1090.6,2546.5 1092.6,2531.9 1094.6,2519.2 1096.6,2540.9 1098.6,2520.0 1100.6,2534.6 1102.6,2537.9 1104.6,2526.8 1106.6,2536.4 1108.6,2545.1 1110.6,2523.6 1112.6,2546.2 1114.6,2538.4 1116.6,2537.3 1118.6,2525.3 1120.6,2547.3 1122.6,2535.3 1124.6,2540.9 1126.6,2534.4 1128.6,2547.4 1130.6,2521.9 1132.6,2545.5 1134.6,2543.4 1136.6,2558.8 1138.6,2516.8 1140.6,2534.6 1142.6,2541.7 1144.6,2543.0 1146.6,2532.8 1148.6,2549.3 1150.6,2536.8 1152.6,2543.0 1154.6,2530.3 1156.6,2549.9 1158.6,2542.0 1160.6,2554.8 1162.6,2545.3 1164.6,2554.1 1166.6,2543.1 1168.6,2538.9 1170.6,2555.0 1172.6,2533.0 1174.6,2542.0 1176.6,2548.5 1178.6,2558.6 1180.6,2556.6 1182.6,2533.9 1184.6,2554.6 1186.6,2562.8 1188.6,2545.2 1190.6,2541.0 1192.6,2558.9 1194.6,2564.4 1196.6,2544.8 1198.6,2551.9 1200.6,2573.2 1202.6,2554.5 1204.6,2544.5 1206.6,2566.4 1208.6,2563.4 1210.6,2550.1 1212.6,2559.4 1214.6,2563.2 1216.6,2557.1 1218.6,2568.8 1220.6,2563.6 1222.6,2561.3 1224.6,2567.7 1226.6,2551.5 1228.6,2554.5 1230.6,2552.6 1232.6,2561.6 1234.6,2555.8 1236.6,2565.5 1238.6,2573.3 1240.6,2574.8 1242.6,2567.8 1244.6,2570.6 1246.6,2569.6 1248.6,2573.7 1250.6,2566.7 1252.6,2570.6 1254.6,2568.3 1256.6,2578.8 1258.6,2582.8 1260.6,2578.8 1262.6,2584.7 1264.6,2598.6 1266.6,2583.8 1268.6,2591.2 1270.6,2587.7 1272.6,2594.5 1274.6,2581.8 1276.6,2599.9 1278.6,2597.0 1280.6,2599.3 1282.6,2581.2 1284.6,2599.2 1286.6,2608.2 1288.6,2600.0 1290.6,2586.5 1292.6,2598.3 1294.6,2595.6 1296.6,2609.3 1298.6,2609.3 1300.6,2600.5 1302.6,2594.3 1304.6,2613.6 1306.6,2593.0 1308.6,2623.3 1310.6,2600.7 1312.6,2607.2 1314.6,2607.3 1316.6,2616.7 1318.6,2615.0 1320.6,2618.0 1322.6,2613.7 1324.6,2616.3 1326.6,2625.6 1328.6,2625.5 1330.6,2617.2 1332.6,2623.5 1334.6,2625.3 1336.6,2618.1 1338.6,2619.1 1340.6,2615.7 1342.6,2625.3 1344.6,2639.2 1346.6,2617.0 1348.6,2620.6 1350.6,2631.0 1352.6,2632.2 1354.6,2632.8 1356.6,2624.0 1358.7,2638.5 1360.7,2628.9 1362.7,2633.0 1364.7,2635.1 1366.7,2630.4 1368.7,2635.9 1370.7,2645.0 1372.7,2629.5 1374.7,2640.6 1376.7,2645.8 1378.7,2641.4 1380.7,2642.2 1382.7,2632.0 1384.7,2635.2 1386.7,2643.0 1388.7,2637.4 1390.7,2629.9 1392.7,2645.5 1394.7,2644.0 1396.7,2650.0 1398.7,2635.9 1400.7,2639.2 1402.7,2634.6 1404.7,2643.0 1406.7,2635.7 1408.7,2653.2 1410.7,2626.4 1412.7,2648.1 1414.7,2631.1 1416.7,2627.8 1418.7,2641.4 1420.7,2635.7 1422.7,2644.5 1424.7,2635.2 1426.7,2632.2 1428.7,2630.5 1430.7,2629.9 1432.7,2634.7 1434.7,2635.1 1436.7,2626.4 1438.7,2629.5 1440.7,2637.3 1442.7,2624.8 1444.7,2634.8 1446.7,2631.9 1448.7,2629.7 1450.7,2646.9 1452.7,2638.8 1454.7,2633.3 1456.7,2627.4 1458.7,2642.9 1460.7,2636.1 1462.7,2638.4 1464.7,2639.4 1466.7,2635.2 1468.7,2658.2 1470.7,2637.5 1472.7,2636.7 1474.7,2643.1 1476.7,2636.2 1478.7,2636.1 1480.7,2636.5 1482.7,2646.6 1484.7,2649.0 1486.7,2648.7 1488.7,2639.0 1490.7,2642.7 1492.7,2627.0 1494.7,2631.0 1496.7,2643.1 1498.7,2648.2 1500.7,2647.1 1502.7,2634.0 1504.7,2630.6 1506.7,2640.7 1508.7,2638.8 1510.7,2630.5 1512.7,2638.0 1514.7,2643.6 1516.7,2627.9 1518.7,2635.5 1520.7,2648.4 1522.7,2630.8 1524.7,2634.5 1526.7,2626.0 1528.7,2638.9 1530.7,2614.9 1532.7,2643.5 1534.7,2622.8 1536.7,2619.0 1538.7,2622.0 1540.7,2623.9 1542.7,2604.1 1544.7,2625.1 1546.7,2619.8 1548.7,2606.6 1550.7,2623.0 1552.7,2621.9 1554.7,2596.0 1556.7,2608.4 1558.7,2614.5 1560.7,2620.2 1562.7,2592.7 1564.7,2604.2 1566.7,2592.8 1568.7,2599.8 1570.7,2598.4 1572.7,2585.9 1574.7,2597.8 1576.7,2613.6 1578.7,2590.2 1580.7,2580.3 1582.7,2586.5 1584.7,2570.6 1586.7,2583.7 1588.7,2576.1 1590.7,2571.9 1592.7,2562.7 1594.7,2593.6 1596.7,2572.5 1598.7,2561.3 1600.7,2582.0 1602.7,2574.8 1604.7,2557.0 1606.7,2584.4 1608.7,2545.3 1610.7,2582.6 1612.7,2555.4 1614.7,2572.8 1616.7,2548.2 1618.7,2573.0 1620.7,2574.5 1622.7,2572.6 1624.7,2562.8 1626.7,2567.4 1628.7,2559.0 1630.7,2565.2 1632.7,2568.2 1634.7,2555.6 1636.7,2574.2 1638.7,2563.3 1640.7,2571.6 1642.7,2572.2 1644.7,2562.1 1646.7,2558.5 1648.7,2573.5 1650.7,2559.4 1652.7,2567.8 1654.7,2566.7 1656.7,2555.4 1658.7,2575.4 1660.7,2553.0 1662.7,2569.0 1664.7,2572.8 1666.7,2567.6 1668.7,2566.4 1670.7,2579.8 1672.7,2559.3 1674.7,2568.1 1676.7,2573.9 1678.7,2547.3 1680.7,2568.0 1682.7,2574.0 1684.7,2565.9 1686.7,2556.6 1688.7,2569.8 1690.7,2565.8 1692.7,2560.0 1694.7,2571.0 1696.7,2545.6 1698.7,2569.4 1700.7,2555.1 1702.7,2556.3 1704.7,2541.1 1706.7,2583.1 1708.7,2523.4 1710.7,2563.6 1712.7,2550.1 1714.7,2568.4 1716.7,2538.2 1718.7,2549.1 1720.7,2550.3 1722.7,2552.8 1724.7,2553.2 1726.7,2546.1 1728.7,2520.1 1730.7,2542.1 1732.7,2546.7 1734.7,2539.4 1736.7,2541.5 1738.7,2522.1 1740.7,2530.2 1742.7,2529.7 1744.7,2533.2 1746.7,2531.5 1748.7,2517.6 1750.7,2533.0 1752.7,2516.5 1754.7,2523.5 1756.7,2501.8 1758.7,2511.3 1760.7,2530.8 1762.7,2503.9 1764.7,2528.8 1766.7,2516.1 1768.7,2492.9 1770.7,2512.5 1772.7,2510.5 1774.7,2503.2 1776.7,2487.9 1778.7,2517.1 1780.7,2502.9 1782.7,2492.2 1784.7,2506.3 1786.7,2500.5 1788.7,2524.8 1790.7,2498.6 1792.7,2492.8 1794.7,2504.9 1796.7,2484.7 1798.7,2516.2 1800.7,2499.5 1802.7,2514.9 1804.7,2497.9 1806.7,2517.1 1808.7,2512.0 1810.7,2486.3 1812.7,2505.0 1814.7,2505.5 1816.7,2502.0 1818.7,2495.3 1820.7,2504.5 1822.7,2502.2 1824.7,2511.3 1826.7,2497.3 1828.7,2505.2 1830.7,2514.0 1832.7,2502.9 1834.7,2495.3 1836.7,2494.1 1838.7,2508.8 1840.7,2493.7 1842.7,2513.5 1844.7,2499.3 1846.7,2490.4 1848.7,2519.0 1850.7,2495.0 1852.7,2515.8 1854.7,2506.8 1856.7,2511.0 1858.7,2487.4 1860.7,2508.8 1862.7,2507.7 1864.7,2533.5 1866.7,2506.6 1868.7,2508.5 1870.7,2519.8 1872.7,2502.0 1874.7,2507.7 1876.7,2500.7 1878.7,2512.8 1880.7,2482.3 1882.7,2496.4 1884.7,2522.5 1886.7,2509.6 1888.7,2501.2 1890.7,2497.6 1892.7,2519.0 1894.7,2504.1 1896.7,2484.7 1898.7,2506.5 1900.7,2505.3 1902.7,2489.3 1904.7,2477.9 1906.7,2499.0 1908.7,2498.9 1910.7,2497.0 1912.7,2482.0 1914.7,2495.4 1916.7,2486.5 1918.7,2493.4 1920.7,2471.0 1922.7,2482.2 1924.7,2492.4 1926.7,2490.5 1928.7,2477.8 1930.7,2486.6 1932.7,2479.4 1934.7,2468.6 1936.7,2496.2 1938.7,2460.0 1940.7,2467.0 1942.7,2478.1 1944.7,2478.9 1946.7,2469.5 1948.7,2458.3 1950.7,2455.3 1952.7,2474.9 1954.7,2463.0 1956.7,2450.8 1958.7,2457.4 1960.7,2473.9 1962.7,2460.3 1964.7,2424.8 1966.7,2454.8 1968.7,2465.0 1970.7,2434.7 1972.7,2423.1 1974.7,2436.8 1976.7,2453.7 1978.7,2419.9 1980.7,2443.2 1982.7,2413.3 1984.7,2440.9 1986.7,2415.9 1988.7,2424.7 1990.7,2417.0 1992.7,2409.4 1994.7,2384.6 1996.7,2431.0 1998.7,2412.2 2000.7,2406.4 2002.7,2408.8 2004.7,2386.3 2006.7,2404.0 2008.7,2371.6 2010.7,2376.1 2012.7,2390.5 2014.7,2355.0 2016.7,2390.3 2018.7,2364.0 2020.8,2366.4 2022.8,2351.3 2024.8,2362.9 2026.8,2358.3 2028.8,2329.5 2030.8,2339.5 2032.8,2348.5 2034.8,2317.9 2036.8,2343.3 2038.8,2313.0 2040.8,2322.5 2042.8,2327.4 2044.8,2319.5 2046.8,2295.1 2048.8,2331.5 2050.8,2290.6 2052.8,2293.3 2054.8,2308.2 2056.8,2291.3 2058.8,2311.5 2060.8,2270.5 2062.8,2265.8 2064.8,2261.2 2066.8,2280.9 2068.8,2278.1 2070.8,2276.8 2072.8,2272.8 2074.8,2275.3 2076.8,2252.9 2078.8,2251.1 2080.8,2294.4 2082.8,2267.7 2084.8,2232.3 2086.8,2250.7 2088.8,2238.5 2090.8,2264.2 2092.8,2242.7 2094.8,2201.9 2096.8,2241.7 2098.8,2220.1 2100.8,2231.5 2102.8,2213.6 2104.8,2223.9 2106.8,2205.6 2108.8,2230.2 2110.8,2200.2 2112.8,2223.7 2114.8,2183.9 2116.8,2215.5 2118.8,2204.3 2120.8,2196.1 2122.8,2188.4 2124.8,2177.6 2126.8,2185.2 2128.8,2172.2 2130.8,2196.4 2132.8,2177.0 2134.8,2179.8 2136.8,2178.5 2138.8,2148.8 2140.8,2162.5 2142.8,2158.0 2144.8,2151.3 2146.8,2148.4 2148.8,2143.2 2150.8,2151.1 2152.8,2177.3 2154.8,2139.9 2156.8,2145.4 2158.8,2141.9 2160.8,2120.0 2162.8,2146.0 2164.8,2129.7 2166.8,2135.3 2168.8,2123.4 2170.8,2157.7 2172.8,2098.6 2174.8,2131.0 2176.8,2118.5 2178.8,2122.6 2180.8,2143.9 2182.8,2135.6 2184.8,2119.1 2186.8,2102.6 2188.8,2136.5 2190.8,2111.4 2192.8,2090.3 2194.8,2132.4 2196.8,2107.0 2198.8,2112.9 2200.8,2121.8 2202.8,2125.0 2204.8,2085.0 2206.8,2117.8 2208.8,2110.7 2210.8,2107.3 2212.8,2103.1 2214.8,2124.0 2216.8,2085.2 2218.8,2103.9 2220.8,2127.6 2222.8,2091.7 2224.8,2111.6 2226.8,2120.6 2228.8,2080.3 2230.8,2081.9 2232.8,2070.2 2234.8,2112.8 2236.8,2099.8 2238.8,2092.1 2240.8,2111.3 2242.8,2115.2 2244.8,2097.7 2246.8,2090.1 2248.8,2081.2 2250.8,2107.9 2252.8,2104.3 2254.8,2116.5 2256.8,2079.4 2258.8,2094.6 2260.8,2076.8 2262.8,2107.0 2264.8,2119.8 2266.8,2115.6 2268.8,2097.3 2270.8,2091.4 2272.8,2118.5 2274.8,2093.3 2276.8,2104.5 2278.8,2149.1 2280.8,2086.0 2282.8,2118.4 2284.8,2111.6 2286.8,2126.7 2288.8,2100.7 2290.8,2117.3 2292.8,2137.2 2294.8,2105.6 2296.8,2116.6 2298.8,2118.8 2300.8,2110.3 2302.8,2110.6 2304.8,2148.7 2306.8,2114.2 2308.8,2131.9 2310.8,2154.6 2312.8,2139.4 2314.8,2123.6 2316.8,2158.5 2318.8,2141.0 2320.8,2136.8 2322.8,2178.3 2324.8,2132.6 2326.8,2149.6 2328.8,2158.8 2330.8,2155.8 2332.8,2157.5 2334.8,2152.7 2336.8,2156.9 2338.8,2167.1 2340.8,2153.1 2342.8,2162.6 2344.8,2175.3 2346.8,2170.7 2348.8,2158.5 2350.8,2163.7" stroke="#0000ff" stroke-width="7.5" fill="none" stroke-linejoin="round" stroke-linecap="round" clip-path="url(#cpc)"/>
<polyline points="364.5,2663.5 366.5,2670.2 368.5,2664.6 370.5,2656.7 372.5,2676.6 374.5,2664.3 376.5,2671.8 378.5,2677.9 380.5,2666.0 382.5,2662.5 384.5,2669.2 386.5,2679.5 388.5,2661.5 390.5,2678.9 392.5,2676.5 394.5,2668.0 396.5,2680.7 398.5,2680.9 400.5,2672.7 402.5,2678.5 404.5,2684.8 406.5,2671.9 408.5,2679.7 410.5,2690.6 412.5,2681.7 414.5,2675.5 416.5,2688.6 418.5,2697.6 420.5,2672.8 422.5,2695.8 424.5,2690.4 426.5,2685.5 428.5,2693.1 430.5,2684.0 432.5,2701.1 434.5,2697.4 436.5,2681.8 438.5,2692.7 440.5,2693.8 442.5,2688.9 444.5,2697.1 446.5,2686.7 448.5,2700.3 450.5,2691.5 452.5,2695.6 454.5,2698.5 456.5,2700.4 458.5,2688.1 460.5,2704.0 462.5,2700.6 464.5,2694.7 466.5,2707.4 468.5,2689.6 470.5,2696.7 472.5,2702.0 474.5,2693.5 476.5,2708.9 478.5,2696.8 480.5,2709.1 482.5,2688.8 484.5,2696.3 486.5,2710.2 488.5,2690.6 490.5,2709.7 492.5,2693.5 494.5,2705.0 496.5,2708.2 498.5,2699.0 500.5,2695.7 502.5,2702.8 504.5,2711.5 506.5,2702.2 508.5,2707.9 510.5,2703.1 512.5,2706.0 514.5,2702.8 516.5,2699.2 518.5,2710.9 520.5,2705.1 522.5,2693.0 524.5,2710.6 526.5,2711.8 528.5,2715.5 530.5,2693.3 532.5,2710.5 534.5,2709.8 536.5,2710.2 538.5,2701.0 540.5,2712.1 542.5,2703.7 544.5,2708.5 546.5,2704.8 548.5,2711.3 550.5,2705.2 552.5,2711.3 554.5,2707.5 556.5,2714.7 558.5,2717.2 560.5,2704.8 562.5,2705.3 564.5,2710.1 566.5,2707.3 568.5,2701.3 570.5,2714.6 572.5,2707.5 574.5,2717.5 576.5,2708.0 578.5,2717.2 580.5,2713.9 582.5,2706.7 584.5,2711.1 586.5,2709.7 588.5,2710.8 590.5,2718.7 592.5,2707.5 594.5,2711.6 596.5,2709.4 598.5,2724.2 600.5,2708.4 602.5,2714.3 604.5,2709.8 606.5,2718.6 608.5,2710.1 610.5,2713.6 612.5,2705.3 614.5,2711.4 616.5,2722.1 618.5,2721.4 620.5,2705.4 622.5,2722.9 624.5,2718.9 626.5,2736.6 628.5,2705.2 630.5,2717.4 632.5,2714.5 634.5,2727.3 636.5,2724.3 638.5,2716.0 640.5,2730.5 642.5,2730.1 644.5,2713.2 646.5,2726.0 648.5,2719.3 650.5,2718.7 652.5,2721.1 654.5,2722.4 656.5,2715.7 658.5,2726.0 660.5,2728.8 662.5,2716.0 664.5,2723.0 666.5,2719.7 668.5,2728.6 670.5,2722.6 672.5,2730.3 674.5,2720.2 676.5,2716.2 678.5,2731.7 680.5,2721.5 682.5,2732.6 684.5,2726.5 686.5,2707.0 688.5,2719.4 690.5,2730.2 692.5,2720.6 694.5,2713.4 696.6,2727.7 698.6,2734.9 700.6,2726.4 702.6,2718.8 704.6,2729.8 706.6,2731.5 708.6,2722.4 710.6,2737.6 712.6,2717.5 714.6,2741.1 716.6,2730.7 718.6,2726.0 720.6,2726.8 722.6,2726.4 724.6,2721.0 726.6,2735.3 728.6,2732.5 730.6,2728.9 732.6,2727.1 734.6,2727.3 736.6,2721.4 738.6,2725.8 740.6,2720.3 742.6,2734.3 744.6,2721.1 746.6,2735.3 748.6,2721.9 750.6,2738.6 752.6,2734.4 754.6,2733.9 756.6,2731.7 758.6,2723.8 760.6,2727.4 762.6,2724.9 764.6,2732.7 766.6,2738.5 768.6,2718.1 770.6,2746.8 772.6,2719.7 774.6,2723.5 776.6,2734.4 778.6,2735.4 780.6,2724.7 782.6,2724.3 784.6,2743.2 786.6,2718.8 788.6,2738.9 790.6,2728.6 792.6,2727.5 794.6,2731.4 796.6,2723.3 798.6,2725.9 800.6,2734.8 802.6,2722.9 804.6,2727.9 806.6,2741.0 808.6,2737.7 810.6,2732.5 812.6,2732.9 814.6,2726.3 816.6,2731.3 818.6,2725.2 820.6,2714.4 822.6,2738.2 824.6,2730.9 826.6,2735.6 828.6,2720.1 830.6,2740.1 832.6,2723.8 834.6,2723.6 836.6,2731.2 838.6,2735.8 840.6,2726.7 842.6,2731.5 844.6,2721.9 846.6,2733.3 848.6,2732.7 850.6,2719.5 852.6,2732.0 854.6,2717.4 856.6,2731.3 858.6,2716.3 860.6,2732.2 862.6,2723.2 864.6,2715.3 866.6,2725.3 868.6,2711.2 870.6,2719.2 872.6,2708.3 874.6,2717.8 876.6,2705.4 878.6,2719.5 880.6,2707.5 882.6,2709.5 884.6,2696.8 886.6,2695.8 888.6,2704.8 890.6,2716.9 892.6,2692.4 894.6,2711.8 896.6,2705.7 898.6,2693.2 900.6,2698.9 902.6,2706.1 904.6,2691.3 906.6,2693.0 908.6,2691.0 910.6,2694.2 912.6,2690.2 914.6,2697.7 916.6,2686.8 918.6,2693.9 920.6,2682.3 922.6,2700.5 924.6,2676.3 926.6,2681.4 928.6,2676.1 930.6,2670.9 932.6,2677.0 934.6,2680.4 936.6,2668.9 938.6,2682.0 940.6,2660.9 942.6,2665.5 944.6,2677.3 946.6,2672.2 948.6,2661.9 950.6,2678.9 952.6,2674.6 954.6,2666.7 956.6,2658.3 958.6,2677.6 960.6,2661.0 962.6,2664.9 964.6,2667.8 966.6,2657.2 968.6,2672.4 970.6,2651.9 972.6,2666.2 974.6,2658.5 976.6,2663.9 978.6,2651.9 980.6,2655.7 982.6,2645.4 984.6,2647.9 986.6,2643.8 988.6,2652.0 990.6,2638.6 992.6,2654.5 994.6,2637.8 996.6,2633.9 998.6,2638.7 1000.6,2647.6 1002.6,2631.6 1004.6,2641.2 1006.6,2623.8 1008.6,2640.7 1010.6,2636.4 1012.6,2632.7 1014.6,2633.9 1016.6,2620.9 1018.6,2620.0 1020.6,2622.6 1022.6,2634.0 1024.6,2624.6 1026.6,2627.0 1028.6,2616.3 1030.6,2627.0 1032.6,2607.7 1034.6,2624.7 1036.6,2609.5 1038.6,2615.8 1040.6,2619.9 1042.6,2617.3 1044.6,2609.1 1046.6,2609.3 1048.6,2619.3 1050.6,2611.9 1052.6,2601.0 1054.6,2610.6 1056.6,2604.2 1058.6,2612.1 1060.6,2605.1 1062.6,2605.5 1064.6,2602.6 1066.6,2598.8 1068.6,2609.8 1070.6,2600.6 1072.6,2584.5 1074.6,2602.6 1076.6,2601.0 1078.6,2592.3 1080.6,2592.9 1082.6,2594.3 1084.6,2599.0 1086.6,2587.5 1088.6,2598.3 1090.6,2600.4 1092.6,2594.5 1094.6,2595.0 1096.6,2586.9 1098.6,2598.3 1100.6,2587.1 1102.6,2595.0 1104.6,2579.8 1106.6,2599.4 1108.6,2581.6 1110.6,2589.6 1112.6,2594.1 1114.6,2584.5 1116.6,2583.8 1118.6,2585.8 1120.6,2591.7 1122.6,2587.4 1124.6,2583.3 1126.6,2575.1 1128.6,2578.5 1130.6,2583.4 1132.6,2580.0 1134.6,2569.4 1136.6,2571.9 1138.6,2579.5 1140.6,2576.8 1142.6,2567.9 1144.6,2560.9 1146.6,2580.0 1148.6,2561.6 1150.6,2566.6 1152.6,2547.5 1154.6,2561.4 1156.6,2559.6 1158.6,2559.8 1160.6,2549.3 1162.6,2546.2 1164.6,2545.2 1166.6,2551.4 1168.6,2550.4 1170.6,2546.5 1172.6,2532.1 1174.6,2541.5 1176.6,2540.7 1178.6,2544.1 1180.6,2536.6 1182.6,2533.7 1184.6,2519.8 1186.6,2539.7 1188.6,2522.9 1190.6,2525.4 1192.6,2516.6 1194.6,2519.4 1196.6,2514.9 1198.6,2512.4 1200.6,2507.2 1202.6,2515.8 1204.6,2511.1 1206.6,2499.9 1208.6,2500.1 1210.6,2499.3 1212.6,2501.0 1214.6,2508.9 1216.6,2493.2 1218.6,2507.9 1220.6,2481.9 1222.6,2489.2 1224.6,2489.1 1226.6,2485.5 1228.6,2489.5 1230.6,2491.8 1232.6,2469.1 1234.6,2478.5 1236.6,2478.4 1238.6,2479.1 1240.6,2459.0 1242.6,2465.8 1244.6,2462.4 1246.6,2450.2 1248.6,2452.1 1250.6,2440.3 1252.6,2434.5 1254.6,2432.9 1256.6,2438.4 1258.6,2430.3 1260.6,2418.2 1262.6,2406.9 1264.6,2421.3 1266.6,2402.5 1268.6,2410.3 1270.6,2393.0 1272.6,2383.9 1274.6,2387.9 1276.6,2378.6 1278.6,2389.1 1280.6,2354.4 1282.6,2370.0 1284.6,2363.3 1286.6,2347.4 1288.6,2363.0 1290.6,2353.7 1292.6,2350.4 1294.6,2345.5 1296.6,2339.4 1298.6,2352.6 1300.6,2345.6 1302.6,2356.4 1304.6,2360.7 1306.6,2363.6 1308.6,2371.0 1310.6,2375.3 1312.6,2394.5 1314.6,2403.2 1316.6,2421.5 1318.6,2433.0 1320.6,2436.4 1322.6,2463.7 1324.6,2472.0 1326.6,2472.7 1328.6,2484.0 1330.6,2491.5 1332.6,2509.5 1334.6,2521.3 1336.6,2540.4 1338.6,2546.9 1340.6,2566.4 1342.6,2577.0 1344.6,2581.6 1346.6,2587.3 1348.6,2598.7 1350.6,2607.4 1352.6,2622.0 1354.6,2635.4 1356.6,2627.4 1358.7,2650.9 1360.7,2649.8 1362.7,2669.2 1364.7,2677.0 1366.7,2669.0 1368.7,2669.5 1370.7,2674.4 1372.7,2681.1 1374.7,2670.9 1376.7,2673.9 1378.7,2680.7 1380.7,2686.7 1382.7,2667.7 1384.7,2684.4 1386.7,2677.6 1388.7,2670.6 1390.7,2668.5 1392.7,2662.6 1394.7,2665.8 1396.7,2671.0 1398.7,2669.2 1400.7,2657.1 1402.7,2658.9 1404.7,2652.2 1406.7,2667.1 1408.7,2628.6 1410.7,2631.7 1412.7,2644.2 1414.7,2622.5 1416.7,2639.8 1418.7,2621.2 1420.7,2636.2 1422.7,2632.1 1424.7,2618.0 1426.7,2623.9 1428.7,2615.1 1430.7,2628.7 1432.7,2615.6 1434.7,2614.0 1436.7,2623.9 1438.7,2619.2 1440.7,2616.1 1442.7,2614.8 1444.7,2628.0 1446.7,2617.5 1448.7,2623.6 1450.7,2631.5 1452.7,2638.1 1454.7,2633.7 1456.7,2636.2 1458.7,2635.3 1460.7,2638.7 1462.7,2640.0 1464.7,2657.7 1466.7,2627.6 1468.7,2646.8 1470.7,2647.8 1472.7,2641.3 1474.7,2641.3 1476.7,2652.6 1478.7,2652.8 1480.7,2648.2 1482.7,2641.3 1484.7,2640.5 1486.7,2648.1 1488.7,2629.6 1490.7,2639.9 1492.7,2651.9 1494.7,2638.5 1496.7,2638.6 1498.7,2636.3 1500.7,2635.1 1502.7,2631.8 1504.7,2641.4 1506.7,2636.5 1508.7,2636.1 1510.7,2616.6 1512.7,2647.9 1514.7,2635.1 1516.7,2640.4 1518.7,2624.4 1520.7,2619.1 1522.7,2628.5 1524.7,2628.6 1526.7,2645.9 1528.7,2620.1 1530.7,2628.8 1532.7,2637.2 1534.7,2632.5 1536.7,2633.0 1538.7,2623.2 1540.7,2641.8 1542.7,2625.9 1544.7,2621.4 1546.7,2632.5 1548.7,2617.1 1550.7,2622.7 1552.7,2625.7 1554.7,2620.8 1556.7,2626.5 1558.7,2623.5 1560.7,2625.0 1562.7,2621.8 1564.7,2635.6 1566.7,2616.5 1568.7,2624.9 1570.7,2621.1 1572.7,2624.0 1574.7,2618.9 1576.7,2643.3 1578.7,2619.4 1580.7,2633.1 1582.7,2623.0 1584.7,2620.4 1586.7,2628.3 1588.7,2625.6 1590.7,2622.9 1592.7,2633.4 1594.7,2640.2 1596.7,2627.4 1598.7,2637.0 1600.7,2636.9 1602.7,2615.6 1604.7,2649.4 1606.7,2618.8 1608.7,2648.2 1610.7,2629.8 1612.7,2636.9 1614.7,2646.8 1616.7,2635.5 1618.7,2621.2 1620.7,2626.8 1622.7,2631.2 1624.7,2644.1 1626.7,2633.8 1628.7,2639.4 1630.7,2634.8 1632.7,2641.2 1634.7,2624.4 1636.7,2625.0 1638.7,2634.7 1640.7,2641.0 1642.7,2624.8 1644.7,2620.4 1646.7,2635.3 1648.7,2638.2 1650.7,2632.8 1652.7,2628.2 1654.7,2628.7 1656.7,2618.3 1658.7,2635.6 1660.7,2642.2 1662.7,2620.7 1664.7,2640.0 1666.7,2614.8 1668.7,2626.9 1670.7,2623.4 1672.7,2625.7 1674.7,2612.1 1676.7,2635.4 1678.7,2616.8 1680.7,2607.9 1682.7,2630.2 1684.7,2618.8 1686.7,2610.0 1688.7,2620.5 1690.7,2622.8 1692.7,2618.9 1694.7,2616.1 1696.7,2609.7 1698.7,2617.8 1700.7,2621.1 1702.7,2623.6 1704.7,2610.4 1706.7,2614.9 1708.7,2614.7 1710.7,2605.5 1712.7,2598.1 1714.7,2608.9 1716.7,2607.4 1718.7,2608.2 1720.7,2604.7 1722.7,2599.5 1724.7,2601.7 1726.7,2602.5 1728.7,2596.9 1730.7,2598.4 1732.7,2591.9 1734.7,2602.7 1736.7,2601.6 1738.7,2595.0 1740.7,2599.0 1742.7,2599.9 1744.7,2590.7 1746.7,2596.4 1748.7,2592.8 1750.7,2601.7 1752.7,2587.0 1754.7,2597.9 1756.7,2580.6 1758.7,2610.0 1760.7,2591.5 1762.7,2585.0 1764.7,2592.7 1766.7,2602.9 1768.7,2585.2 1770.7,2578.8 1772.7,2591.8 1774.7,2584.3 1776.7,2591.3 1778.7,2585.8 1780.7,2574.3 1782.7,2590.4 1784.7,2589.7 1786.7,2589.9 1788.7,2581.1 1790.7,2593.1 1792.7,2585.6 1794.7,2581.5 1796.7,2587.6 1798.7,2558.0 1800.7,2592.8 1802.7,2583.3 1804.7,2571.8 1806.7,2581.2 1808.7,2568.2 1810.7,2574.5 1812.7,2572.3 1814.7,2565.4 1816.7,2572.0 1818.7,2558.4 1820.7,2572.0 1822.7,2578.6 1824.7,2573.9 1826.7,2559.5 1828.7,2575.0 1830.7,2560.4 1832.7,2551.5 1834.7,2559.1 1836.7,2559.5 1838.7,2556.6 1840.7,2559.2 1842.7,2546.8 1844.7,2550.6 1846.7,2557.8 1848.7,2546.3 1850.7,2548.8 1852.7,2543.3 1854.7,2547.9 1856.7,2543.9 1858.7,2531.3 1860.7,2545.5 1862.7,2526.2 1864.7,2535.1 1866.7,2525.8 1868.7,2531.4 1870.7,2523.9 1872.7,2524.4 1874.7,2518.3 1876.7,2515.4 1878.7,2516.1 1880.7,2511.8 1882.7,2505.0 1884.7,2500.4 1886.7,2514.1 1888.7,2511.6 1890.7,2492.7 1892.7,2506.4 1894.7,2493.1 1896.7,2499.3 1898.7,2499.7 1900.7,2491.2 1902.7,2485.4 1904.7,2472.4 1906.7,2485.3 1908.7,2478.7 1910.7,2483.5 1912.7,2463.9 1914.7,2469.9 1916.7,2467.1 1918.7,2470.4 1920.7,2447.3 1922.7,2463.9 1924.7,2448.0 1926.7,2442.6 1928.7,2435.3 1930.7,2436.0 1932.7,2443.5 1934.7,2425.0 1936.7,2421.8 1938.7,2422.8 1940.7,2429.6 1942.7,2417.9 1944.7,2412.1 1946.7,2408.1 1948.7,2400.6 1950.7,2387.0 1952.7,2379.8 1954.7,2393.1 1956.7,2370.9 1958.7,2371.0 1960.7,2360.3 1962.7,2363.6 1964.7,2360.7 1966.7,2338.1 1968.7,2340.3 1970.7,2330.8 1972.7,2328.4 1974.7,2314.4 1976.7,2309.7 1978.7,2297.5 1980.7,2297.1 1982.7,2282.2 1984.7,2288.5 1986.7,2269.9 1988.7,2278.1 1990.7,2246.9 1992.7,2243.3 1994.7,2251.3 1996.7,2235.2 1998.7,2212.5 2000.7,2241.6 2002.7,2199.6 2004.7,2210.3 2006.7,2186.4 2008.7,2191.1 2010.7,2181.8 2012.7,2158.7 2014.7,2161.2 2016.7,2153.5 2018.7,2152.1 2020.8,2130.6 2022.8,2128.2 2024.8,2111.1 2026.8,2105.5 2028.8,2094.9 2030.8,2079.8 2032.8,2059.6 2034.8,2056.8 2036.8,2063.6 2038.8,2048.7 2040.8,2035.5 2042.8,2022.4 2044.8,2019.2 2046.8,2006.5 2048.8,2023.4 2050.8,1985.4 2052.8,2016.5 2054.8,1982.2 2056.8,2008.3 2058.8,1976.3 2060.8,1971.3 2062.8,1972.4 2064.8,1960.9 2066.8,1974.2 2068.8,1949.8 2070.8,1954.7 2072.8,1942.4 2074.8,1955.6 2076.8,1931.8 2078.8,1945.1 2080.8,1959.2 2082.8,1927.7 2084.8,1958.6 2086.8,1959.3 2088.8,1949.4 2090.8,1965.0 2092.8,1963.0 2094.8,1961.7 2096.8,1951.7 2098.8,1971.0 2100.8,1972.6 2102.8,1986.5 2104.8,1979.3 2106.8,1987.7 2108.8,1987.3 2110.8,2005.3 2112.8,2011.9 2114.8,1996.9 2116.8,2029.7 2118.8,2034.8 2120.8,2037.6 2122.8,2049.5 2124.8,2055.0 2126.8,2076.2 2128.8,2070.1 2130.8,2096.4 2132.8,2094.1 2134.8,2088.9 2136.8,2116.4 2138.8,2124.9 2140.8,2136.2 2142.8,2138.3 2144.8,2147.6 2146.8,2164.1 2148.8,2175.9 2150.8,2158.3 2152.8,2184.7 2154.8,2205.5 2156.8,2196.4 2158.8,2198.9 2160.8,2229.4 2162.8,2231.2 2164.8,2222.2 2166.8,2243.2 2168.8,2242.7 2170.8,2254.7 2172.8,2265.6 2174.8,2262.3 2176.8,2274.7 2178.8,2279.9 2180.8,2277.8 2182.8,2304.9 2184.8,2308.8 2186.8,2310.3 2188.8,2318.4 2190.8,2331.3 2192.8,2325.2 2194.8,2334.0 2196.8,2352.9 2198.8,2353.4 2200.8,2372.8 2202.8,2352.5 2204.8,2378.1 2206.8,2371.6 2208.8,2405.1 2210.8,2383.2 2212.8,2405.0 2214.8,2386.1 2216.8,2409.7 2218.8,2424.5 2220.8,2417.1 2222.8,2425.0 2224.8,2440.8 2226.8,2438.4 2228.8,2444.5 2230.8,2449.8 2232.8,2448.5 2234.8,2469.5 2236.8,2464.5 2238.8,2462.1 2240.8,2468.1 2242.8,2462.6 2244.8,2476.4 2246.8,2496.3 2248.8,2475.3 2250.8,2491.6 2252.8,2507.9 2254.8,2501.3 2256.8,2501.4 2258.8,2507.5 2260.8,2505.7 2262.8,2515.0 2264.8,2516.2 2266.8,2529.4 2268.8,2525.3 2270.8,2519.5 2272.8,2542.4 2274.8,2535.4 2276.8,2542.2 2278.8,2545.7 2280.8,2545.1 2282.8,2545.5 2284.8,2558.3 2286.8,2557.3 2288.8,2550.9 2290.8,2558.7 2292.8,2563.9 2294.8,2566.5 2296.8,2563.8 2298.8,2557.9 2300.8,2582.1 2302.8,2563.5 2304.8,2567.4 2306.8,2573.0 2308.8,2580.5 2310.8,2577.9 2312.8,2565.9 2314.8,2579.1 2316.8,2578.7 2318.8,2586.6 2320.8,2592.6 2322.8,2586.4 2324.8,2609.3 2326.8,2596.1 2328.8,2605.4 2330.8,2600.5 2332.8,2590.5 2334.8,2610.5 2336.8,2592.3 2338.8,2601.8 2340.8,2609.7 2342.8,2605.5 2344.8,2610.7 2346.8,2603.4 2348.8,2615.9 2350.8,2609.4" stroke="#000000" stroke-width="7.5" fill="none" stroke-linejoin="round" stroke-linecap="round" clip-path="url(#cpc)"/>
<polyline points="1553.0,358.1 1554.7,358.2 1556.4,360.0 1558.1,357.0 1559.8,363.5 1561.6,360.5 1563.3,359.6 1565.0,360.9 1566.7,361.6 1568.4,362.6 1570.1,365.7 1571.8,363.8 1573.5,361.3 1575.2,362.4 1576.9,367.0 1578.7,363.2 1580.4,360.3 1582.1,362.1 1583.8,360.4 1585.5,361.0 1587.2,361.2 1588.9,357.8 1590.6,359.1 1592.3,358.3 1594.1,357.5 1595.8,353.7 1597.5,354.5 1599.2,357.3 1600.9,350.6 1602.6,351.6 1604.3,351.2 1606.0,348.3 1607.7,348.8 1609.4,351.9 1611.2,349.1 1612.9,344.4 1614.6,348.6 1616.3,345.4 1618.0,346.2 1619.7,349.4 1621.4,351.3 1623.1,347.4 1624.8,351.8 1626.5,346.2 1628.3,350.6 1630.0,349.9 1631.7,350.2 1633.4,352.2 1635.1,351.0 1636.8,349.5 1638.5,349.1 1640.2,352.3 1641.9,353.7 1643.7,353.4 1645.4,353.1 1647.1,354.4 1648.8,360.4 1650.5,358.4 1652.2,358.1 1653.9,361.5 1655.6,361.8 1657.3,361.3 1659.0,362.3 1660.8,366.0 1662.5,364.9 1664.2,366.8 1665.9,366.3 1667.6,365.8 1669.3,365.7 1671.0,366.8 1672.7,366.6 1674.4,368.3 1676.2,368.5 1677.9,370.5 1679.6,370.4 1681.3,368.1 1683.0,370.2 1684.7,367.4 1686.4,369.8 1688.1,369.0 1689.8,371.9 1691.5,370.1 1693.3,370.5 1695.0,372.4 1696.7,369.1 1698.4,374.7 1700.1,375.2 1701.8,377.1 1703.5,372.9 1705.2,376.9 1706.9,374.2 1708.6,382.5 1710.4,377.9 1712.1,380.5 1713.8,377.6 1715.5,382.0 1717.2,381.0 1718.9,380.9 1720.6,382.1 1722.3,383.2 1724.0,384.0 1725.8,383.2 1727.5,390.4 1729.2,386.4 1730.9,388.5 1732.6,389.2 1734.3,389.4 1736.0,390.5 1737.7,392.0 1739.4,390.6 1741.1,394.5 1742.9,391.2 1744.6,395.3 1746.3,391.0 1748.0,395.2 1749.7,395.4 1751.4,396.6 1753.1,396.5 1754.8,392.6 1756.5,395.2 1758.3,399.4 1760.0,394.6 1761.7,394.6 1763.4,401.1 1765.1,399.1 1766.8,397.0 1768.5,400.3 1770.2,404.1 1771.9,400.4 1773.6,402.3 1775.4,403.2 1777.1,406.7 1778.8,400.6 1780.5,406.9 1782.2,405.5 1783.9,406.9 1785.6,407.6 1787.3,406.6 1789.0,408.4 1790.7,408.1 1792.5,410.3 1794.2,403.3 1795.9,410.1 1797.6,409.4 1799.3,407.0 1801.0,413.3 1802.7,410.1 1804.4,407.1 1806.1,411.7 1807.9,412.7 1809.6,411.3 1811.3,410.6 1813.0,414.0 1814.7,412.8 1816.4,411.1 1818.1,413.6 1819.8,416.2 1821.5,415.3 1823.2,411.8 1825.0,414.3 1826.7,418.1 1828.4,415.5 1830.1,415.4 1831.8,415.5 1833.5,417.0 1835.2,418.3 1836.9,412.2 1838.6,420.6 1840.4,415.2 1842.1,416.0 1843.8,417.6 1845.5,416.5 1847.2,417.2 1848.9,419.2 1850.6,417.7 1852.3,420.8 1854.0,415.4 1855.7,421.6 1857.5,416.5 1859.2,420.6 1860.9,418.9 1862.6,421.7 1864.3,417.0 1866.0,421.2 1867.7,423.1 1869.4,421.6 1871.1,419.2 1872.8,422.4 1874.6,422.4 1876.3,421.3 1878.0,423.1 1879.7,422.3 1881.4,416.6 1883.1,424.4 1884.8,427.7 1886.5,418.5 1888.2,421.5 1890.0,422.2 1891.7,420.5 1893.4,422.1 1895.1,422.2 1896.8,426.0 1898.5,420.4 1900.2,423.6 1901.9,421.7 1903.6,420.9 1905.3,421.6 1907.1,420.2 1908.8,424.8 1910.5,419.7 1912.2,418.3 1913.9,421.5 1915.6,423.9 1917.3,419.3 1919.0,420.4 1920.7,421.5 1922.5,420.4 1924.2,420.0 1925.9,425.1 1927.6,415.2 1929.3,424.1 1931.0,421.5 1932.7,423.2 1934.4,421.9 1936.1,425.9 1937.8,425.5 1939.6,422.7 1941.3,421.3 1943.0,423.5 1944.7,424.0 1946.4,422.9 1948.1,422.8 1949.8,428.8 1951.5,425.3 1953.2,422.5 1954.9,424.3 1956.7,426.2 1958.4,424.4 1960.1,427.5 1961.8,427.2 1963.5,425.9 1965.2,425.0 1966.9,427.1 1968.6,424.4 1970.3,428.0 1972.1,431.3 1973.8,425.6 1975.5,429.9 1977.2,430.2 1978.9,430.8 1980.6,425.4 1982.3,429.9 1984.0,428.7 1985.7,432.7 1987.4,431.1 1989.2,427.6 1990.9,430.4 1992.6,431.9 1994.3,434.7 1996.0,429.2 1997.7,434.1 1999.4,429.3 2001.1,430.3 2002.8,434.5 2004.6,430.2 2006.3,430.1 2008.0,436.1 2009.7,433.0 2011.4,430.1 2013.1,435.7 2014.8,433.4 2016.5,434.2 2018.2,431.2 2019.9,433.8 2021.7,430.3 2023.4,431.7 2025.1,437.2 2026.8,432.8 2028.5,435.1 2030.2,433.8 2031.9,433.7 2033.6,434.0 2035.3,436.0 2037.0,433.9 2038.8,432.2 2040.5,438.1 2042.2,436.8 2043.9,435.5 2045.6,437.4 2047.3,434.5 2049.0,435.3 2050.7,437.5 2052.4,435.7 2054.2,433.0 2055.9,436.3 2057.6,436.1 2059.3,439.9 2061.0,434.4 2062.7,434.6 2064.4,434.7 2066.1,436.7 2067.8,435.2 2069.5,436.6 2071.3,434.7 2073.0,434.3 2074.7,437.3 2076.4,437.6 2078.1,436.8 2079.8,434.0 2081.5,437.5 2083.2,438.8 2084.9,437.1 2086.7,435.8 2088.4,436.9 2090.1,436.9 2091.8,438.2 2093.5,436.7 2095.2,438.8 2096.9,437.7 2098.6,438.0 2100.3,439.3 2102.0,439.0 2103.8,436.7 2105.5,437.9 2107.2,440.2 2108.9,437.1 2110.6,436.4 2112.3,438.4 2114.0,437.1 2115.7,439.4 2117.4,439.0 2119.1,441.2 2120.9,438.7 2122.6,439.8 2124.3,441.4 2126.0,439.5 2127.7,437.1 2129.4,439.9 2131.1,438.3 2132.8,439.7 2134.5,442.0 2136.3,444.1 2138.0,439.2 2139.7,439.7 2141.4,438.5 2143.1,441.1 2144.8,442.8 2146.5,437.6 2148.2,441.7 2149.9,441.6 2151.6,441.6 2153.4,444.2 2155.1,438.9 2156.8,441.1 2158.5,438.6 2160.2,440.6 2161.9,439.4 2163.6,441.7 2165.3,441.6 2167.0,441.8 2168.8,441.9 2170.5,439.5 2172.2,439.6 2173.9,440.0 2175.6,441.3 2177.3,440.6 2179.0,439.3 2180.7,442.8 2182.4,438.9 2184.1,441.8 2185.9,440.3 2187.6,442.4 2189.3,442.0 2191.0,439.3 2192.7,442.8 2194.4,444.8 2196.1,440.8 2197.8,439.1 2199.5,446.3 2201.2,438.1 2203.0,443.5 2204.7,439.0 2206.4,443.7 2208.1,440.7 2209.8,442.6 2211.5,441.6 2213.2,438.7 2214.9,439.8 2216.6,441.3 2218.4,443.9 2220.1,441.6 2221.8,443.7 2223.5,443.1 2225.2,444.0 2226.9,438.8 2228.6,440.4 2230.3,440.6 2232.0,445.1 2233.7,440.0 2235.5,442.7 2237.2,445.1 2238.9,439.7 2240.6,440.9 2242.3,440.5 2244.0,444.3 2245.7,443.0 2247.4,441.2 2249.1,441.0 2250.9,441.9 2252.6,442.6 2254.3,443.5 2256.0,439.2 2257.7,441.1 2259.4,444.0 2261.1,442.7 2262.8,441.3 2264.5,441.5 2266.2,443.7 2268.0,441.3 2269.7,438.5 2271.4,441.1 2273.1,443.9 2274.8,441.0 2276.5,442.7 2278.2,438.3 2279.9,445.2 2281.6,441.4 2283.3,441.3 2285.1,442.1 2286.8,441.1 2288.5,441.6 2290.2,437.8 2291.9,441.6 2293.6,444.5 2295.3,440.6 2297.0,440.3 2298.7,443.4 2300.5,444.2 2302.2,440.7 2303.9,443.3 2305.6,440.0 2307.3,439.0 2309.0,446.0 2310.7,439.3 2312.4,443.8 2314.1,443.1 2315.8,444.1 2317.6,439.6 2319.3,444.2 2321.0,439.3 2322.7,439.8 2324.4,439.9 2326.1,443.4 2327.8,438.9 2329.5,447.8 2331.2,441.9 2333.0,443.0 2334.7,441.7 2336.4,443.2 2338.1,440.2 2339.8,440.0 2341.5,440.8 2343.2,443.3 2344.9,441.2 2346.6,442.2 2348.3,438.7 2350.1,443.9 2351.8,443.1 2353.5,441.1 2355.2,436.8 2356.9,441.9 2358.6,441.5 2360.3,443.2 2362.0,440.6 2363.7,442.4 2365.4,438.6 2367.2,440.4 2368.9,440.1 2370.6,443.9 2372.3,436.5 2374.0,441.3 2375.7,437.6 2377.4,445.1 2379.1,440.8 2380.8,438.6 2382.6,442.5 2384.3,441.3 2386.0,439.5 2387.7,441.1 2389.4,439.6 2391.1,439.9 2392.8,437.0 2394.5,439.5 2396.2,441.8 2397.9,439.5 2399.7,443.5 2401.4,440.3 2403.1,439.3 2404.8,435.3 2406.5,439.3" stroke="#ff0000" stroke-width="4.8" fill="none" stroke-linejoin="round" stroke-linecap="round" clip-path="url(#cpi)"/>
<polyline points="1553.0,184.8 1554.7,196.8 1556.4,204.4 1558.1,204.8 1559.8,213.3 1561.6,222.0 1563.3,230.1 1565.0,240.6 1566.7,248.1 1568.4,259.5 1570.1,266.1 1571.8,270.8 1573.5,276.3 1575.2,277.8 1576.9,279.3 1578.7,285.5 1580.4,285.4 1582.1,292.3 1583.8,292.4 1585.5,295.7 1587.2,298.0 1588.9,305.0 1590.6,304.9 1592.3,308.9 1594.1,312.7 1595.8,315.3 1597.5,315.0 1599.2,315.8 1600.9,316.4 1602.6,320.8 1604.3,318.6 1606.0,323.4 1607.7,326.6 1609.4,334.3 1611.2,339.4 1612.9,342.2 1614.6,347.7 1616.3,354.2 1618.0,362.4 1619.7,365.9 1621.4,369.8 1623.1,372.2 1624.8,379.8 1626.5,384.3 1628.3,389.6 1630.0,394.0 1631.7,395.8 1633.4,400.3 1635.1,400.7 1636.8,403.2 1638.5,405.3 1640.2,402.8 1641.9,407.4 1643.7,407.7 1645.4,408.8 1647.1,410.8 1648.8,414.8 1650.5,410.5 1652.2,416.1 1653.9,411.2 1655.6,416.1 1657.3,416.9 1659.0,418.1 1660.8,418.7 1662.5,419.4 1664.2,418.0 1665.9,419.3 1667.6,422.2 1669.3,420.2 1671.0,419.4 1672.7,420.6 1674.4,421.1 1676.2,423.7 1677.9,422.3 1679.6,423.8 1681.3,421.8 1683.0,423.8 1684.7,424.4 1686.4,422.8 1688.1,425.0 1689.8,422.8 1691.5,424.3 1693.3,424.4 1695.0,423.2 1696.7,426.9 1698.4,424.4 1700.1,426.1 1701.8,426.9 1703.5,426.7 1705.2,427.4 1706.9,426.2 1708.6,426.4 1710.4,427.5 1712.1,424.7 1713.8,426.5 1715.5,426.8 1717.2,427.6 1718.9,430.0 1720.6,427.0 1722.3,429.1 1724.0,431.9 1725.8,428.2 1727.5,431.5 1729.2,428.1 1730.9,430.7 1732.6,429.2 1734.3,431.1 1736.0,432.9 1737.7,427.9 1739.4,433.7 1741.1,432.1 1742.9,431.1 1744.6,430.5 1746.3,434.0 1748.0,432.1 1749.7,433.9 1751.4,433.1 1753.1,436.0 1754.8,431.8 1756.5,431.8 1758.3,434.5 1760.0,433.8 1761.7,435.9 1763.4,434.2 1765.1,433.9 1766.8,436.2 1768.5,430.9 1770.2,433.8 1771.9,433.0 1773.6,434.2 1775.4,432.3 1777.1,436.6 1778.8,433.9 1780.5,432.5 1782.2,434.3 1783.9,436.5 1785.6,436.7 1787.3,438.5 1789.0,439.5 1790.7,434.6 1792.5,434.1 1794.2,433.3 1795.9,438.4 1797.6,435.0 1799.3,436.6 1801.0,436.1 1802.7,437.1 1804.4,439.0 1806.1,436.7 1807.9,436.8 1809.6,435.6 1811.3,435.2 1813.0,437.8 1814.7,437.8 1816.4,440.7 1818.1,436.7 1819.8,439.4 1821.5,436.3 1823.2,436.2 1825.0,437.1 1826.7,437.5 1828.4,442.4 1830.1,435.3 1831.8,440.4 1833.5,436.3 1835.2,440.8 1836.9,438.7 1838.6,438.2 1840.4,438.9 1842.1,437.8 1843.8,440.3 1845.5,438.0 1847.2,437.4 1848.9,437.9 1850.6,440.6 1852.3,442.1 1854.0,438.7 1855.7,439.3 1857.5,440.3 1859.2,441.9 1860.9,439.4 1862.6,439.1 1864.3,442.3 1866.0,440.1 1867.7,442.6 1869.4,439.6 1871.1,438.1 1872.8,438.9 1874.6,444.5 1876.3,442.5 1878.0,439.2 1879.7,440.1 1881.4,443.6 1883.1,437.7 1884.8,439.9 1886.5,442.5 1888.2,439.5 1890.0,441.0 1891.7,440.4 1893.4,441.4 1895.1,443.0 1896.8,439.9 1898.5,441.8 1900.2,436.6 1901.9,442.1 1903.6,439.2 1905.3,439.2 1907.1,440.1 1908.8,440.8 1910.5,442.7 1912.2,437.9 1913.9,441.9 1915.6,440.1 1917.3,440.7 1919.0,443.0 1920.7,441.3 1922.5,443.1 1924.2,439.9 1925.9,440.0 1927.6,441.3 1929.3,441.8 1931.0,441.3 1932.7,439.1 1934.4,442.1 1936.1,441.5 1937.8,445.5 1939.6,442.8 1941.3,438.3 1943.0,441.3 1944.7,438.8 1946.4,441.2 1948.1,442.2 1949.8,443.1 1951.5,439.0 1953.2,440.5 1954.9,437.8 1956.7,442.5 1958.4,439.5 1960.1,441.2 1961.8,440.2 1963.5,441.9 1965.2,438.4 1966.9,440.2 1968.6,446.5 1970.3,437.8 1972.1,440.7 1973.8,445.9 1975.5,445.8 1977.2,437.7 1978.9,442.1 1980.6,442.9 1982.3,444.8 1984.0,438.8 1985.7,442.1 1987.4,443.3 1989.2,441.9 1990.9,440.6 1992.6,441.6 1994.3,439.1 1996.0,442.0 1997.7,441.1 1999.4,441.9 2001.1,440.1 2002.8,442.5 2004.6,442.6 2006.3,440.6 2008.0,441.5 2009.7,440.8 2011.4,440.8 2013.1,439.5 2014.8,441.9 2016.5,440.3 2018.2,444.5 2019.9,441.9 2021.7,440.1 2023.4,438.7 2025.1,438.7 2026.8,443.0 2028.5,439.5 2030.2,440.4 2031.9,436.0 2033.6,442.3 2035.3,439.3 2037.0,436.6 2038.8,438.8 2040.5,439.5 2042.2,438.4 2043.9,437.7 2045.6,438.2 2047.3,437.6 2049.0,438.3 2050.7,440.2 2052.4,431.7 2054.2,438.7 2055.9,437.6 2057.6,437.3 2059.3,435.9 2061.0,433.6 2062.7,438.3 2064.4,439.2 2066.1,432.0 2067.8,438.6 2069.5,434.5 2071.3,435.7 2073.0,433.5 2074.7,435.3 2076.4,437.5 2078.1,434.8 2079.8,437.1 2081.5,435.0 2083.2,433.8 2084.9,436.5 2086.7,432.9 2088.4,434.3 2090.1,431.7 2091.8,432.9 2093.5,431.0 2095.2,434.4 2096.9,428.9 2098.6,433.9 2100.3,430.4 2102.0,433.3 2103.8,431.3 2105.5,433.3 2107.2,430.3 2108.9,426.6 2110.6,430.8 2112.3,427.4 2114.0,429.1 2115.7,432.1 2117.4,428.8 2119.1,426.7 2120.9,426.8 2122.6,428.8 2124.3,425.4 2126.0,426.9 2127.7,427.6 2129.4,427.7 2131.1,425.3 2132.8,419.5 2134.5,425.7 2136.3,422.6 2138.0,422.6 2139.7,423.8 2141.4,415.4 2143.1,420.1 2144.8,420.4 2146.5,414.7 2148.2,421.2 2149.9,416.1 2151.6,417.1 2153.4,413.4 2155.1,416.4 2156.8,415.2 2158.5,412.7 2160.2,412.7 2161.9,412.1 2163.6,409.0 2165.3,410.7 2167.0,409.5 2168.8,409.9 2170.5,410.1 2172.2,404.5 2173.9,407.5 2175.6,409.6 2177.3,402.6 2179.0,403.2 2180.7,404.4 2182.4,403.7 2184.1,400.0 2185.9,402.6 2187.6,399.1 2189.3,398.3 2191.0,396.5 2192.7,399.8 2194.4,390.8 2196.1,387.7 2197.8,397.0 2199.5,387.2 2201.2,389.5 2203.0,390.7 2204.7,381.1 2206.4,383.9 2208.1,381.6 2209.8,383.0 2211.5,384.4 2213.2,382.3 2214.9,380.5 2216.6,375.2 2218.4,373.6 2220.1,379.9 2221.8,374.9 2223.5,377.0 2225.2,375.6 2226.9,372.8 2228.6,374.1 2230.3,371.1 2232.0,371.9 2233.7,367.3 2235.5,369.6 2237.2,369.4 2238.9,370.1 2240.6,365.1 2242.3,368.6 2244.0,364.4 2245.7,365.1 2247.4,367.1 2249.1,356.6 2250.9,361.5 2252.6,359.4 2254.3,356.2 2256.0,361.9 2257.7,363.8 2259.4,358.2 2261.1,360.6 2262.8,362.3 2264.5,361.5 2266.2,356.0 2268.0,362.1 2269.7,355.5 2271.4,353.5 2273.1,355.1 2274.8,351.2 2276.5,353.9 2278.2,354.4 2279.9,357.2 2281.6,358.2 2283.3,345.2 2285.1,354.9 2286.8,346.5 2288.5,353.1 2290.2,347.9 2291.9,341.8 2293.6,353.4 2295.3,342.9 2297.0,344.6 2298.7,341.6 2300.5,343.1 2302.2,345.7 2303.9,340.9 2305.6,342.9 2307.3,341.1 2309.0,341.6 2310.7,330.6 2312.4,325.7 2314.1,334.4 2315.8,321.7 2317.6,326.7 2319.3,318.4 2321.0,313.8 2322.7,312.5 2324.4,314.3 2326.1,308.1 2327.8,295.4 2329.5,295.1 2331.2,294.7 2333.0,280.8 2334.7,285.8 2336.4,278.8 2338.1,277.5 2339.8,268.4 2341.5,263.7 2343.2,259.4 2344.9,261.1 2346.6,258.1 2348.3,251.7 2350.1,255.8 2351.8,242.0 2353.5,228.1 2355.2,232.1 2356.9,220.3 2358.6,216.4 2360.3,212.3 2362.0,207.3 2363.7,195.7 2365.4,198.2 2367.2,178.6 2368.9,182.4 2370.6,186.8 2372.3,163.6 2374.0,167.5 2375.7,151.5 2377.4,149.8 2379.1,138.7 2380.8,132.5 2382.6,122.7 2384.3,123.4 2386.0,109.4 2387.7,115.9 2389.4,110.9 2391.1,102.1 2392.8,96.1 2394.5,97.3 2396.2,87.6 2397.9,92.2 2399.7,72.9 2401.4,85.6 2403.1,71.7 2404.8,76.5 2406.5,84.4" stroke="#0000ff" stroke-width="4.8" fill="none" stroke-linejoin="round" stroke-linecap="round" clip-path="url(#cpi)"/>
<polyline points="1553.0,358.0 1554.7,356.8 1556.4,357.8 1558.1,356.8 1559.8,363.8 1561.6,360.5 1563.3,362.3 1565.0,361.0 1566.7,365.9 1568.4,363.8 1570.1,362.1 1571.8,362.1 1573.5,362.8 1575.2,361.8 1576.9,363.6 1578.7,361.8 1580.4,364.0 1582.1,360.6 1583.8,360.7 1585.5,363.5 1587.2,357.2 1588.9,356.6 1590.6,360.1 1592.3,353.4 1594.1,358.5 1595.8,357.1 1597.5,353.9 1599.2,353.4 1600.9,348.6 1602.6,354.0 1604.3,350.7 1606.0,347.2 1607.7,353.5 1609.4,344.8 1611.2,345.7 1612.9,345.3 1614.6,349.0 1616.3,348.5 1618.0,348.6 1619.7,347.3 1621.4,347.2 1623.1,350.9 1624.8,346.7 1626.5,347.7 1628.3,353.0 1630.0,349.1 1631.7,350.8 1633.4,351.2 1635.1,349.1 1636.8,350.4 1638.5,352.8 1640.2,350.7 1641.9,354.4 1643.7,354.0 1645.4,353.3 1647.1,359.2 1648.8,354.5 1650.5,359.9 1652.2,359.4 1653.9,362.6 1655.6,358.1 1657.3,361.9 1659.0,363.1 1660.8,364.0 1662.5,365.7 1664.2,364.8 1665.9,365.3 1667.6,368.0 1669.3,369.8 1671.0,363.0 1672.7,368.4 1674.4,369.2 1676.2,367.7 1677.9,371.1 1679.6,367.1 1681.3,367.5 1683.0,371.8 1684.7,364.0 1686.4,371.3 1688.1,375.3 1689.8,369.1 1691.5,371.8 1693.3,369.5 1695.0,372.6 1696.7,372.3 1698.4,377.0 1700.1,371.0 1701.8,370.8 1703.5,378.8 1705.2,379.4 1706.9,375.3 1708.6,375.7 1710.4,378.6 1712.1,381.5 1713.8,379.3 1715.5,381.8 1717.2,377.6 1718.9,383.5 1720.6,385.2 1722.3,383.1 1724.0,383.3 1725.8,388.6 1727.5,387.7 1729.2,385.9 1730.9,387.3 1732.6,392.1 1734.3,388.1 1736.0,390.7 1737.7,394.6 1739.4,390.6 1741.1,391.1 1742.9,389.3 1744.6,394.7 1746.3,393.5 1748.0,393.0 1749.7,396.6 1751.4,391.7 1753.1,393.2 1754.8,395.2 1756.5,396.3 1758.3,393.4 1760.0,395.4 1761.7,396.5 1763.4,398.6 1765.1,397.6 1766.8,402.1 1768.5,395.7 1770.2,403.8 1771.9,400.8 1773.6,404.3 1775.4,406.9 1777.1,402.5 1778.8,405.0 1780.5,406.6 1782.2,402.6 1783.9,408.5 1785.6,407.8 1787.3,406.3 1789.0,408.8 1790.7,407.6 1792.5,406.7 1794.2,406.6 1795.9,411.6 1797.6,411.8 1799.3,406.7 1801.0,411.1 1802.7,407.7 1804.4,410.6 1806.1,410.3 1807.9,409.5 1809.6,412.3 1811.3,413.9 1813.0,412.6 1814.7,411.3 1816.4,416.0 1818.1,412.7 1819.8,416.9 1821.5,410.3 1823.2,420.9 1825.0,412.1 1826.7,413.0 1828.4,414.3 1830.1,418.2 1831.8,417.0 1833.5,417.2 1835.2,417.2 1836.9,414.5 1838.6,417.9 1840.4,413.3 1842.1,417.7 1843.8,419.7 1845.5,414.0 1847.2,424.0 1848.9,418.9 1850.6,415.4 1852.3,420.9 1854.0,419.3 1855.7,418.3 1857.5,420.4 1859.2,418.4 1860.9,419.7 1862.6,420.7 1864.3,420.4 1866.0,420.3 1867.7,420.6 1869.4,422.0 1871.1,421.3 1872.8,418.0 1874.6,420.4 1876.3,424.4 1878.0,423.1 1879.7,421.2 1881.4,420.5 1883.1,423.2 1884.8,422.2 1886.5,418.3 1888.2,423.0 1890.0,419.2 1891.7,422.1 1893.4,422.4 1895.1,425.3 1896.8,417.0 1898.5,423.2 1900.2,423.9 1901.9,423.2 1903.6,423.5 1905.3,419.6 1907.1,422.2 1908.8,420.6 1910.5,423.8 1912.2,419.5 1913.9,420.5 1915.6,420.4 1917.3,417.7 1919.0,422.5 1920.7,418.5 1922.5,422.4 1924.2,420.1 1925.9,424.7 1927.6,421.4 1929.3,426.1 1931.0,417.1 1932.7,427.1 1934.4,423.6 1936.1,423.1 1937.8,427.3 1939.6,419.3 1941.3,425.2 1943.0,426.1 1944.7,424.3 1946.4,423.1 1948.1,425.9 1949.8,423.4 1951.5,424.5 1953.2,424.0 1954.9,427.6 1956.7,425.2 1958.4,430.1 1960.1,425.6 1961.8,422.8 1963.5,429.0 1965.2,424.1 1966.9,427.2 1968.6,427.7 1970.3,425.3 1972.1,427.6 1973.8,427.1 1975.5,429.0 1977.2,428.2 1978.9,428.6 1980.6,432.2 1982.3,429.0 1984.0,429.9 1985.7,431.5 1987.4,432.7 1989.2,431.5 1990.9,427.6 1992.6,432.6 1994.3,432.2 1996.0,432.6 1997.7,430.6 1999.4,432.0 2001.1,430.2 2002.8,432.1 2004.6,430.4 2006.3,435.7 2008.0,430.7 2009.7,431.4 2011.4,434.2 2013.1,433.1 2014.8,431.9 2016.5,434.7 2018.2,432.2 2019.9,435.2 2021.7,433.5 2023.4,434.5 2025.1,433.3 2026.8,433.3 2028.5,435.3 2030.2,431.3 2031.9,438.2 2033.6,432.7 2035.3,438.9 2037.0,434.5 2038.8,434.2 2040.5,433.9 2042.2,436.4 2043.9,435.6 2045.6,435.6 2047.3,436.5 2049.0,435.0 2050.7,437.5 2052.4,433.2 2054.2,435.8 2055.9,437.0 2057.6,433.9 2059.3,436.5 2061.0,438.8 2062.7,435.1 2064.4,435.2 2066.1,438.7 2067.8,433.4 2069.5,436.6 2071.3,438.7 2073.0,434.3 2074.7,437.7 2076.4,436.4 2078.1,439.8 2079.8,433.1 2081.5,437.0 2083.2,436.9 2084.9,438.1 2086.7,438.0 2088.4,437.7 2090.1,439.7 2091.8,437.7 2093.5,434.7 2095.2,435.9 2096.9,437.8 2098.6,437.3 2100.3,437.5 2102.0,440.3 2103.8,436.2 2105.5,440.7 2107.2,439.6 2108.9,437.6 2110.6,437.5 2112.3,441.3 2114.0,436.1 2115.7,440.2 2117.4,438.9 2119.1,441.1 2120.9,438.7 2122.6,438.8 2124.3,441.1 2126.0,437.7 2127.7,440.6 2129.4,439.2 2131.1,439.4 2132.8,436.8 2134.5,440.7 2136.3,437.9 2138.0,441.6 2139.7,443.9 2141.4,437.8 2143.1,442.0 2144.8,441.4 2146.5,437.4 2148.2,442.5 2149.9,439.3 2151.6,439.9 2153.4,442.4 2155.1,439.0 2156.8,440.1 2158.5,442.5 2160.2,442.6 2161.9,439.9 2163.6,442.0 2165.3,437.7 2167.0,441.8 2168.8,441.9 2170.5,439.1 2172.2,442.9 2173.9,441.2 2175.6,441.5 2177.3,443.2 2179.0,442.7 2180.7,438.0 2182.4,440.9 2184.1,442.8 2185.9,440.3 2187.6,445.2 2189.3,441.9 2191.0,439.0 2192.7,440.6 2194.4,439.6 2196.1,443.0 2197.8,440.0 2199.5,440.7 2201.2,439.6 2203.0,444.1 2204.7,439.5 2206.4,440.4 2208.1,438.7 2209.8,443.7 2211.5,441.7 2213.2,442.8 2214.9,443.8 2216.6,441.0 2218.4,440.9 2220.1,439.0 2221.8,443.1 2223.5,442.3 2225.2,442.0 2226.9,438.0 2228.6,445.5 2230.3,442.0 2232.0,440.6 2233.7,441.6 2235.5,438.4 2237.2,443.8 2238.9,440.9 2240.6,440.0 2242.3,446.3 2244.0,443.2 2245.7,442.0 2247.4,441.2 2249.1,439.5 2250.9,442.7 2252.6,442.7 2254.3,441.2 2256.0,441.8 2257.7,442.2 2259.4,439.5 2261.1,444.2 2262.8,443.1 2264.5,440.3 2266.2,440.8 2268.0,446.3 2269.7,442.3 2271.4,436.6 2273.1,443.3 2274.8,440.0 2276.5,440.9 2278.2,441.2 2279.9,442.4 2281.6,441.5 2283.3,439.5 2285.1,440.7 2286.8,438.8 2288.5,443.2 2290.2,442.4 2291.9,443.2 2293.6,443.0 2295.3,441.3 2297.0,441.0 2298.7,446.1 2300.5,438.5 2302.2,440.0 2303.9,442.0 2305.6,442.5 2307.3,444.2 2309.0,439.9 2310.7,439.1 2312.4,444.4 2314.1,440.4 2315.8,440.2 2317.6,440.9 2319.3,442.7 2321.0,438.4 2322.7,445.9 2324.4,440.4 2326.1,442.0 2327.8,443.7 2329.5,439.6 2331.2,442.5 2333.0,441.6 2334.7,442.7 2336.4,445.9 2338.1,437.8 2339.8,442.3 2341.5,445.6 2343.2,438.3 2344.9,445.2 2346.6,440.4 2348.3,443.3 2350.1,441.6 2351.8,441.5 2353.5,439.4 2355.2,441.6 2356.9,442.6 2358.6,439.9 2360.3,439.4 2362.0,440.1 2363.7,444.4 2365.4,442.9 2367.2,438.4 2368.9,441.4 2370.6,443.2 2372.3,440.4 2374.0,440.7 2375.7,441.8 2377.4,438.2 2379.1,440.2 2380.8,442.5 2382.6,440.4 2384.3,441.2 2386.0,440.3 2387.7,437.9 2389.4,442.0 2391.1,442.2 2392.8,440.0 2394.5,440.9 2396.2,437.5 2397.9,439.9 2399.7,439.0 2401.4,438.9 2403.1,438.6 2404.8,440.9 2406.5,439.5" stroke="#000000" stroke-width="4.8" fill="none" stroke-linejoin="round" stroke-linecap="round" clip-path="url(#cpi)"/>
<g stroke="#000" stroke-width="5.5" fill="none" stroke-linejoin="round" stroke-linecap="butt">
<rect x="266.6" y="29.4" width="2182.4" height="2754.6"/>
<line x1="266.6" y1="946.0" x2="2449.0" y2="946.0"/>
<line x1="266.6" y1="1862.5" x2="2449.0" y2="1862.5"/>
<polyline points="1511.0,29.4 1511.0,503.0 2449.0,503.0"/>
</g>
<g stroke="#000" stroke-width="4.6"><line x1="245.1" y1="880.4" x2="266.6" y2="880.4"/><line x1="245.1" y1="618.8" x2="266.6" y2="618.8"/><line x1="245.1" y1="357.2" x2="266.6" y2="357.2"/><line x1="245.1" y1="95.6" x2="266.6" y2="95.6"/><line x1="245.1" y1="1769.4" x2="266.6" y2="1769.4"/><line x1="245.1" y1="1502.6" x2="266.6" y2="1502.6"/><line x1="245.1" y1="1235.8" x2="266.6" y2="1235.8"/><line x1="245.1" y1="969.0" x2="266.6" y2="969.0"/><line x1="245.1" y1="2758.4" x2="266.6" y2="2758.4"/><line x1="245.1" y1="2467.9" x2="266.6" y2="2467.9"/><line x1="245.1" y1="2177.4" x2="266.6" y2="2177.4"/><line x1="245.1" y1="1886.9" x2="266.6" y2="1886.9"/><line x1="364.5" y1="2784.0" x2="364.5" y2="2805.0"/><line x1="861.1" y1="2784.0" x2="861.1" y2="2805.0"/><line x1="1357.7" y1="2784.0" x2="1357.7" y2="2805.0"/><line x1="1854.2" y1="2784.0" x2="1854.2" y2="2805.0"/><line x1="2350.8" y1="2784.0" x2="2350.8" y2="2805.0"/><line x1="1489.0" y1="464.0" x2="1511.0" y2="464.0"/><line x1="1489.0" y1="266.6" x2="1511.0" y2="266.6"/><line x1="1489.0" y1="69.2" x2="1511.0" y2="69.2"/><line x1="1553.7" y1="503" x2="1553.7" y2="524.5"/><line x1="1980.2" y1="503" x2="1980.2" y2="524.5"/><line x1="2406.7" y1="503" x2="2406.7" y2="524.5"/></g>
<g font-family='"Liberation Sans", Arial, Helvetica, sans-serif'><text transform="translate(149.20,116.60) scale(1,1.025)" font-size="62" fill="#000">1.6</text><text transform="translate(149.20,377.80) scale(1,1.025)" font-size="62" fill="#000">1.4</text><text transform="translate(149.25,639.00) scale(1,1.025)" font-size="62" fill="#000">1.2</text><text transform="translate(149.15,901.70) scale(1,1.025)" font-size="62" fill="#000">1.0</text><text transform="translate(148.35,989.60) scale(1,1.025)" font-size="62" fill="#000">7.0</text><text transform="translate(144.00,1260.20) scale(1,1.025)" font-size="62" fill="#000">5.0</text><text transform="translate(144.30,1523.20) scale(1,1.025)" font-size="62" fill="#000">3.0</text><text transform="translate(147.00,1791.20) scale(1,1.025)" font-size="62" fill="#000">1.0</text><text transform="translate(148.15,1909.00) scale(1,1.025)" font-size="62" fill="#000">3.5</text><text transform="translate(139.40,2199.00) scale(1,1.025)" font-size="62" fill="#000">2.5</text><text transform="translate(141.00,2490.20) scale(1,1.025)" font-size="62" fill="#000">1.5</text><text transform="translate(145.10,2780.70) scale(1,1.025)" font-size="62" fill="#000">0.5</text><text transform="translate(306.15,2859.10) scale(1,1.025)" font-size="62" fill="#000">-1.0</text><text transform="translate(808.35,2859.10) scale(1,1.025)" font-size="62" fill="#000">-0.5</text><text transform="translate(1341.55,2859.10) scale(1,1.025)" font-size="62" fill="#000">0</text><text transform="translate(1812.60,2859.10) scale(1,1.025)" font-size="62" fill="#000">0.5</text><text transform="translate(2308.05,2859.10) scale(1,1.025)" font-size="62" fill="#000">1.0</text><text transform="translate(277.70,92.80) scale(1,1.025)" font-size="62" fill="#000">(a)</text><text transform="translate(277.15,1009.70) scale(1,1.025)" font-size="62" fill="#000">(b)</text><text transform="translate(278.90,1925.00) scale(1,1.025)" font-size="62" fill="#000">(c)</text><text transform="translate(687.70,122.40) scale(1,1.025)" font-size="62" fill="#000">[7]H/Cu(111)</text><text transform="translate(640.65,1039.80) scale(1,1.025)" font-size="62" fill="#000">[7]H/Co/Cu(111)</text><text transform="translate(653.60,1964.20) scale(1,1.025)" font-size="62" fill="#000">[7]H/Fe/W(110)</text><text transform="translate(1138.60,2969.30) scale(1,1.025)" font-size="62" fill="#000">Bias voltage (V)</text><text transform="translate(1707.75,1028.50) scale(1,1.025)" font-size="56" fill="#000">substrate before</text><text transform="translate(1706.95,1123.30) scale(1,1.025)" font-size="56" fill="#000">heptahelicene</text><text transform="translate(1709.35,1228.00) scale(1,1.025)" font-size="56" fill="#000">substrate after</text><text transform="translate(1399.10,88.60) scale(1,1.025)" font-size="58" fill="#000">3.0</text><text transform="translate(1398.75,286.70) scale(1,1.025)" font-size="58" fill="#000">2.0</text><text transform="translate(1399.95,484.80) scale(1,1.025)" font-size="58" fill="#000">1.0</text><text transform="translate(1492.35,576.30) scale(1,1.025)" font-size="58" fill="#000">-2.5</text><text transform="translate(1962.75,576.30) scale(1,1.025)" font-size="58" fill="#000">0</text><text transform="translate(2362.20,576.30) scale(1,1.025)" font-size="58" fill="#000">2.5</text><text transform="translate(1658.65,222.20) scale(1,1.025)" font-size="62" fill="#0000ff">HOMO-LUMO</text><text transform="translate(1802.55,288.00) scale(1,1.025)" font-size="62" fill="#0000ff">gap</text><text transform="translate(80.9,1790.20) rotate(-90) scale(1,1.025)" font-size="62">Differential conductivity (nS)</text></g>
<g stroke-width="9.5" fill="none">
<line x1="2206.5" y1="1009.2" x2="2301.2" y2="1009.2" stroke="#ff0000"/>
<line x1="2206.5" y1="1110.4" x2="2301.2" y2="1110.4" stroke="#0000ff"/>
<line x1="2206.5" y1="1208.8" x2="2301.2" y2="1208.8" stroke="#000000"/>
</g>
<g fill="#0000ff" stroke="none">
<rect x="1649" y="316.2" width="424" height="5.6"/>
<polygon points="1641.7,319 1650.8,312.3 1650.8,325.7"/>
<polygon points="2080.7,319 2071.6,312.3 2071.6,325.7"/>
</g>
</svg></body></html>
